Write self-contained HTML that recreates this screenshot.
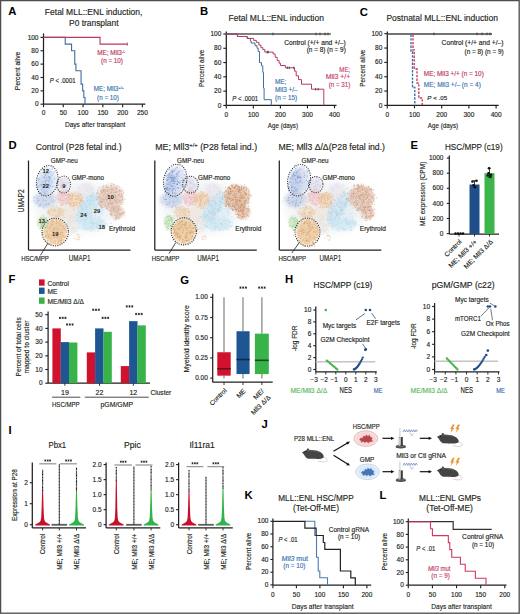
<!DOCTYPE html>
<html><head><meta charset="utf-8"><style>
html,body{margin:0;padding:0;background:#fff;}
svg{display:block;}
</style></head><body>
<svg width="520" height="614" viewBox="0 0 520 614" font-family='"Liberation Sans", sans-serif' fill="#231f20">
<defs>
<filter id="b1" x="-50%" y="-50%" width="200%" height="200%"><feGaussianBlur stdDeviation="1.6"/></filter>
<filter id="b3" x="-50%" y="-50%" width="200%" height="200%"><feGaussianBlur stdDeviation="4"/></filter>
</defs>
<rect x="0" y="0" width="520" height="614" fill="#fff"/>
<text x="8.27" y="15.45" font-size="11.3" fill="#000" font-weight="bold">A</text>
<text x="93.60" y="15.30" font-size="8.4" stroke="#231f20" stroke-width="0.15" text-anchor="middle" textLength="97.50" lengthAdjust="spacingAndGlyphs">Fetal MLL::ENL induction,</text>
<text x="93.80" y="25.60" font-size="8.4" stroke="#231f20" stroke-width="0.15" text-anchor="middle" textLength="49.50" lengthAdjust="spacingAndGlyphs">P0 transplant</text>
<line x1="43.50" y1="33.50" x2="43.50" y2="104.20" stroke="#231f20" stroke-width="1.25"/>
<line x1="40.50" y1="104.20" x2="43.50" y2="104.20" stroke="#231f20" stroke-width="1.125"/>
<text x="38.50" y="106.30" font-size="6.5" stroke="#231f20" stroke-width="0.15" text-anchor="end">0</text>
<line x1="40.50" y1="90.84" x2="43.50" y2="90.84" stroke="#231f20" stroke-width="1.125"/>
<text x="38.50" y="92.94" font-size="6.5" stroke="#231f20" stroke-width="0.15" text-anchor="end">20</text>
<line x1="40.50" y1="77.48" x2="43.50" y2="77.48" stroke="#231f20" stroke-width="1.125"/>
<text x="38.50" y="79.58" font-size="6.5" stroke="#231f20" stroke-width="0.15" text-anchor="end">40</text>
<line x1="40.50" y1="64.12" x2="43.50" y2="64.12" stroke="#231f20" stroke-width="1.125"/>
<text x="38.50" y="66.22" font-size="6.5" stroke="#231f20" stroke-width="0.15" text-anchor="end">60</text>
<line x1="40.50" y1="50.76" x2="43.50" y2="50.76" stroke="#231f20" stroke-width="1.125"/>
<text x="38.50" y="52.86" font-size="6.5" stroke="#231f20" stroke-width="0.15" text-anchor="end">80</text>
<line x1="40.50" y1="37.40" x2="43.50" y2="37.40" stroke="#231f20" stroke-width="1.125"/>
<text x="38.50" y="39.50" font-size="6.5" stroke="#231f20" stroke-width="0.15" text-anchor="end">100</text>
<line x1="43.50" y1="104.20" x2="145.40" y2="104.20" stroke="#231f20" stroke-width="1.25"/>
<line x1="43.50" y1="104.20" x2="43.50" y2="107.20" stroke="#231f20" stroke-width="1.125"/>
<text x="43.50" y="115.30" font-size="6.5" stroke="#231f20" stroke-width="0.15" text-anchor="middle">0</text>
<line x1="63.28" y1="104.20" x2="63.28" y2="107.20" stroke="#231f20" stroke-width="1.125"/>
<text x="63.28" y="115.30" font-size="6.5" stroke="#231f20" stroke-width="0.15" text-anchor="middle">50</text>
<line x1="83.05" y1="104.20" x2="83.05" y2="107.20" stroke="#231f20" stroke-width="1.125"/>
<text x="83.05" y="115.30" font-size="6.5" stroke="#231f20" stroke-width="0.15" text-anchor="middle">100</text>
<line x1="102.83" y1="104.20" x2="102.83" y2="107.20" stroke="#231f20" stroke-width="1.125"/>
<text x="102.83" y="115.30" font-size="6.5" stroke="#231f20" stroke-width="0.15" text-anchor="middle">150</text>
<line x1="122.60" y1="104.20" x2="122.60" y2="107.20" stroke="#231f20" stroke-width="1.125"/>
<text x="122.60" y="115.30" font-size="6.5" stroke="#231f20" stroke-width="0.15" text-anchor="middle">200</text>
<line x1="142.38" y1="104.20" x2="142.38" y2="107.20" stroke="#231f20" stroke-width="1.125"/>
<text x="142.38" y="115.30" font-size="6.5" stroke="#231f20" stroke-width="0.15" text-anchor="middle">250</text>
<text x="95.20" y="126.60" font-size="7.8" stroke="#231f20" stroke-width="0.15" text-anchor="middle" textLength="60.50" lengthAdjust="spacingAndGlyphs">Days after transplant</text>
<text x="20.20" y="71.00" font-size="6.8" stroke="#231f20" stroke-width="0.15" text-anchor="middle" textLength="38.50" lengthAdjust="spacingAndGlyphs" transform="rotate(-90 20.20 71.00)">Percent alive</text>
<path d="M43.50,37.40 L65.25,37.40 L65.25,37.40 L65.25,44.08 L71.58,44.08 L71.58,44.08 L71.58,50.76 L74.74,50.76 L74.74,50.76 L74.74,64.12 L75.93,64.12 L75.93,64.12 L75.93,70.80 L81.07,70.80 L81.07,70.80 L81.07,84.16 L82.65,84.16 L82.65,84.16 L82.65,90.84 L83.84,90.84 L83.84,90.84 L83.84,97.52 L85.03,97.52 L85.03,97.52 L85.03,104.20" stroke="#3f6f9c" stroke-width="1.1" fill="none"/>
<path d="M43.50,37.40 L100.06,37.40 L100.06,37.40 L100.06,44.08 L127.35,44.08" stroke="#b8385c" stroke-width="1.1" fill="none"/>
<line x1="127.35" y1="42.58" x2="127.35" y2="45.58" stroke="#b8385c" stroke-width="0.9"/>
<text x="97.30" y="54.90" font-size="6.3" stroke="#c0395e" stroke-width="0.15" fill="#c0395e">ME; Mll3<tspan font-size="3.6" dy="-2.4">-/-</tspan></text>
<text x="112.00" y="62.60" font-size="6.3" stroke="#c0395e" stroke-width="0.15" text-anchor="middle" fill="#c0395e">(n = 10)</text>
<text x="93.80" y="90.90" font-size="6.3" stroke="#3a75b0" stroke-width="0.15" fill="#3a75b0">ME; Mll3<tspan font-size="3.6" dy="-2.4">+/+</tspan></text>
<text x="108.00" y="99.50" font-size="6.3" stroke="#3a75b0" stroke-width="0.15" text-anchor="middle" fill="#3a75b0">(n = 10)</text>
<text x="49.80" y="83.40" font-size="6.9" stroke="#231f20" stroke-width="0.15" textLength="25.80" lengthAdjust="spacingAndGlyphs"><tspan font-style="italic">P</tspan> &lt; .0001</text>
<text x="199.90" y="15.45" font-size="11.3" fill="#000" font-weight="bold">B</text>
<text x="276.20" y="20.60" font-size="8.5" stroke="#231f20" stroke-width="0.15" text-anchor="middle" textLength="95.50" lengthAdjust="spacingAndGlyphs">Fetal MLL::ENL induction</text>
<line x1="226.30" y1="31.50" x2="226.30" y2="105.40" stroke="#231f20" stroke-width="1.25"/>
<line x1="223.30" y1="105.40" x2="226.30" y2="105.40" stroke="#231f20" stroke-width="1.125"/>
<text x="221.30" y="107.50" font-size="6.5" stroke="#231f20" stroke-width="0.15" text-anchor="end">0</text>
<line x1="223.30" y1="91.12" x2="226.30" y2="91.12" stroke="#231f20" stroke-width="1.125"/>
<text x="221.30" y="93.22" font-size="6.5" stroke="#231f20" stroke-width="0.15" text-anchor="end">20</text>
<line x1="223.30" y1="76.84" x2="226.30" y2="76.84" stroke="#231f20" stroke-width="1.125"/>
<text x="221.30" y="78.94" font-size="6.5" stroke="#231f20" stroke-width="0.15" text-anchor="end">40</text>
<line x1="223.30" y1="62.56" x2="226.30" y2="62.56" stroke="#231f20" stroke-width="1.125"/>
<text x="221.30" y="64.66" font-size="6.5" stroke="#231f20" stroke-width="0.15" text-anchor="end">60</text>
<line x1="223.30" y1="48.28" x2="226.30" y2="48.28" stroke="#231f20" stroke-width="1.125"/>
<text x="221.30" y="50.38" font-size="6.5" stroke="#231f20" stroke-width="0.15" text-anchor="end">80</text>
<line x1="223.30" y1="34.00" x2="226.30" y2="34.00" stroke="#231f20" stroke-width="1.125"/>
<text x="221.30" y="36.10" font-size="6.5" stroke="#231f20" stroke-width="0.15" text-anchor="end">100</text>
<line x1="226.30" y1="105.40" x2="336.50" y2="105.40" stroke="#231f20" stroke-width="1.25"/>
<line x1="226.30" y1="105.40" x2="226.30" y2="108.40" stroke="#231f20" stroke-width="1.125"/>
<text x="226.30" y="116.90" font-size="6.5" stroke="#231f20" stroke-width="0.15" text-anchor="middle">0</text>
<line x1="253.35" y1="105.40" x2="253.35" y2="108.40" stroke="#231f20" stroke-width="1.125"/>
<text x="253.35" y="116.90" font-size="6.5" stroke="#231f20" stroke-width="0.15" text-anchor="middle">100</text>
<line x1="280.40" y1="105.40" x2="280.40" y2="108.40" stroke="#231f20" stroke-width="1.125"/>
<text x="280.40" y="116.90" font-size="6.5" stroke="#231f20" stroke-width="0.15" text-anchor="middle">200</text>
<line x1="307.45" y1="105.40" x2="307.45" y2="108.40" stroke="#231f20" stroke-width="1.125"/>
<text x="307.45" y="116.90" font-size="6.5" stroke="#231f20" stroke-width="0.15" text-anchor="middle">300</text>
<line x1="334.50" y1="105.40" x2="334.50" y2="108.40" stroke="#231f20" stroke-width="1.125"/>
<text x="334.50" y="116.90" font-size="6.5" stroke="#231f20" stroke-width="0.15" text-anchor="middle">400</text>
<text x="282.90" y="127.80" font-size="7.6" stroke="#231f20" stroke-width="0.15" text-anchor="middle" textLength="30.30" lengthAdjust="spacingAndGlyphs">Age (days)</text>
<text x="203.90" y="68.40" font-size="7.8" stroke="#231f20" stroke-width="0.15" text-anchor="middle" textLength="37.30" lengthAdjust="spacingAndGlyphs" transform="rotate(-90 203.90 68.40)">Percent alive</text>
<line x1="226.30" y1="34.00" x2="330.80" y2="34.00" stroke="#555" stroke-width="1.5"/>
<line x1="273.00" y1="32.60" x2="273.00" y2="35.40" stroke="#333" stroke-width="0.8"/>
<line x1="316.00" y1="32.60" x2="316.00" y2="35.40" stroke="#333" stroke-width="0.8"/>
<line x1="320.00" y1="32.60" x2="320.00" y2="35.40" stroke="#333" stroke-width="0.8"/>
<line x1="325.00" y1="32.60" x2="325.00" y2="35.40" stroke="#333" stroke-width="0.8"/>
<line x1="328.00" y1="32.60" x2="328.00" y2="35.40" stroke="#333" stroke-width="0.8"/>
<path d="M226.30,34.00 L237.40,34.00 L237.40,36.50 L247.20,36.50 L247.20,38.40 L250.40,38.40 L250.40,41.00 L251.10,41.00 L251.10,43.00 L255.00,43.00 L255.00,45.60 L257.00,45.60 L257.00,48.20 L258.20,48.20 L258.20,51.50 L259.50,51.50 L259.50,62.60 L261.50,62.60 L261.50,65.80 L262.80,65.80 L262.80,72.30 L263.50,72.30 L263.50,88.00 L264.10,88.00 L264.10,99.70 L271.30,99.70 L271.30,105.40" stroke="#3f6f9c" stroke-width="1.0" fill="none"/>
<path d="M226.30,34.00 L237.40,34.00 L237.40,36.50 L247.20,36.50 L247.20,38.40 L253.70,38.40 L253.70,40.40 L256.30,40.40 L256.30,42.30 L258.90,42.30 L258.90,45.00 L260.90,45.00 L260.90,47.60 L262.80,47.60 L262.80,49.50 L264.80,49.50 L264.80,52.10 L273.20,52.10 L273.20,54.00 L275.20,54.00 L275.20,57.30 L277.20,57.30 L277.20,60.60 L279.10,60.60 L279.10,63.20 L280.40,63.20 L280.40,65.50 L285.40,65.50 L285.40,67.80 L294.60,67.80 L294.60,71.20 L296.20,71.20 L296.20,75.80 L298.50,75.80 L298.50,79.60 L301.50,79.60 L301.50,84.20 L311.50,84.20 L311.50,89.20 L323.80,89.20 L323.80,105.40" stroke="#b83a5e" stroke-width="1.0" fill="none"/>
<line x1="267.30" y1="50.80" x2="267.30" y2="53.40" stroke="#222" stroke-width="0.7"/>
<line x1="268.20" y1="50.80" x2="268.20" y2="53.40" stroke="#222" stroke-width="0.7"/>
<line x1="287.30" y1="66.50" x2="287.30" y2="69.10" stroke="#222" stroke-width="0.7"/>
<line x1="289.30" y1="66.50" x2="289.30" y2="69.10" stroke="#222" stroke-width="0.7"/>
<line x1="293.80" y1="66.50" x2="293.80" y2="69.10" stroke="#222" stroke-width="0.7"/>
<line x1="315.60" y1="87.90" x2="315.60" y2="90.50" stroke="#222" stroke-width="0.7"/>
<line x1="318.20" y1="87.90" x2="318.20" y2="90.50" stroke="#222" stroke-width="0.7"/>
<text x="345.80" y="45.00" font-size="6.4" stroke="#231f20" stroke-width="0.15" text-anchor="end" textLength="61.60" lengthAdjust="spacingAndGlyphs">Control (+/+ and +/–)</text>
<text x="345.80" y="52.30" font-size="6.4" stroke="#231f20" stroke-width="0.15" text-anchor="end" textLength="39.10" lengthAdjust="spacingAndGlyphs">(n = 8) (n = 9)</text>
<text x="350.30" y="71.60" font-size="6.5" stroke="#c8406a" stroke-width="0.15" text-anchor="end" fill="#c8406a" textLength="11.00" lengthAdjust="spacingAndGlyphs">ME;</text>
<text x="350.30" y="79.20" font-size="6.5" stroke="#c8406a" stroke-width="0.15" text-anchor="end" fill="#c8406a" textLength="24.50" lengthAdjust="spacingAndGlyphs">Mll3 +/+</text>
<text x="350.30" y="86.80" font-size="6.5" stroke="#c8406a" stroke-width="0.15" text-anchor="end" fill="#c8406a" textLength="21.60" lengthAdjust="spacingAndGlyphs">(n = 31)</text>
<text x="275.00" y="83.60" font-size="6.4" stroke="#3a75b0" stroke-width="0.15" fill="#3a75b0">ME;</text>
<text x="275.00" y="91.80" font-size="6.4" stroke="#3a75b0" stroke-width="0.15" fill="#3a75b0">Mll3 +/–</text>
<text x="275.00" y="100.00" font-size="6.4" stroke="#3a75b0" stroke-width="0.15" fill="#3a75b0">(n = 15)</text>
<text x="232.20" y="101.00" font-size="6.9" stroke="#231f20" stroke-width="0.15" textLength="26.00" lengthAdjust="spacingAndGlyphs"><tspan font-style="italic">P</tspan> &lt; .0001</text>
<text x="359.80" y="15.50" font-size="11.3" fill="#000" font-weight="bold">C</text>
<text x="442.20" y="20.80" font-size="8.5" stroke="#231f20" stroke-width="0.15" text-anchor="middle" textLength="111.50" lengthAdjust="spacingAndGlyphs">Postnatal MLL::ENL induction</text>
<line x1="387.30" y1="31.50" x2="387.30" y2="105.40" stroke="#231f20" stroke-width="1.25"/>
<line x1="384.30" y1="105.40" x2="387.30" y2="105.40" stroke="#231f20" stroke-width="1.125"/>
<text x="382.30" y="107.50" font-size="6.5" stroke="#231f20" stroke-width="0.15" text-anchor="end">0</text>
<line x1="384.30" y1="91.06" x2="387.30" y2="91.06" stroke="#231f20" stroke-width="1.125"/>
<text x="382.30" y="93.16" font-size="6.5" stroke="#231f20" stroke-width="0.15" text-anchor="end">20</text>
<line x1="384.30" y1="76.72" x2="387.30" y2="76.72" stroke="#231f20" stroke-width="1.125"/>
<text x="382.30" y="78.82" font-size="6.5" stroke="#231f20" stroke-width="0.15" text-anchor="end">40</text>
<line x1="384.30" y1="62.38" x2="387.30" y2="62.38" stroke="#231f20" stroke-width="1.125"/>
<text x="382.30" y="64.48" font-size="6.5" stroke="#231f20" stroke-width="0.15" text-anchor="end">60</text>
<line x1="384.30" y1="48.04" x2="387.30" y2="48.04" stroke="#231f20" stroke-width="1.125"/>
<text x="382.30" y="50.14" font-size="6.5" stroke="#231f20" stroke-width="0.15" text-anchor="end">80</text>
<line x1="384.30" y1="33.70" x2="387.30" y2="33.70" stroke="#231f20" stroke-width="1.125"/>
<text x="382.30" y="35.80" font-size="6.5" stroke="#231f20" stroke-width="0.15" text-anchor="end">100</text>
<line x1="387.30" y1="105.40" x2="498.70" y2="105.40" stroke="#231f20" stroke-width="1.25"/>
<line x1="387.30" y1="105.40" x2="387.30" y2="108.40" stroke="#231f20" stroke-width="1.125"/>
<text x="387.30" y="116.90" font-size="6.5" stroke="#231f20" stroke-width="0.15" text-anchor="middle">0</text>
<line x1="414.50" y1="105.40" x2="414.50" y2="108.40" stroke="#231f20" stroke-width="1.125"/>
<text x="414.50" y="116.90" font-size="6.5" stroke="#231f20" stroke-width="0.15" text-anchor="middle">100</text>
<line x1="441.70" y1="105.40" x2="441.70" y2="108.40" stroke="#231f20" stroke-width="1.125"/>
<text x="441.70" y="116.90" font-size="6.5" stroke="#231f20" stroke-width="0.15" text-anchor="middle">200</text>
<line x1="468.90" y1="105.40" x2="468.90" y2="108.40" stroke="#231f20" stroke-width="1.125"/>
<text x="468.90" y="116.90" font-size="6.5" stroke="#231f20" stroke-width="0.15" text-anchor="middle">300</text>
<line x1="496.10" y1="105.40" x2="496.10" y2="108.40" stroke="#231f20" stroke-width="1.125"/>
<text x="496.10" y="116.90" font-size="6.5" stroke="#231f20" stroke-width="0.15" text-anchor="middle">400</text>
<text x="443.00" y="128.20" font-size="7.6" stroke="#231f20" stroke-width="0.15" text-anchor="middle" textLength="30.30" lengthAdjust="spacingAndGlyphs">Age (days)</text>
<text x="365.50" y="68.20" font-size="7.8" stroke="#231f20" stroke-width="0.15" text-anchor="middle" textLength="37.30" lengthAdjust="spacingAndGlyphs" transform="rotate(-90 365.50 68.20)">Percent alive</text>
<line x1="387.30" y1="33.90" x2="492.00" y2="33.90" stroke="#444" stroke-width="1.5"/>
<line x1="434.00" y1="32.50" x2="434.00" y2="35.30" stroke="#333" stroke-width="0.8"/>
<line x1="477.00" y1="32.50" x2="477.00" y2="35.30" stroke="#333" stroke-width="0.8"/>
<line x1="482.00" y1="32.50" x2="482.00" y2="35.30" stroke="#333" stroke-width="0.8"/>
<line x1="487.00" y1="32.50" x2="487.00" y2="35.30" stroke="#333" stroke-width="0.8"/>
<line x1="490.00" y1="32.50" x2="490.00" y2="35.30" stroke="#333" stroke-width="0.8"/>
<path d="M411.00,34.50 L411.00,52.00 L412.50,52.00 L412.50,87.50 L414.80,87.50 L414.80,105.40" stroke="#3a6aa8" stroke-width="1.35" fill="none" stroke-dasharray="2.4 1.3"/>
<path d="M413.00,34.50 L413.00,50.00 L414.20,50.00 L414.20,69.00 L417.00,69.00 L417.00,83.00 L418.80,83.00 L418.80,98.00 L422.30,98.00 L422.30,105.40" stroke="#d0345a" stroke-width="1.35" fill="none" stroke-dasharray="2.4 1.3"/>
<text x="503.60" y="44.70" font-size="6.4" stroke="#231f20" stroke-width="0.15" text-anchor="end" textLength="62.00" lengthAdjust="spacingAndGlyphs">Control (+/+ and +/–)</text>
<text x="503.60" y="53.50" font-size="6.4" stroke="#231f20" stroke-width="0.15" text-anchor="end" textLength="39.10" lengthAdjust="spacingAndGlyphs">(n = 8) (n = 9)</text>
<text x="423.80" y="75.80" font-size="6.4" stroke="#c0395e" stroke-width="0.15" fill="#c0395e" textLength="60.00" lengthAdjust="spacingAndGlyphs">ME; Mll3 +/+ (n = 10)</text>
<text x="423.80" y="86.50" font-size="6.4" stroke="#3a75b0" stroke-width="0.15" fill="#3a75b0" textLength="57.00" lengthAdjust="spacingAndGlyphs">ME; Mll3 +/– (n = 4)</text>
<text x="427.30" y="100.30" font-size="6.2" stroke="#231f20" stroke-width="0.15"><tspan font-style="italic">P</tspan> &lt; .05</text>
<text x="8.50" y="148.55" font-size="11.3" fill="#000" font-weight="bold">D</text>
<text x="35.80" y="149.90" font-size="8.8" stroke="#231f20" stroke-width="0.15" textLength="85.80" lengthAdjust="spacingAndGlyphs">Control (P28 fetal ind.)</text>
<text x="155.30" y="149.90" font-size="8.8" stroke="#231f20" stroke-width="0.15" textLength="101.80" lengthAdjust="spacingAndGlyphs">ME; Mll3<tspan font-size="5.8" dy="-3.3">+/+</tspan><tspan dy="3.3"> (P28 fetal ind.)</tspan></text>
<text x="278.60" y="150.00" font-size="8.8" stroke="#231f20" stroke-width="0.15" textLength="106.40" lengthAdjust="spacingAndGlyphs">ME; Mll3 Δ/Δ(P28 fetal ind.)</text>
<ellipse cx="76.50" cy="207.00" rx="42" ry="27" fill="#eef1f4" fill-opacity="0.8" filter="url(#b3)"/>
<ellipse cx="45.00" cy="199.50" rx="12" ry="8" fill="#dde3ee" fill-opacity="0.8" filter="url(#b1)"/>
<ellipse cx="86.20" cy="191.70" rx="9" ry="9" fill="#eaeaef" fill-opacity="0.9" filter="url(#b1)"/>
<ellipse cx="68.50" cy="214.00" rx="9" ry="8" fill="#efe6dc" fill-opacity="0.8" filter="url(#b1)"/>
<ellipse cx="45.00" cy="199.50" rx="10.35" ry="6.75" fill="#d8dfec" fill-opacity="0.5" filter="url(#b1)"/>
<path d="M53.4 205.2h0M54.2 196.6h0M43.6 198.0h0M50.6 203.8h0M47.8 198.2h0M46.4 203.8h0M42.8 201.5h0M53.2 199.4h0M36.7 196.2h0M54.3 205.8h0M52.8 197.5h0M43.0 197.4h0M46.7 193.8h0M39.6 200.8h0M45.1 201.2h0M42.7 199.5h0M46.2 206.5h0M52.0 200.6h0M33.8 196.9h0" stroke="#c9d3e4" stroke-width="1.15" stroke-linecap="round" stroke-opacity="0.68" fill="none"/>
<path d="M55.1 197.3h0M47.7 192.2h0M40.0 193.6h0M39.8 199.2h0M48.4 199.2h0M51.9 204.2h0M38.8 200.4h0M43.2 206.5h0M50.1 204.0h0M50.9 193.9h0M42.1 204.4h0M54.9 200.5h0M36.2 195.4h0M54.5 203.6h0M43.5 192.7h0M41.1 199.6h0M41.0 205.5h0M52.3 200.7h0M43.0 200.4h0M44.8 197.1h0M38.3 198.2h0M48.8 202.9h0M52.0 202.0h0M50.9 203.6h0M43.5 201.7h0" stroke="#d6dce8" stroke-width="1.15" stroke-linecap="round" stroke-opacity="0.68" fill="none"/>
<path d="M55.2 200.7h0M38.2 199.2h0M39.8 198.4h0M46.9 203.7h0M50.7 201.7h0M52.8 200.6h0M45.6 200.7h0M33.6 201.0h0M53.0 196.0h0M39.3 205.4h0M48.4 203.0h0M50.9 200.9h0M48.6 203.9h0M48.1 205.3h0M48.3 197.9h0M53.7 200.1h0M50.8 194.5h0M46.5 204.1h0M39.3 205.3h0M44.5 200.3h0M50.4 197.8h0M45.8 190.9h0M48.2 202.9h0M51.5 201.2h0M51.9 194.7h0M40.0 195.7h0M40.0 195.7h0" stroke="#b9c6de" stroke-width="1.15" stroke-linecap="round" stroke-opacity="0.68" fill="none"/>
<path d="M41.2 199.5h0M38.5 195.4h0M41.6 201.9h0M43.4 206.1h0M37.1 197.7h0M38.5 199.9h0M39.5 204.2h0M50.2 195.8h0M35.2 202.5h0M42.4 196.2h0M38.2 200.6h0M40.1 191.3h0M49.5 200.1h0M44.4 193.7h0M55.7 200.7h0M47.2 195.5h0M46.3 201.6h0M40.5 200.8h0M51.5 204.8h0M46.6 195.0h0M48.7 200.1h0M41.7 202.1h0M47.0 201.2h0M41.3 202.5h0M46.1 200.6h0M36.4 194.8h0M53.1 204.2h0M40.7 205.0h0" stroke="#e4e8f0" stroke-width="1.15" stroke-linecap="round" stroke-opacity="0.68" fill="none"/>
<path d="M42.1 198.1h0M52.3 205.9h0M54.2 202.4h0M47.3 201.1h0M49.4 193.0h0M37.5 196.3h0M45.5 203.3h0M47.9 194.0h0M51.3 196.3h0M48.5 206.8h0M42.5 194.7h0M54.6 200.2h0M41.9 204.0h0M54.0 203.2h0M46.4 198.0h0M36.5 200.7h0M52.5 201.5h0M43.6 202.9h0M44.5 205.3h0M49.5 199.1h0M44.9 197.4h0M56.7 202.9h0M45.4 206.9h0M49.4 195.3h0M41.2 193.0h0M37.2 194.3h0M53.2 195.3h0M51.4 199.5h0M40.9 196.2h0M41.8 202.3h0M37.3 203.4h0" stroke="#e8e0e4" stroke-width="1.15" stroke-linecap="round" stroke-opacity="0.68" fill="none"/>
<ellipse cx="89.50" cy="212.00" rx="13.50" ry="14.40" fill="#d8edf5" fill-opacity="0.55" filter="url(#b1)"/>
<path d="M81.5 222.1h0M92.6 214.9h0M101.1 206.5h0M89.2 205.5h0M81.1 220.1h0M74.0 208.3h0M102.2 212.4h0M76.3 210.3h0M89.6 216.9h0M102.5 210.3h0M96.2 206.9h0M75.5 209.1h0M82.6 198.5h0M83.0 211.5h0M99.3 224.6h0M87.0 209.4h0M95.0 203.6h0M100.7 220.9h0M97.4 209.5h0M88.1 222.2h0M102.0 205.4h0M95.1 213.8h0M93.6 209.4h0M102.9 210.8h0M77.1 207.5h0M87.1 218.2h0M75.2 201.5h0M100.7 208.7h0M103.0 212.6h0M80.2 215.7h0M81.9 205.6h0M90.3 216.5h0M82.4 201.9h0M101.6 220.7h0" stroke="#c4e2f0" stroke-width="1.15" stroke-linecap="round" stroke-opacity="0.68" fill="none"/>
<path d="M91.5 215.3h0M95.2 222.3h0M93.2 217.5h0M102.1 213.6h0M83.2 220.0h0M78.1 199.7h0M87.2 222.7h0M87.3 216.6h0M80.6 207.2h0M85.3 219.9h0M85.6 219.9h0M91.8 207.6h0M99.2 200.3h0M83.5 204.9h0M93.6 213.3h0M93.8 211.4h0M100.4 205.8h0M94.0 199.9h0M102.2 209.5h0M86.7 211.0h0M87.1 205.8h0M85.6 222.5h0M76.1 214.9h0M80.8 224.9h0M88.0 221.0h0M96.3 205.9h0M88.8 196.0h0M77.9 221.5h0M102.5 215.1h0M89.0 217.4h0M93.2 203.4h0M83.1 204.1h0M89.9 205.1h0M79.3 214.5h0M96.3 218.4h0M96.0 223.4h0M92.8 225.4h0M100.3 199.9h0" stroke="#d4ecf6" stroke-width="1.15" stroke-linecap="round" stroke-opacity="0.68" fill="none"/>
<path d="M99.8 211.1h0M95.8 207.0h0M91.3 223.2h0M85.5 223.0h0M94.7 210.5h0M91.6 222.9h0M86.3 204.6h0M86.3 225.9h0M97.5 206.2h0M81.9 207.4h0M92.6 198.0h0M84.7 221.1h0M82.9 214.3h0M81.4 206.3h0M84.2 197.0h0M95.6 213.7h0M84.1 205.1h0M102.7 209.8h0M76.9 217.7h0M96.2 205.0h0M87.2 217.0h0M83.7 206.2h0M95.4 215.9h0M80.3 215.3h0M100.4 201.2h0M83.2 221.5h0M96.8 200.2h0M90.6 227.0h0M98.9 211.3h0M96.5 210.1h0M89.6 201.6h0M94.3 204.9h0M77.9 211.9h0M84.6 208.8h0M88.7 223.8h0M88.2 215.8h0M87.8 214.7h0M75.7 217.5h0M100.1 208.0h0M97.7 216.7h0M78.0 213.6h0M88.9 219.5h0M95.5 223.8h0M79.7 213.3h0" stroke="#b4dcec" stroke-width="1.15" stroke-linecap="round" stroke-opacity="0.68" fill="none"/>
<path d="M92.1 211.4h0M90.8 221.8h0M85.2 213.3h0M93.6 200.1h0M100.7 220.4h0M91.2 212.1h0M99.9 216.2h0M88.3 202.9h0M102.9 204.1h0M90.1 225.7h0M93.6 197.6h0M79.0 213.6h0M96.5 223.5h0M85.0 203.3h0M95.3 207.3h0M86.6 199.5h0M98.2 219.5h0M74.3 214.0h0M80.9 203.5h0M86.5 224.9h0M99.9 220.9h0M100.4 207.0h0M94.2 219.8h0M92.4 218.5h0M91.1 214.2h0M101.0 213.5h0M89.5 199.1h0M100.8 207.3h0M89.0 206.3h0M91.9 213.4h0M95.2 214.5h0M93.1 224.5h0M92.0 201.6h0M84.6 209.9h0M93.4 214.1h0M88.3 207.2h0M94.0 220.4h0M93.5 223.1h0M99.8 217.7h0M90.1 215.8h0M82.1 221.1h0M91.2 215.3h0" stroke="#e4d8dc" stroke-width="1.15" stroke-linecap="round" stroke-opacity="0.68" fill="none"/>
<ellipse cx="47.20" cy="180.70" rx="9.06" ry="13.17" fill="#c4d2ec" fill-opacity="0.45" filter="url(#b1)" transform="rotate(12 47.20 180.70)"/>
<path d="M51.5 175.4h0M41.6 185.6h0M48.9 193.0h0M53.9 185.4h0M41.7 188.1h0M50.4 171.4h0M44.6 190.0h0M43.4 192.1h0M47.6 176.5h0M48.3 170.3h0M55.9 185.5h0M43.0 169.9h0M53.8 186.4h0M52.1 179.0h0M52.0 181.7h0M42.8 192.1h0M41.5 169.1h0M46.7 188.3h0M44.4 180.7h0M42.2 173.1h0M51.4 166.4h0M51.0 182.1h0M46.3 176.8h0M58.3 180.8h0M48.1 183.6h0M44.1 173.4h0M51.4 169.4h0M47.9 166.4h0M41.1 193.2h0M56.7 185.6h0M46.8 172.6h0M36.4 185.7h0M53.1 182.4h0M40.7 175.6h0M44.2 176.5h0M45.2 192.5h0M48.0 183.2h0M56.3 173.0h0M49.8 185.1h0M43.9 187.0h0" stroke="#c8d4ec" stroke-width="1.15" stroke-linecap="round" stroke-opacity="0.68" fill="none"/>
<path d="M43.3 181.1h0M37.6 184.8h0M52.1 171.7h0M53.0 167.3h0M50.1 172.6h0M45.6 181.7h0M45.2 194.2h0M56.4 182.8h0M50.6 179.5h0M51.1 184.6h0M47.3 193.0h0M43.2 173.3h0M48.9 189.5h0M56.3 178.2h0M51.5 166.5h0M50.1 179.2h0M50.9 178.4h0M38.2 189.7h0M54.7 182.0h0M52.3 175.1h0M55.0 180.4h0M51.3 185.5h0M52.0 183.6h0M46.2 187.2h0M41.6 193.1h0M49.4 168.6h0M55.0 176.1h0M45.4 188.8h0M42.7 170.1h0M53.0 186.2h0M43.9 188.5h0M44.4 184.7h0M49.8 186.6h0M51.4 186.9h0M49.1 171.0h0" stroke="#dce4f2" stroke-width="1.15" stroke-linecap="round" stroke-opacity="0.68" fill="none"/>
<path d="M43.3 179.7h0M39.2 173.4h0M51.8 177.9h0M53.6 172.7h0M51.3 191.9h0M55.9 178.6h0M48.1 193.2h0M50.5 175.1h0M51.3 182.8h0M50.4 190.1h0M53.0 183.0h0M42.1 184.5h0M41.6 169.1h0M44.9 170.7h0M41.7 173.6h0M44.4 188.8h0M50.6 176.6h0M46.9 178.1h0M47.5 186.7h0M40.4 178.5h0M49.9 189.3h0M50.1 183.9h0M46.2 171.0h0M44.4 169.3h0M39.7 186.3h0M43.9 168.3h0M54.6 177.2h0M46.4 178.9h0M52.2 176.2h0M37.9 187.7h0M45.0 186.6h0M42.3 194.7h0" stroke="#e6dce6" stroke-width="1.15" stroke-linecap="round" stroke-opacity="0.68" fill="none"/>
<path d="M44.8 190.5h0M39.2 186.9h0M39.1 189.8h0M52.6 178.7h0M37.3 177.6h0M45.1 194.4h0M46.6 184.3h0M43.5 170.7h0M40.1 177.8h0M43.4 183.9h0M52.9 175.0h0M45.9 175.7h0M45.5 191.4h0M50.4 168.6h0M39.8 174.5h0M45.8 187.2h0M48.5 180.3h0M47.6 185.1h0M44.8 186.9h0M51.2 166.4h0M47.8 168.6h0M49.1 189.1h0M54.2 186.9h0M50.9 171.8h0M48.0 176.0h0M47.4 168.4h0M45.5 189.6h0M56.9 180.7h0" stroke="#d0dcf0" stroke-width="1.15" stroke-linecap="round" stroke-opacity="0.68" fill="none"/>
<path d="M40.5 173.1h0M54.4 179.7h0M48.8 187.1h0M42.2 186.6h0M44.2 188.0h0M40.6 188.9h0M51.8 190.0h0M53.5 173.6h0M44.1 192.9h0M46.0 178.6h0M41.0 183.8h0M52.3 175.4h0M51.1 171.7h0M55.9 176.0h0M51.8 173.8h0M41.6 190.1h0M46.3 167.5h0M40.2 181.7h0M45.2 174.5h0M49.4 185.4h0M39.5 184.7h0M45.5 180.7h0M44.2 168.6h0M50.3 190.8h0M50.3 176.7h0M49.4 176.6h0M50.7 190.7h0M44.3 172.6h0M55.0 171.4h0M43.6 187.8h0M44.3 167.7h0M52.1 174.9h0M39.2 179.0h0M42.3 177.4h0" stroke="#b4c6e8" stroke-width="1.15" stroke-linecap="round" stroke-opacity="0.68" fill="none"/>
<path d="M45.1 182.2h0M43.4 169.8h0M43.9 192.1h0M39.9 186.8h0M46.6 190.0h0M43.9 176.9h0M45.0 189.0h0M53.4 172.0h0M39.0 191.1h0M39.0 173.3h0M40.2 183.2h0M51.0 182.8h0M37.8 185.7h0M45.4 187.2h0M54.5 178.6h0M37.6 179.7h0M47.2 172.1h0M49.3 188.0h0M51.0 177.3h0M50.2 171.7h0M38.3 187.3h0M50.5 173.8h0M52.6 168.8h0M47.6 171.7h0M49.8 178.5h0" stroke="#9fb5e0" stroke-width="1.15" stroke-linecap="round" stroke-opacity="0.68" fill="none"/>
<ellipse cx="44.70" cy="183.70" rx="6.68" ry="10.40" fill="#c4d2ec" fill-opacity="0.45" filter="url(#b1)" transform="rotate(12 44.70 183.70)"/>
<path d="M51.4 186.2h0M43.5 173.8h0M40.0 190.3h0M48.1 175.9h0M48.3 186.0h0M41.7 182.6h0M45.8 195.3h0M46.5 170.4h0M37.8 185.3h0M48.1 178.2h0M42.5 182.4h0M44.9 179.4h0M47.4 189.9h0M50.6 176.6h0M46.1 175.1h0M41.8 190.4h0M39.7 179.5h0M42.8 188.7h0M46.3 189.8h0M49.0 188.4h0M42.0 177.8h0M49.0 184.4h0M48.4 174.1h0M44.2 178.6h0M52.4 182.6h0M45.0 192.8h0M38.1 182.5h0M49.7 187.5h0" stroke="#b4c6e8" stroke-width="1.15" stroke-linecap="round" stroke-opacity="0.68" fill="none"/>
<path d="M49.1 180.4h0M42.4 191.3h0M46.9 183.8h0M49.7 183.8h0M47.1 186.5h0M49.8 179.9h0M45.9 186.9h0M40.6 193.5h0M42.1 187.7h0M41.8 192.8h0M43.4 181.4h0M44.1 177.9h0M46.5 181.0h0M42.6 183.5h0M46.2 187.2h0M41.5 189.4h0M39.2 192.4h0M49.2 179.5h0M48.0 173.5h0M47.1 178.3h0M43.3 184.6h0M42.8 184.9h0M43.9 184.6h0M41.0 184.2h0M44.1 186.7h0" stroke="#9fb5e0" stroke-width="1.15" stroke-linecap="round" stroke-opacity="0.68" fill="none"/>
<path d="M47.6 177.3h0M45.5 177.7h0M48.3 189.6h0M50.5 185.9h0M45.9 191.5h0M51.7 177.6h0M47.0 175.2h0M49.7 187.5h0M44.6 187.4h0M50.9 180.2h0M36.8 184.6h0M35.1 186.0h0M41.6 191.5h0M51.7 177.5h0M50.1 185.6h0M40.6 181.5h0M45.7 193.1h0M39.5 185.1h0M43.5 180.7h0M41.2 180.1h0M41.9 194.0h0M44.9 191.0h0M41.4 179.9h0M41.4 176.0h0M51.5 183.7h0M45.9 181.2h0M42.1 187.3h0M47.2 187.5h0M45.0 185.9h0M41.1 179.5h0" stroke="#cad6ee" stroke-width="1.15" stroke-linecap="round" stroke-opacity="0.68" fill="none"/>
<path d="M38.1 180.5h0M47.1 184.0h0M41.8 184.6h0M47.1 173.5h0M42.3 181.0h0M48.8 177.6h0M44.8 194.2h0M50.7 186.1h0M45.7 173.7h0M44.5 186.5h0M44.3 176.9h0M38.9 187.2h0M45.7 182.8h0M49.6 177.4h0M38.2 189.7h0M47.0 191.3h0M46.3 177.2h0M51.7 181.4h0M49.5 172.2h0M38.7 180.5h0M39.8 179.2h0M44.1 177.9h0M49.9 185.9h0M44.2 193.9h0M43.6 182.5h0M46.7 180.4h0M46.3 185.5h0M47.4 193.8h0M39.8 177.8h0" stroke="#8ea8da" stroke-width="1.15" stroke-linecap="round" stroke-opacity="0.68" fill="none"/>
<path d="M49.2 175.2h0M42.5 175.1h0M44.2 190.9h0M41.0 185.2h0M46.3 183.8h0M42.2 177.3h0M40.3 186.0h0M43.5 192.6h0M46.6 193.3h0M42.7 179.6h0M49.8 185.7h0M47.6 181.8h0M40.8 183.9h0M37.5 186.6h0M50.0 189.5h0M42.8 182.9h0M42.4 185.1h0M48.3 176.1h0M40.2 185.9h0M45.3 193.1h0M47.3 182.7h0M44.6 185.5h0M43.5 178.9h0M41.8 191.4h0M40.5 179.0h0M45.7 179.7h0M41.8 179.8h0M47.6 176.0h0M44.1 185.9h0M47.5 190.0h0M43.9 183.8h0M39.8 178.9h0M42.0 182.6h0" stroke="#dce4f2" stroke-width="1.15" stroke-linecap="round" stroke-opacity="0.68" fill="none"/>
<path d="M38.6 182.0h0M49.5 184.7h0M45.6 180.9h0M50.1 179.3h0M48.7 181.3h0M43.6 186.6h0M45.5 174.8h0M50.0 178.7h0M47.9 180.2h0M44.6 191.7h0M45.5 182.3h0M48.6 182.1h0M45.6 183.5h0M38.6 178.9h0M46.4 180.6h0M38.3 185.5h0M40.8 192.9h0M48.5 176.7h0M43.8 184.9h0M37.8 186.8h0M37.3 187.9h0M52.5 186.7h0M37.4 183.6h0M45.1 187.1h0M41.0 184.5h0M46.8 187.4h0M49.6 176.8h0M45.1 175.6h0M40.6 185.7h0M43.4 190.0h0M44.7 193.4h0M41.9 185.8h0" stroke="#7f9cd4" stroke-width="1.15" stroke-linecap="round" stroke-opacity="0.68" fill="none"/>
<ellipse cx="72.50" cy="224.00" rx="6.30" ry="9.00" fill="#ece6e2" fill-opacity="0.5" filter="url(#b1)"/>
<path d="M78.4 224.1h0M78.1 228.9h0M73.7 232.5h0M79.8 221.0h0M67.8 223.5h0M72.6 227.4h0M71.6 228.1h0M78.8 221.9h0M68.8 226.4h0M67.5 225.4h0M75.0 216.4h0M69.5 216.0h0M72.7 229.1h0M69.8 221.8h0M73.2 231.5h0" stroke="#e6dcd4" stroke-width="1.15" stroke-linecap="round" stroke-opacity="0.68" fill="none"/>
<path d="M65.3 226.3h0M70.4 217.2h0M73.4 229.7h0M70.8 231.3h0M69.3 227.6h0M73.3 215.9h0M71.3 228.4h0M80.0 222.7h0M72.0 218.4h0M74.7 231.8h0M71.6 215.9h0M74.2 223.2h0M68.1 221.7h0M71.2 222.9h0M75.5 222.9h0M74.3 225.2h0M72.9 217.6h0M78.5 221.4h0M74.8 229.3h0M75.8 231.4h0" stroke="#dde4ec" stroke-width="1.15" stroke-linecap="round" stroke-opacity="0.68" fill="none"/>
<path d="M73.3 220.7h0M72.7 217.2h0M69.6 224.2h0M70.4 229.0h0M70.9 224.1h0M76.6 229.1h0M72.9 227.3h0M74.3 214.3h0M70.2 226.3h0M70.7 224.6h0M78.3 221.5h0M68.5 229.9h0M74.8 228.3h0M71.9 230.5h0M69.9 221.2h0" stroke="#ecd8c4" stroke-width="1.15" stroke-linecap="round" stroke-opacity="0.68" fill="none"/>
<path d="M76.9 217.7h0M67.0 222.0h0M65.9 219.3h0M77.4 227.6h0M71.4 217.8h0M69.5 217.2h0M75.8 228.6h0M75.6 230.9h0M74.4 226.6h0M75.0 225.9h0M71.7 234.6h0M78.1 218.3h0M67.9 220.6h0M70.3 219.7h0M70.6 215.1h0" stroke="#d8e6ee" stroke-width="1.15" stroke-linecap="round" stroke-opacity="0.68" fill="none"/>
<ellipse cx="43.70" cy="200.70" rx="8.10" ry="6.30" fill="#c4d2ec" fill-opacity="0.35" filter="url(#b1)"/>
<path d="M52.7 202.3h0M42.6 198.3h0M37.0 202.1h0M39.2 195.6h0M46.4 205.8h0M42.0 205.6h0M44.0 197.7h0M47.3 204.3h0M38.5 199.3h0M40.6 196.7h0M50.1 205.8h0M40.8 198.7h0M44.9 197.6h0M39.8 196.1h0M46.3 199.8h0M40.5 196.0h0M37.7 196.5h0M41.5 204.3h0M51.4 202.8h0" stroke="#cad6ee" stroke-width="1.15" stroke-linecap="round" stroke-opacity="0.68" fill="none"/>
<path d="M38.4 200.5h0M44.1 208.0h0M38.5 204.2h0M40.7 203.9h0M36.6 202.9h0M46.5 197.6h0M42.4 201.7h0M50.6 196.4h0M42.1 195.9h0M39.2 206.3h0M43.4 200.0h0M45.1 195.6h0M40.7 205.1h0M40.0 205.1h0" stroke="#8ea8da" stroke-width="1.15" stroke-linecap="round" stroke-opacity="0.68" fill="none"/>
<path d="M38.9 204.1h0M40.0 197.7h0M47.0 196.7h0M50.7 198.2h0M43.6 201.9h0M40.7 196.8h0M46.0 201.8h0M47.6 195.4h0M51.0 199.7h0" stroke="#dce4f2" stroke-width="1.15" stroke-linecap="round" stroke-opacity="0.68" fill="none"/>
<path d="M34.7 197.7h0M38.2 200.9h0M37.4 198.2h0M44.9 204.5h0M49.4 197.1h0M43.8 206.8h0M53.8 201.6h0M46.5 204.0h0M51.7 198.9h0M45.8 193.5h0M48.5 204.1h0M46.1 200.9h0" stroke="#7f9cd4" stroke-width="1.15" stroke-linecap="round" stroke-opacity="0.68" fill="none"/>
<path d="M46.4 204.9h0M47.5 206.8h0M38.3 196.7h0M40.1 195.7h0M37.1 203.3h0M34.6 200.5h0M45.5 198.5h0M45.6 196.2h0M49.2 204.2h0M49.3 196.8h0M39.9 198.4h0M38.0 202.0h0M48.8 202.2h0M41.6 200.4h0M44.2 204.9h0M46.6 195.6h0M41.5 197.2h0M49.0 198.9h0M42.4 196.8h0M46.4 196.7h0" stroke="#c8d4ec" stroke-width="1.15" stroke-linecap="round" stroke-opacity="0.68" fill="none"/>
<path d="M43.2 202.2h0M46.7 201.8h0M41.9 202.9h0M45.1 205.8h0M40.3 200.6h0M51.3 199.9h0M52.4 199.3h0M52.2 203.5h0M41.5 196.9h0M48.0 197.9h0M41.7 200.9h0M51.3 203.5h0M38.1 202.9h0M45.3 202.0h0M42.5 205.0h0M47.1 201.3h0M44.6 196.6h0M45.0 197.2h0M41.2 204.8h0M47.1 198.0h0M49.5 205.4h0" stroke="#d8e0f0" stroke-width="1.15" stroke-linecap="round" stroke-opacity="0.68" fill="none"/>
<ellipse cx="63.60" cy="184.50" rx="5.59" ry="6.89" fill="#dadcec" fill-opacity="0.6" filter="url(#b1)"/>
<path d="M60.0 180.1h0M63.8 182.3h0M65.5 191.4h0M60.9 184.0h0M59.6 190.7h0M58.9 187.0h0M66.3 183.8h0M57.7 183.4h0M66.2 189.5h0M61.2 181.5h0M64.0 181.5h0M66.2 189.9h0M58.6 180.6h0" stroke="#c8cce4" stroke-width="1.15" stroke-linecap="round" stroke-opacity="0.68" fill="none"/>
<path d="M58.1 184.8h0M63.7 185.8h0M63.4 190.9h0M62.6 183.5h0M61.0 180.2h0M68.9 182.8h0M64.7 187.3h0M60.9 179.1h0M68.1 187.0h0M65.9 185.6h0M62.4 178.7h0M61.9 186.1h0M57.9 180.7h0M61.1 186.9h0M64.2 185.2h0" stroke="#b8bedc" stroke-width="1.15" stroke-linecap="round" stroke-opacity="0.68" fill="none"/>
<path d="M60.7 178.8h0M65.3 179.5h0M64.1 185.7h0M62.4 188.4h0M67.8 183.5h0M58.0 182.2h0M66.7 180.5h0M65.8 178.6h0M67.6 189.4h0M58.2 184.6h0M69.5 183.0h0M67.1 182.5h0M64.1 178.8h0M59.7 181.5h0M65.8 186.0h0M67.3 184.2h0M64.2 178.7h0M61.4 188.2h0M62.5 186.9h0" stroke="#dcdcea" stroke-width="1.15" stroke-linecap="round" stroke-opacity="0.68" fill="none"/>
<path d="M60.3 183.4h0M57.6 182.2h0M60.9 185.7h0M67.3 179.3h0M61.2 184.5h0M68.4 183.1h0M61.3 180.3h0M61.8 182.4h0M59.9 185.1h0M64.1 190.6h0M63.7 183.5h0M61.6 190.8h0M63.9 185.3h0M62.9 187.0h0M62.1 188.3h0M67.2 189.7h0M59.0 184.9h0M64.9 177.6h0M62.5 186.3h0M68.8 183.8h0M63.0 181.3h0M58.6 181.6h0M68.8 182.8h0" stroke="#e6d0d8" stroke-width="1.15" stroke-linecap="round" stroke-opacity="0.68" fill="none"/>
<path d="M62.5 176.3h0M59.7 179.3h0M59.4 181.7h0M61.7 188.2h0M66.1 184.8h0M64.1 183.4h0M59.3 189.8h0M60.0 188.2h0M67.2 181.5h0M65.1 182.5h0" stroke="#d0d4e8" stroke-width="1.15" stroke-linecap="round" stroke-opacity="0.68" fill="none"/>
<path d="M92.6 189.4h0M92.1 192.2h0M85.8 189.0h0M90.3 195.2h0M86.4 195.1h0M81.7 199.8h0M87.3 196.1h0M87.0 190.0h0M87.1 187.1h0M89.7 186.6h0M88.8 197.1h0M82.7 194.9h0M81.0 190.1h0M81.5 194.5h0M87.6 189.0h0M85.4 189.1h0M88.1 191.5h0M81.2 196.2h0M80.6 193.2h0M89.5 197.4h0M84.1 194.3h0M87.3 200.1h0M91.5 192.2h0" stroke="#e0e0e8" stroke-width="1.15" stroke-linecap="round" stroke-opacity="0.68" fill="none"/>
<path d="M92.7 192.3h0M90.3 196.2h0M86.8 189.7h0M93.6 193.3h0M79.4 192.8h0M86.9 195.9h0M91.5 189.2h0M88.3 195.7h0M78.1 187.9h0M83.5 197.1h0M88.9 184.3h0M89.5 195.8h0M86.1 186.4h0M89.6 189.7h0M84.7 195.5h0M77.9 192.1h0" stroke="#d8dae6" stroke-width="1.15" stroke-linecap="round" stroke-opacity="0.68" fill="none"/>
<path d="M87.5 198.7h0M83.4 194.6h0M80.1 192.9h0M82.5 199.8h0M85.6 189.5h0M86.4 194.5h0M84.6 194.5h0M83.2 184.4h0M86.2 199.9h0M88.1 192.0h0M79.8 194.9h0M91.2 197.7h0M89.5 195.3h0M91.0 194.6h0M87.5 184.0h0M82.4 191.9h0M85.6 189.4h0M81.7 194.3h0M90.1 188.8h0M89.3 186.4h0M90.7 186.5h0" stroke="#ece2e4" stroke-width="1.15" stroke-linecap="round" stroke-opacity="0.68" fill="none"/>
<path d="M84.5 198.6h0M84.1 194.3h0M84.3 196.4h0M82.9 189.8h0M89.8 195.3h0M80.9 194.6h0M82.9 198.2h0M83.6 191.0h0M83.6 191.9h0M87.5 189.0h0M83.8 199.6h0M87.6 192.1h0M78.7 192.9h0M91.4 190.5h0M83.5 185.1h0M91.1 195.0h0M89.5 192.1h0" stroke="#e4eef4" stroke-width="1.15" stroke-linecap="round" stroke-opacity="0.68" fill="none"/>
<ellipse cx="64.10" cy="197.60" rx="7.02" ry="7.20" fill="#f0c4c6" fill-opacity="0.6" filter="url(#b1)"/>
<path d="M67.1 197.9h0M60.6 194.0h0M65.5 205.2h0M60.3 197.8h0M70.1 197.1h0M59.0 198.3h0M60.5 192.5h0M62.4 194.9h0M58.6 202.5h0M64.0 195.3h0M66.8 203.7h0M63.8 200.3h0M65.8 195.5h0M59.0 200.1h0M62.0 193.5h0M61.7 205.4h0M57.9 198.6h0M65.6 200.2h0M71.2 196.7h0M66.8 194.6h0M62.3 194.7h0M59.9 195.2h0M62.9 191.8h0M68.5 195.1h0M62.5 191.4h0M60.7 203.9h0M60.7 205.4h0M60.4 194.5h0" stroke="#eebcc0" stroke-width="1.15" stroke-linecap="round" stroke-opacity="0.68" fill="none"/>
<path d="M57.4 195.1h0M62.7 205.3h0M70.2 195.3h0M69.5 195.9h0M66.5 193.2h0M72.0 194.8h0M66.9 203.9h0M68.0 200.0h0M62.8 204.5h0M65.4 195.3h0M64.6 198.5h0M68.4 193.9h0M71.3 193.2h0M62.5 196.2h0M62.8 203.7h0M67.8 203.2h0M62.5 200.9h0M68.2 196.8h0M68.0 200.7h0M58.0 199.4h0M56.2 197.7h0M62.9 196.3h0M62.0 203.9h0M62.0 192.3h0M62.9 195.0h0M65.8 195.1h0M59.8 200.3h0M61.7 195.1h0M62.6 192.5h0" stroke="#e6a8b0" stroke-width="1.15" stroke-linecap="round" stroke-opacity="0.68" fill="none"/>
<path d="M58.4 192.5h0M57.8 193.3h0M69.4 193.3h0M67.4 201.7h0M62.8 194.8h0M66.8 199.3h0M61.3 190.6h0M61.7 192.9h0M66.0 203.6h0M60.1 195.1h0M66.7 193.1h0M62.6 198.3h0M71.4 197.0h0M59.5 195.3h0M70.4 195.1h0M59.7 195.2h0M57.6 198.8h0M71.6 192.5h0M62.7 204.3h0M61.6 196.8h0M60.9 197.3h0M69.0 193.7h0M68.8 200.7h0M63.5 199.6h0M63.6 197.0h0M62.6 203.0h0M64.0 195.1h0M58.7 194.1h0M59.9 201.0h0M63.1 191.8h0M58.7 202.6h0M57.4 197.0h0M58.0 193.6h0M62.9 192.5h0" stroke="#f4d2d2" stroke-width="1.15" stroke-linecap="round" stroke-opacity="0.68" fill="none"/>
<path d="M61.5 199.9h0M65.3 203.3h0M60.7 197.5h0M60.7 201.5h0M68.8 198.0h0M62.2 203.6h0M63.9 201.7h0M59.8 193.7h0M65.5 202.0h0M66.6 199.0h0M65.6 192.7h0M60.5 199.7h0M62.4 200.4h0M65.3 191.5h0M59.3 195.6h0M67.7 198.0h0M69.2 191.5h0M65.6 194.3h0M60.3 198.8h0M65.2 198.5h0M60.2 192.8h0M69.2 202.1h0M66.6 198.3h0M70.3 195.4h0M66.0 195.2h0M60.0 194.7h0" stroke="#ecb4ba" stroke-width="1.15" stroke-linecap="round" stroke-opacity="0.68" fill="none"/>
<ellipse cx="75.20" cy="200.20" rx="7.20" ry="7.65" fill="#eec8a0" fill-opacity="0.55" filter="url(#b1)"/>
<path d="M70.8 206.2h0M71.0 199.4h0M77.3 195.9h0M75.3 202.2h0M69.5 202.8h0M78.0 202.5h0M77.5 198.8h0M72.6 195.3h0M80.7 195.0h0M71.8 203.5h0M74.7 205.7h0M79.4 200.0h0M68.0 197.8h0M82.1 201.4h0M76.6 204.3h0M69.8 204.3h0M68.9 201.7h0M82.0 197.2h0M69.1 193.9h0M70.3 206.3h0M77.8 193.5h0M71.9 201.2h0M69.2 195.1h0M72.8 206.0h0M72.4 195.4h0M79.6 197.3h0M74.0 205.7h0M79.5 203.1h0M72.2 198.3h0M80.4 202.5h0M77.6 207.9h0M72.5 197.4h0M79.9 199.5h0M70.9 206.3h0M78.1 198.7h0" stroke="#e8b684" stroke-width="1.15" stroke-linecap="round" stroke-opacity="0.68" fill="none"/>
<path d="M83.0 201.1h0M73.5 205.4h0M71.4 198.8h0M71.2 203.2h0M70.0 204.1h0M73.9 205.8h0M81.2 200.6h0M75.8 196.0h0M78.4 198.3h0M75.5 199.5h0M74.1 210.0h0M80.0 194.8h0M80.9 205.1h0M74.2 203.1h0M76.4 199.1h0M74.4 203.1h0M72.2 195.2h0M67.7 195.0h0M80.4 200.9h0M81.9 200.3h0M77.5 196.1h0M78.6 208.1h0M69.4 202.4h0M78.7 196.5h0M80.9 200.1h0M81.3 198.7h0M79.1 203.5h0M70.9 198.6h0M72.5 194.3h0M70.4 204.7h0M73.3 203.4h0M69.6 203.5h0M69.4 195.5h0M81.5 199.1h0" stroke="#dea26e" stroke-width="1.15" stroke-linecap="round" stroke-opacity="0.68" fill="none"/>
<path d="M80.6 204.6h0M71.7 196.4h0M71.8 205.5h0M71.4 204.0h0M75.1 201.7h0M73.8 195.9h0M72.1 193.3h0M78.4 194.8h0M69.5 203.6h0M79.2 200.5h0M77.0 205.1h0M71.6 197.0h0M72.8 196.4h0M67.7 199.1h0M72.0 199.3h0M73.9 196.6h0M73.9 196.4h0M70.9 194.6h0M71.2 199.5h0M74.6 205.9h0M69.7 199.4h0M81.4 194.2h0M81.0 205.3h0M72.7 202.8h0M70.1 206.1h0M74.1 203.2h0M67.9 199.2h0M72.3 207.8h0M67.9 201.7h0M79.5 205.0h0M74.4 198.9h0M69.4 202.9h0M80.7 199.2h0M69.3 203.9h0" stroke="#f0ceaa" stroke-width="1.15" stroke-linecap="round" stroke-opacity="0.68" fill="none"/>
<path d="M77.0 198.2h0M76.8 202.5h0M70.4 203.7h0M73.4 209.2h0M74.9 192.9h0M83.0 202.4h0M73.9 195.5h0M82.1 200.0h0M75.4 198.8h0M75.1 195.6h0M67.9 200.0h0M69.2 198.9h0M72.1 199.7h0M79.7 202.4h0M82.1 201.3h0M74.8 191.6h0M74.0 193.1h0M77.2 205.0h0M81.7 196.7h0M70.5 205.9h0M77.3 205.4h0M76.3 204.2h0M81.3 197.3h0M74.8 195.6h0M72.5 200.2h0" stroke="#ecc298" stroke-width="1.15" stroke-linecap="round" stroke-opacity="0.68" fill="none"/>
<ellipse cx="87.70" cy="207.50" rx="6.48" ry="15.75" fill="#c4e2f0" fill-opacity="0.6" filter="url(#b1)" transform="rotate(34 87.70 207.50)"/>
<path d="M85.8 205.5h0M83.8 203.2h0M82.6 209.2h0M79.2 215.1h0M84.2 203.0h0M83.7 221.6h0M82.6 209.2h0M86.6 207.3h0M84.7 203.9h0M85.5 204.7h0M83.3 218.0h0M97.0 198.4h0M80.0 206.3h0M94.0 200.7h0M89.0 205.7h0M92.3 196.5h0M97.8 198.9h0M86.0 209.1h0M80.6 211.4h0M92.7 199.7h0M95.3 197.5h0M90.1 201.0h0M87.4 197.5h0M86.5 203.9h0M90.7 205.0h0M81.6 206.0h0M99.3 196.1h0M77.8 219.4h0M91.6 209.6h0M86.1 197.8h0M97.2 196.5h0M96.1 199.2h0M100.3 201.5h0M82.1 216.4h0M93.9 203.7h0M82.1 210.4h0M85.6 201.1h0M86.9 209.1h0M89.7 216.7h0M83.6 206.6h0M87.4 209.5h0M89.7 214.2h0M85.0 213.3h0M90.4 212.8h0M83.9 219.3h0M90.6 213.4h0M75.9 221.3h0M95.4 208.0h0M87.8 200.8h0M84.1 210.1h0M90.0 196.5h0" stroke="#b0d8ec" stroke-width="1.15" stroke-linecap="round" stroke-opacity="0.68" fill="none"/>
<path d="M86.6 214.9h0M77.0 214.6h0M87.9 214.5h0M94.7 196.3h0M91.7 212.0h0M82.0 207.8h0M81.9 212.4h0M80.8 209.1h0M98.8 199.9h0M89.4 196.4h0M86.5 206.6h0M96.0 208.1h0M84.1 202.0h0M90.5 195.2h0M86.8 198.1h0M76.1 220.0h0M82.9 208.1h0M89.6 204.0h0M91.2 197.0h0M80.1 212.5h0M91.8 195.6h0M83.7 200.8h0M90.6 207.8h0M78.9 217.3h0M82.9 213.7h0M83.6 203.8h0M82.6 215.9h0M90.2 200.0h0M82.2 216.1h0M92.3 194.6h0M92.4 200.7h0M92.3 212.1h0M82.1 216.8h0M79.0 210.6h0M87.6 200.5h0M81.6 205.1h0M92.1 197.3h0M76.9 215.5h0M96.8 196.9h0M90.6 204.1h0M85.1 219.8h0M82.2 208.2h0M80.0 205.7h0M87.3 211.8h0" stroke="#9ccce4" stroke-width="1.15" stroke-linecap="round" stroke-opacity="0.68" fill="none"/>
<path d="M79.7 220.2h0M86.4 208.2h0M99.0 196.4h0M80.1 212.1h0M97.0 205.4h0M96.8 198.7h0M87.1 213.1h0M85.8 208.1h0M88.2 213.5h0M90.4 213.0h0M80.7 220.0h0M91.2 207.7h0M91.2 201.4h0M94.8 196.9h0M81.3 218.8h0M90.9 204.9h0M86.4 217.3h0M83.5 200.5h0M90.7 195.2h0M84.4 211.6h0M82.2 208.3h0M79.5 207.5h0M88.3 206.3h0M81.7 206.6h0M84.9 210.3h0M94.3 194.2h0M83.7 209.2h0M97.8 197.1h0M92.4 201.8h0M80.7 218.2h0M87.8 207.3h0M93.8 195.8h0M80.8 209.6h0M84.5 209.8h0M83.7 215.1h0M94.2 211.8h0M83.0 203.1h0M90.8 198.4h0M80.7 207.1h0M86.4 215.1h0M86.1 221.7h0M79.7 216.0h0M83.2 213.5h0M80.4 218.1h0M93.2 193.3h0M92.1 199.0h0M78.6 217.6h0M79.9 218.6h0M85.6 210.1h0M88.8 203.6h0M84.2 216.9h0M90.3 196.8h0M94.6 205.7h0M92.8 203.0h0M84.1 205.3h0M77.0 214.7h0M92.9 200.7h0" stroke="#c8e4f2" stroke-width="1.15" stroke-linecap="round" stroke-opacity="0.68" fill="none"/>
<path d="M93.7 207.6h0M81.2 207.8h0M98.9 199.8h0M93.3 209.1h0M88.3 196.8h0M81.5 219.5h0M90.3 203.0h0M79.2 211.4h0M85.4 207.4h0M77.8 220.4h0M90.2 198.0h0M97.1 195.2h0M89.0 199.4h0M82.1 213.8h0M93.0 198.8h0M81.9 214.4h0M94.4 200.0h0M89.2 215.7h0M97.2 197.3h0M90.5 199.8h0M80.9 206.8h0M90.5 201.7h0M87.9 214.6h0M83.4 209.2h0M81.2 209.2h0M88.6 201.2h0M87.9 199.8h0M87.2 215.4h0M79.0 212.0h0M97.4 197.2h0M79.9 221.8h0M94.3 194.8h0M91.7 197.6h0M82.7 208.3h0" stroke="#b8dcee" stroke-width="1.15" stroke-linecap="round" stroke-opacity="0.68" fill="none"/>
<path d="M83.4 215.7h0M95.7 202.5h0M79.5 219.4h0M79.7 208.9h0M77.0 219.9h0M94.2 192.8h0M80.2 209.0h0M95.7 207.2h0M92.2 210.7h0M87.3 214.5h0M87.2 211.1h0M81.0 211.8h0M88.8 197.2h0M89.8 196.0h0M98.1 191.9h0M90.3 210.3h0M89.9 205.1h0M92.0 199.5h0M90.3 206.9h0M84.8 206.2h0M91.2 210.8h0M83.0 214.2h0M76.2 219.9h0M87.9 216.7h0M98.2 196.0h0M92.5 211.7h0M94.7 195.1h0M89.9 198.5h0M89.2 215.6h0M92.9 209.2h0M83.5 216.6h0M87.1 204.9h0M84.6 212.4h0M96.2 196.8h0M80.3 222.5h0M88.1 214.9h0M88.8 218.0h0M99.4 197.8h0M97.4 197.4h0M84.4 204.1h0M96.9 200.3h0M93.8 203.1h0M83.6 206.2h0M95.0 198.1h0M85.3 216.4h0M86.7 219.1h0M88.0 208.1h0M80.0 214.4h0M91.7 196.3h0M95.3 202.2h0M84.1 201.2h0" stroke="#e0eff7" stroke-width="1.15" stroke-linecap="round" stroke-opacity="0.68" fill="none"/>
<ellipse cx="92.00" cy="224.00" rx="13.50" ry="6.30" fill="#cce6f2" fill-opacity="0.6" filter="url(#b1)"/>
<path d="M93.2 228.0h0M101.9 221.2h0M87.0 220.9h0M101.9 225.6h0M90.0 227.1h0M93.6 229.9h0M101.4 222.1h0M103.9 228.5h0M88.4 227.0h0M77.3 221.4h0M96.3 223.4h0M84.4 224.3h0M96.3 225.3h0M99.4 220.5h0M91.4 231.1h0M100.8 224.9h0M101.6 221.8h0M92.2 221.6h0M89.5 221.4h0M97.7 225.7h0M92.5 226.8h0M91.1 223.3h0M99.8 221.2h0M91.1 217.5h0M92.7 223.9h0M100.7 225.2h0M100.2 224.6h0M81.7 221.1h0M97.7 225.6h0M87.1 226.9h0M98.1 218.1h0M83.1 219.5h0M87.6 229.2h0M86.6 228.7h0M87.0 218.8h0M104.5 226.3h0M99.4 218.4h0M98.1 231.4h0M84.1 225.2h0M78.6 223.3h0M104.1 220.3h0M84.8 222.9h0M97.6 218.7h0M94.3 222.6h0M83.9 227.0h0M85.3 227.8h0M104.9 223.5h0" stroke="#b8dcee" stroke-width="1.15" stroke-linecap="round" stroke-opacity="0.68" fill="none"/>
<path d="M81.7 228.3h0M90.3 227.9h0M88.7 222.8h0M100.4 218.3h0M104.1 225.2h0M83.7 222.6h0M77.8 224.4h0M104.9 228.2h0M86.2 226.2h0M90.1 219.7h0M91.9 221.3h0M102.4 220.3h0M80.9 229.0h0M102.3 224.2h0M105.7 224.8h0M96.8 224.5h0M79.3 226.9h0M96.6 222.3h0M82.9 227.5h0M96.3 225.7h0M78.1 219.9h0M78.8 226.9h0M83.7 221.4h0M85.3 227.5h0M98.2 220.5h0M90.3 230.4h0M94.8 222.6h0M94.1 223.0h0M91.5 219.8h0M106.0 223.5h0M91.0 228.1h0M83.8 224.3h0M97.7 225.5h0M98.7 222.4h0M92.4 216.5h0M82.4 223.7h0M97.7 228.5h0M99.3 218.1h0M99.2 223.4h0M87.3 222.7h0M91.3 218.1h0M91.6 216.1h0M92.4 228.2h0M83.0 223.6h0M94.1 228.3h0M92.7 225.1h0" stroke="#cce6f2" stroke-width="1.15" stroke-linecap="round" stroke-opacity="0.68" fill="none"/>
<path d="M95.0 218.3h0M90.5 222.3h0M90.4 226.4h0M107.2 225.3h0M84.8 229.0h0M90.3 227.0h0M86.4 221.4h0M103.1 222.1h0M94.0 224.1h0M93.0 224.4h0M91.7 228.7h0M97.9 228.8h0M98.7 223.7h0M100.5 224.0h0M86.3 218.7h0M84.2 228.9h0M103.6 224.7h0M91.9 219.8h0M87.2 219.3h0M96.2 222.3h0M86.9 229.7h0M79.2 227.7h0M96.0 225.8h0M88.9 229.1h0M111.2 223.3h0M96.6 227.3h0M91.0 228.2h0M86.9 216.9h0M97.6 224.6h0M97.5 226.7h0M91.6 222.0h0M85.9 219.8h0M97.8 227.9h0M85.3 219.8h0M91.1 218.0h0M98.6 228.4h0M91.2 223.5h0M93.8 222.1h0M89.8 218.8h0M93.4 223.9h0M99.6 228.8h0" stroke="#a8d4ea" stroke-width="1.15" stroke-linecap="round" stroke-opacity="0.68" fill="none"/>
<path d="M89.9 221.0h0M89.8 226.4h0M90.1 218.2h0M102.9 225.4h0M85.7 218.5h0M80.6 225.3h0M89.6 222.8h0M79.8 221.9h0M86.8 221.5h0M90.0 225.5h0M87.3 220.7h0M99.7 225.5h0M86.0 226.6h0M88.1 221.8h0M95.7 224.5h0M82.8 223.2h0M103.1 223.9h0M101.6 223.6h0M80.5 228.5h0M82.2 228.5h0M92.9 221.2h0M88.2 220.2h0M101.4 222.7h0M95.2 228.4h0M85.2 218.8h0M87.8 220.4h0M80.9 222.6h0M91.8 224.2h0M98.1 218.8h0M93.5 226.4h0M84.3 230.1h0M100.6 218.3h0M96.0 223.3h0M81.0 225.9h0" stroke="#e0eef4" stroke-width="1.15" stroke-linecap="round" stroke-opacity="0.68" fill="none"/>
<ellipse cx="110.70" cy="197.20" rx="12.33" ry="12.06" fill="#dcb6a2" fill-opacity="0.55" filter="url(#b1)"/>
<path d="M113.3 209.6h0M116.7 188.8h0M115.7 196.9h0M106.5 189.7h0M116.8 201.2h0M105.7 191.4h0M119.4 206.1h0M119.7 200.6h0M118.7 194.9h0M122.6 197.9h0M120.5 200.8h0M105.6 191.2h0M103.2 191.3h0M116.7 207.7h0M99.3 187.6h0M101.9 192.1h0M101.2 205.1h0M116.2 201.8h0M101.9 204.9h0M119.0 207.0h0M106.4 200.2h0M122.7 190.8h0M107.7 198.9h0M112.3 183.8h0M120.8 203.1h0M106.1 206.0h0M107.6 195.7h0M98.9 203.1h0M112.8 202.5h0M110.2 193.0h0M104.3 205.3h0M109.1 199.3h0M111.8 191.7h0M107.0 194.7h0M110.9 200.8h0M101.2 192.0h0M114.0 192.1h0M100.1 201.1h0M121.8 196.1h0M106.2 206.1h0M108.4 202.8h0M103.2 200.0h0M118.6 209.6h0M100.7 197.2h0M107.8 202.8h0M96.7 199.5h0M100.3 198.7h0M114.3 206.8h0M103.3 189.1h0M103.3 185.2h0M103.5 200.1h0M121.7 193.3h0M112.3 207.6h0M122.3 194.1h0M116.1 197.6h0M118.3 194.3h0M107.6 208.1h0M115.7 191.9h0M109.8 196.3h0M114.7 194.5h0M98.1 189.0h0M110.6 192.7h0M113.0 198.7h0M118.9 190.8h0M116.2 201.1h0M97.5 190.8h0M110.0 210.7h0M113.8 184.7h0M101.4 204.9h0M105.6 191.7h0M117.3 199.8h0M102.0 201.4h0M99.0 194.0h0M108.0 193.4h0M113.0 209.2h0M115.6 200.2h0M114.2 200.5h0M111.6 189.6h0M108.3 204.1h0M108.2 187.8h0M106.4 206.7h0M111.7 211.4h0M96.9 193.8h0M101.3 206.6h0M108.7 196.1h0M108.3 203.2h0M105.4 202.5h0M99.8 204.0h0" stroke="#cc9a80" stroke-width="1.15" stroke-linecap="round" stroke-opacity="0.68" fill="none"/>
<path d="M116.0 210.1h0M100.4 205.7h0M115.2 197.6h0M116.7 192.1h0M124.9 199.5h0M109.8 199.6h0M122.0 199.2h0M101.7 207.8h0M106.7 208.6h0M102.6 189.7h0M115.9 202.5h0M109.0 210.2h0M102.0 199.9h0M123.7 192.5h0M108.3 205.4h0M112.0 204.5h0M119.7 190.9h0M98.8 197.3h0M111.6 185.9h0M107.9 195.1h0M103.5 190.2h0M106.3 185.2h0M113.5 196.9h0M121.9 195.4h0M107.7 207.8h0M104.3 190.3h0M114.2 199.3h0M110.2 200.8h0M111.4 192.0h0M106.0 199.5h0M116.3 188.5h0M111.9 203.4h0M119.0 195.7h0M104.2 199.8h0M113.0 202.8h0M113.7 196.1h0M111.4 197.3h0M105.3 199.0h0M113.3 194.2h0M116.3 187.2h0M121.0 191.2h0M100.8 202.0h0M115.7 196.3h0M113.1 202.5h0M102.7 191.4h0M107.5 190.6h0M97.2 192.9h0M115.3 195.4h0M121.7 202.6h0M100.0 202.0h0M121.0 196.5h0M122.1 200.5h0M119.7 187.1h0M98.3 203.8h0M100.9 190.8h0M109.9 203.7h0M118.9 209.1h0M108.7 191.0h0M117.1 206.3h0M103.2 187.1h0M103.0 191.1h0M117.9 203.2h0M102.1 192.6h0M105.7 197.1h0M107.1 187.4h0M119.5 201.7h0M102.3 202.3h0M102.5 207.2h0" stroke="#be8a6e" stroke-width="1.15" stroke-linecap="round" stroke-opacity="0.68" fill="none"/>
<path d="M107.2 189.7h0M113.3 192.2h0M104.6 192.8h0M116.7 197.7h0M107.4 199.5h0M114.1 184.4h0M107.3 191.3h0M104.8 205.1h0M102.7 191.7h0M102.9 207.2h0M116.4 200.0h0M100.7 204.8h0M99.7 201.7h0M113.4 210.1h0M121.2 204.5h0M115.6 206.3h0M104.0 206.0h0M102.4 202.7h0M101.7 192.9h0M116.7 188.7h0M110.6 199.8h0M115.1 188.1h0M101.0 199.1h0M119.3 199.0h0M112.7 189.5h0M112.4 195.2h0M112.7 204.8h0M103.1 197.9h0M117.0 189.7h0M107.1 197.6h0M116.0 198.0h0M104.5 189.6h0M106.3 187.0h0M117.3 199.0h0M118.3 185.8h0M110.9 199.7h0M110.8 211.4h0M116.2 193.1h0M120.2 193.6h0M122.7 196.9h0M110.2 195.0h0M115.2 192.2h0M114.8 198.1h0M107.0 208.9h0M118.9 195.9h0M109.4 199.0h0M118.6 201.8h0M112.6 195.3h0M109.6 210.0h0M118.0 186.8h0M96.2 197.7h0M101.0 192.8h0M116.8 199.7h0M105.3 187.8h0M99.1 201.9h0M111.6 199.8h0M105.3 187.7h0M111.8 189.2h0M119.2 199.7h0M110.7 204.6h0M100.5 196.0h0M98.3 192.0h0M102.3 187.7h0M120.8 190.4h0M103.5 202.6h0M114.4 184.7h0M109.1 195.2h0M111.6 203.8h0M119.8 194.3h0M119.7 193.1h0M112.6 210.0h0M115.2 187.1h0M122.7 198.9h0M112.0 205.6h0M119.1 197.0h0M114.6 201.5h0M122.2 197.9h0M105.1 190.9h0M103.3 199.1h0M117.1 185.8h0" stroke="#dcb8a6" stroke-width="1.15" stroke-linecap="round" stroke-opacity="0.68" fill="none"/>
<path d="M123.3 190.0h0M101.4 186.2h0M103.8 186.6h0M113.0 209.8h0M115.9 185.9h0M107.5 187.5h0M111.1 185.6h0M117.7 191.2h0M110.3 189.4h0M101.4 189.9h0M111.9 207.4h0M110.9 203.2h0M114.5 206.6h0M97.2 192.9h0M100.7 191.0h0M111.8 207.4h0M107.0 200.1h0M118.8 195.0h0M120.3 196.6h0M122.8 204.2h0M117.0 203.1h0M113.8 187.6h0M115.2 192.6h0M110.1 202.3h0M109.5 190.1h0M102.6 200.9h0M112.7 189.4h0M121.7 195.9h0M116.0 192.4h0M114.4 197.9h0M112.5 201.8h0M111.8 187.7h0M115.1 189.9h0M116.9 199.5h0M101.9 202.6h0M120.1 189.3h0M112.8 190.4h0M97.4 197.2h0M123.2 202.2h0M111.0 203.7h0M103.6 194.0h0M114.0 192.4h0M110.6 203.6h0M109.5 207.4h0M113.3 188.3h0M116.8 208.1h0M102.2 200.1h0M112.9 207.3h0M106.1 196.2h0M105.4 193.3h0M108.9 197.0h0M122.3 199.7h0M113.4 190.7h0M104.3 194.3h0M110.6 188.7h0M110.6 183.9h0M99.7 198.6h0M106.7 185.4h0M103.4 195.9h0M108.1 194.5h0M119.7 190.1h0M110.6 202.3h0M99.5 204.9h0M105.8 204.0h0M104.6 206.7h0M110.8 192.2h0M98.4 197.4h0M111.4 193.0h0M115.0 207.9h0M99.8 195.0h0" stroke="#d4a890" stroke-width="1.15" stroke-linecap="round" stroke-opacity="0.68" fill="none"/>
<path d="M106.4 208.6h0M123.2 200.4h0M110.1 208.1h0M102.1 194.3h0M102.9 200.6h0M118.0 202.0h0M104.1 185.2h0M117.2 204.3h0M102.3 203.0h0M106.9 203.0h0M108.4 192.2h0M112.2 186.2h0M119.7 197.7h0M114.0 194.2h0M114.3 203.7h0M102.9 190.0h0M118.5 198.8h0M114.4 191.7h0M108.0 182.9h0M121.7 194.5h0M110.7 207.1h0M99.4 199.2h0M121.5 195.3h0M103.5 203.8h0M108.6 195.6h0M122.4 191.6h0M110.6 194.5h0M120.1 189.4h0M109.4 207.1h0M114.3 190.7h0M113.5 207.8h0M108.2 199.6h0M109.6 202.4h0M109.5 187.3h0M97.1 193.4h0M121.4 187.9h0M102.3 205.5h0M113.9 210.0h0M104.0 206.4h0M111.5 200.1h0M104.4 205.2h0M102.1 205.9h0M96.2 195.3h0M120.5 195.7h0M108.8 195.7h0M122.9 194.3h0M111.8 195.6h0M117.3 198.0h0M110.0 206.7h0M111.7 183.1h0M104.8 203.1h0M103.6 186.2h0M108.8 186.0h0M108.9 186.2h0M116.7 195.0h0M105.2 199.3h0M117.4 203.5h0M108.2 190.5h0M100.2 196.6h0M102.7 191.5h0M103.8 200.9h0M113.9 208.6h0M107.0 204.3h0M106.1 185.9h0M107.6 207.2h0M110.8 205.9h0M109.0 207.3h0M118.5 191.3h0M106.9 205.0h0M99.7 197.0h0M100.4 196.4h0M117.3 204.4h0M112.8 202.6h0M106.8 206.1h0" stroke="#ead4c8" stroke-width="1.15" stroke-linecap="round" stroke-opacity="0.68" fill="none"/>
<ellipse cx="117.00" cy="212.50" rx="6.75" ry="6.30" fill="#dcb6a2" fill-opacity="0.5" filter="url(#b1)"/>
<path d="M111.3 208.1h0M115.4 211.6h0M121.7 210.4h0M114.3 208.4h0M116.5 218.5h0M122.2 214.7h0M124.0 213.7h0M117.0 212.7h0M114.8 211.4h0M117.8 213.1h0M116.9 215.9h0M116.7 216.6h0M121.6 213.5h0M111.8 215.3h0M110.5 214.7h0M115.8 218.8h0M110.9 214.1h0M120.1 215.7h0M119.9 214.0h0" stroke="#cc9a80" stroke-width="1.15" stroke-linecap="round" stroke-opacity="0.68" fill="none"/>
<path d="M116.0 215.7h0M120.1 208.9h0M124.0 212.4h0M117.6 211.6h0M118.0 214.7h0M122.6 213.3h0M111.5 213.3h0M113.4 208.2h0M118.7 218.5h0M119.9 213.4h0M111.0 213.7h0M110.9 209.3h0M113.8 210.3h0M116.6 217.6h0M116.9 213.0h0M117.9 210.9h0M110.3 210.9h0M115.8 219.7h0" stroke="#be8a6e" stroke-width="1.15" stroke-linecap="round" stroke-opacity="0.68" fill="none"/>
<path d="M111.7 209.2h0M118.9 216.4h0M117.2 216.7h0M111.9 214.2h0M121.0 216.8h0M121.5 214.9h0M120.3 215.2h0M123.0 213.7h0M120.9 214.1h0M113.3 211.8h0M119.4 215.3h0M113.1 211.9h0M118.7 207.0h0M112.4 210.6h0M115.0 208.9h0M115.9 206.6h0" stroke="#dcb8a6" stroke-width="1.15" stroke-linecap="round" stroke-opacity="0.68" fill="none"/>
<path d="M117.7 216.0h0M118.3 205.7h0M113.8 212.5h0M115.2 215.2h0M118.7 209.0h0M122.8 208.2h0M122.9 212.6h0M122.6 213.2h0M119.5 218.1h0M116.8 209.9h0M118.7 217.6h0M118.8 214.3h0M110.8 213.8h0M116.3 217.2h0M117.0 218.3h0M119.9 213.1h0M124.6 212.1h0M118.6 210.4h0M118.5 208.6h0M115.5 214.5h0M120.3 207.0h0M118.1 208.1h0M114.0 218.7h0" stroke="#d4a890" stroke-width="1.15" stroke-linecap="round" stroke-opacity="0.68" fill="none"/>
<path d="M117.1 205.1h0M115.4 207.4h0M124.1 215.9h0M116.2 218.0h0M117.7 218.2h0M121.6 216.1h0M120.7 210.2h0M118.3 218.7h0M113.2 211.4h0M123.6 209.9h0M109.4 210.0h0M117.4 206.1h0M119.2 215.2h0M109.8 213.5h0M111.1 213.8h0M112.0 210.3h0M122.2 212.0h0M124.4 211.3h0M117.9 216.2h0M124.3 215.2h0M112.5 208.7h0M117.5 214.4h0" stroke="#ead4c8" stroke-width="1.15" stroke-linecap="round" stroke-opacity="0.68" fill="none"/>
<ellipse cx="55.50" cy="212.50" rx="7.65" ry="6.30" fill="#ecd0ae" fill-opacity="0.55" filter="url(#b1)"/>
<path d="M53.7 218.3h0M50.9 211.2h0M60.0 210.1h0M58.4 209.3h0M63.1 214.9h0M57.8 211.6h0M54.1 209.5h0M53.3 209.3h0M62.1 211.5h0M52.9 215.5h0M56.2 215.8h0M56.7 215.9h0M50.5 208.2h0M48.8 209.7h0M58.3 216.0h0M49.7 211.3h0M56.7 205.2h0M51.6 213.1h0M63.5 215.7h0M60.1 215.3h0M52.8 214.5h0M56.9 216.3h0M46.7 210.3h0M60.3 211.4h0M55.4 210.6h0M63.3 210.0h0M56.6 215.5h0M54.3 211.5h0M53.7 211.4h0M56.3 207.2h0M48.4 211.4h0M63.1 211.9h0" stroke="#e6c49c" stroke-width="1.15" stroke-linecap="round" stroke-opacity="0.68" fill="none"/>
<path d="M58.7 214.4h0M55.8 217.9h0M59.7 212.9h0M52.0 218.3h0M57.4 216.7h0M55.0 211.6h0M55.1 209.4h0M57.4 216.4h0M51.2 209.5h0M60.0 215.1h0M51.9 218.3h0M48.7 210.9h0M48.0 213.3h0M65.2 209.9h0M57.9 213.0h0M48.7 212.5h0M57.8 214.3h0M60.2 217.5h0" stroke="#dcb890" stroke-width="1.15" stroke-linecap="round" stroke-opacity="0.68" fill="none"/>
<path d="M55.8 215.4h0M54.3 219.1h0M62.2 208.0h0M58.9 208.8h0M49.2 217.3h0M52.2 215.3h0M58.5 207.2h0M52.3 205.8h0M55.8 216.2h0M55.1 220.0h0M58.8 213.2h0M48.1 210.1h0M61.0 211.8h0M58.9 217.0h0M49.6 214.2h0M51.1 218.2h0M58.5 208.2h0M60.0 211.7h0M55.2 215.4h0M51.0 208.7h0M55.4 211.1h0" stroke="#eed4b4" stroke-width="1.15" stroke-linecap="round" stroke-opacity="0.68" fill="none"/>
<path d="M53.6 217.5h0M62.1 208.7h0M60.1 210.1h0M49.5 213.1h0M62.4 210.0h0M58.9 211.2h0M58.8 216.4h0M56.3 218.5h0M47.4 212.3h0M49.3 213.6h0M60.3 213.9h0M51.3 207.8h0M51.2 218.3h0M51.6 210.1h0M51.3 211.0h0M55.0 216.7h0M61.8 209.6h0M49.2 214.9h0M60.7 214.0h0M60.4 208.1h0M47.6 212.9h0M55.7 214.7h0M60.7 212.9h0M53.5 206.3h0M62.5 213.1h0M61.9 211.8h0M49.8 214.3h0M59.5 208.9h0M53.3 210.1h0" stroke="#e4c4a4" stroke-width="1.15" stroke-linecap="round" stroke-opacity="0.68" fill="none"/>
<ellipse cx="55.20" cy="232.00" rx="11.52" ry="12.05" fill="#e6b880" fill-opacity="0.6" filter="url(#b1)"/>
<path d="M51.1 231.2h0M45.3 236.6h0M61.7 239.2h0M65.0 227.2h0M63.7 222.6h0M44.9 230.6h0M55.1 237.2h0M58.5 242.7h0M53.5 218.5h0M49.9 227.0h0M58.0 231.2h0M44.8 227.5h0M63.9 235.5h0M61.4 242.4h0M59.2 234.8h0M62.2 225.6h0M61.6 223.6h0M59.3 233.5h0M48.2 223.6h0M53.7 221.4h0M50.9 221.1h0M61.7 240.5h0M54.1 241.8h0M63.9 225.5h0M52.5 224.8h0M46.6 222.2h0M56.1 234.0h0M59.3 244.6h0M60.2 243.1h0M59.1 240.6h0M64.2 228.2h0M49.0 236.8h0M61.1 233.0h0M63.6 236.4h0M64.8 237.4h0M59.0 229.3h0M66.3 231.8h0M55.5 240.8h0M50.0 238.1h0M49.5 235.3h0M51.8 234.4h0M56.2 237.1h0M61.5 237.1h0M59.5 222.3h0M63.1 222.9h0M50.0 243.3h0M47.0 231.5h0M60.3 220.4h0M56.4 221.7h0M66.5 236.0h0M60.4 240.8h0M63.4 226.8h0M42.0 232.7h0M64.8 229.5h0M53.2 242.4h0M64.0 217.6h0M55.6 243.9h0M52.7 230.7h0M59.0 230.5h0M65.3 230.5h0M66.1 241.3h0M57.8 230.5h0M62.0 223.3h0M48.6 228.2h0M53.9 227.8h0M51.8 220.4h0M57.3 234.6h0M51.5 234.3h0M60.8 242.1h0M52.2 222.3h0M59.5 241.5h0M52.0 243.6h0M60.2 236.2h0M62.6 235.5h0M61.7 230.6h0M60.3 233.1h0M52.0 238.4h0M54.2 228.4h0" stroke="#e0aa6c" stroke-width="1.15" stroke-linecap="round" stroke-opacity="0.68" fill="none"/>
<path d="M45.2 227.2h0M48.3 221.2h0M53.6 229.4h0M48.3 235.3h0M61.3 243.7h0M60.7 234.5h0M55.1 243.1h0M45.3 228.4h0M52.9 230.1h0M48.1 238.1h0M53.9 237.1h0M43.5 225.4h0M54.3 229.1h0M59.5 227.6h0M63.8 241.5h0M46.9 226.7h0M60.2 232.5h0M56.2 231.7h0M43.2 233.0h0M60.1 234.6h0M56.7 223.7h0M63.4 228.0h0M47.4 232.1h0M47.6 240.6h0M45.4 236.4h0M59.3 221.0h0M54.3 229.2h0M57.9 238.0h0M57.7 245.4h0M58.0 233.4h0M59.0 225.7h0M54.9 228.5h0M49.3 227.1h0M47.9 226.0h0M56.9 227.9h0M51.1 226.7h0M51.2 238.1h0M46.0 235.4h0M41.8 225.7h0M61.3 221.6h0M62.8 226.2h0M48.3 236.2h0M61.8 242.5h0M44.2 232.3h0M56.6 222.2h0M46.2 236.9h0M61.4 243.0h0M56.5 219.2h0M60.4 233.1h0M45.8 227.1h0M64.0 239.9h0M58.7 236.7h0M61.0 240.4h0M43.5 224.8h0M56.3 222.6h0M53.9 231.5h0M57.7 243.4h0M51.6 224.4h0M57.7 233.1h0M64.7 236.8h0M62.5 232.5h0M50.9 241.3h0M58.5 243.2h0M43.2 226.7h0M49.1 243.6h0M41.2 226.4h0M52.3 221.8h0M50.7 236.0h0M61.8 239.7h0M61.8 234.0h0M56.6 220.3h0M53.2 237.0h0M58.4 232.2h0M56.7 229.0h0M51.3 231.3h0M57.4 237.1h0M59.2 221.6h0" stroke="#d49858" stroke-width="1.15" stroke-linecap="round" stroke-opacity="0.68" fill="none"/>
<path d="M56.4 223.1h0M57.0 226.4h0M53.7 241.5h0M50.2 229.4h0M61.7 231.4h0M49.9 244.6h0M60.2 241.4h0M53.1 219.7h0M60.5 238.4h0M60.7 230.2h0M41.6 234.7h0M46.2 235.0h0M61.9 230.8h0M62.8 230.3h0M59.7 224.6h0M44.0 238.5h0M59.5 227.1h0M65.4 226.6h0M59.8 238.5h0M52.9 236.0h0M55.4 242.9h0M51.8 234.6h0M55.6 234.4h0M54.4 235.8h0M43.1 228.1h0M59.1 234.4h0M60.5 233.5h0M62.0 230.3h0M60.3 223.7h0M52.3 238.6h0M62.8 228.6h0M50.0 222.9h0M61.8 239.9h0M55.5 227.9h0M47.4 234.9h0M54.3 242.8h0M61.6 224.7h0M50.7 223.5h0M46.6 241.9h0M54.7 243.1h0M45.1 241.8h0M53.7 243.3h0M46.1 232.0h0M56.9 228.8h0M57.7 228.9h0M57.3 243.8h0M51.3 229.4h0M50.9 242.3h0M58.6 244.1h0M51.2 244.1h0M44.6 232.0h0M47.1 241.3h0M53.2 220.5h0M66.8 237.4h0M59.3 236.3h0M45.0 240.5h0M63.0 233.3h0M52.4 234.7h0M45.8 226.7h0M54.8 218.1h0M54.4 231.7h0M43.5 233.8h0M55.8 229.4h0M56.2 227.5h0M58.9 223.8h0M59.9 227.4h0M59.1 239.8h0M58.7 243.8h0M63.5 236.6h0M59.5 222.8h0M56.5 219.8h0M60.9 243.0h0M47.9 220.8h0M50.2 229.6h0M60.2 223.5h0M57.5 238.4h0M62.1 236.9h0M54.8 242.4h0M54.4 235.8h0M54.0 232.6h0M52.6 221.7h0M55.2 232.4h0M63.8 226.4h0M52.1 222.9h0M55.9 244.5h0" stroke="#eac294" stroke-width="1.15" stroke-linecap="round" stroke-opacity="0.68" fill="none"/>
<path d="M50.2 240.0h0M61.7 237.0h0M58.1 219.5h0M58.2 240.8h0M56.8 232.1h0M49.1 237.8h0M53.2 223.5h0M49.7 229.9h0M45.0 236.9h0M57.5 228.8h0M58.5 236.0h0M49.1 236.9h0M53.1 220.2h0M43.1 233.7h0M60.2 237.7h0M50.6 244.2h0M49.8 222.3h0M62.7 229.0h0M54.1 231.2h0M66.5 232.1h0M62.8 236.6h0M47.8 237.4h0M61.6 223.0h0M68.8 235.9h0M65.9 235.9h0M57.3 236.7h0M45.0 235.5h0M51.1 225.5h0M65.8 228.8h0M47.0 231.5h0M57.0 221.6h0M49.0 236.6h0M44.9 237.0h0M54.9 226.2h0M58.6 224.0h0M65.0 228.4h0M49.8 231.0h0M53.2 245.2h0M51.1 221.4h0M64.6 229.1h0M56.6 224.1h0M53.8 223.8h0M54.3 228.2h0M52.3 234.8h0M54.4 222.8h0M54.4 228.0h0M62.7 237.2h0M45.7 234.0h0M58.2 229.0h0M49.9 241.5h0M61.0 224.5h0M49.8 227.7h0M54.8 229.6h0M52.7 230.4h0M54.1 237.7h0M60.8 241.7h0M49.5 234.5h0M52.1 238.8h0M62.4 228.6h0M58.4 222.8h0M47.7 234.4h0M53.0 221.1h0M60.8 225.3h0M44.3 231.3h0" stroke="#e6b880" stroke-width="1.15" stroke-linecap="round" stroke-opacity="0.68" fill="none"/>
<path d="M50.2 241.9h0M62.1 218.4h0M55.5 225.5h0M54.0 226.3h0M52.0 230.7h0M64.9 235.9h0M66.2 233.7h0M48.4 224.8h0M48.5 232.0h0M57.5 244.9h0M50.3 235.7h0M54.9 243.9h0M45.7 237.4h0M54.6 233.2h0M61.7 236.7h0M58.9 235.7h0M65.3 235.0h0M46.3 242.8h0M55.7 242.6h0M65.7 232.6h0M53.2 237.8h0M55.0 221.8h0M59.7 243.9h0M46.3 224.4h0M53.9 223.4h0M47.0 233.7h0M50.4 240.1h0M60.4 221.9h0M55.2 244.3h0M56.7 222.0h0M57.7 235.3h0M56.5 232.6h0M51.2 230.7h0M53.9 241.7h0M64.4 223.9h0M56.6 235.7h0M51.2 237.1h0M52.0 238.5h0M57.4 224.5h0M46.3 240.9h0M50.0 236.0h0M43.0 232.2h0M44.2 232.7h0M59.4 232.9h0M56.5 243.8h0M60.0 234.3h0M43.0 224.6h0M59.5 226.8h0M46.3 233.9h0M50.9 222.0h0M53.5 230.0h0M54.8 239.4h0M50.7 230.4h0M58.6 230.0h0M56.1 228.6h0M57.5 226.8h0M52.6 237.7h0M58.3 237.2h0M51.3 233.7h0M52.8 232.4h0M50.4 241.2h0M63.6 224.5h0M53.6 220.2h0M49.8 226.4h0M61.4 223.5h0M52.1 228.7h0M61.0 228.1h0" stroke="#f4dcc0" stroke-width="1.15" stroke-linecap="round" stroke-opacity="0.68" fill="none"/>
<ellipse cx="42.70" cy="222.60" rx="4.68" ry="6.48" fill="#b8dca8" fill-opacity="0.55" filter="url(#b1)"/>
<path d="M39.3 221.9h0M45.1 218.3h0M40.7 223.4h0M47.7 222.8h0M37.9 225.7h0M41.0 223.3h0M41.9 218.5h0M46.1 225.0h0M44.6 219.5h0M42.3 223.8h0M42.2 225.2h0M46.4 218.7h0M42.2 219.0h0M44.9 227.2h0M40.9 217.6h0M46.3 219.8h0M46.4 217.9h0M40.7 227.3h0" stroke="#9ccb8c" stroke-width="1.15" stroke-linecap="round" stroke-opacity="0.68" fill="none"/>
<path d="M41.1 220.5h0M43.2 215.3h0M43.1 219.2h0M46.2 220.1h0M45.0 223.2h0M44.8 227.8h0M42.7 226.1h0M40.9 230.2h0M43.9 225.6h0M43.1 220.8h0M38.9 224.0h0M47.3 225.3h0M41.3 226.0h0M37.5 221.3h0M42.4 225.3h0M37.4 223.8h0M46.3 222.3h0M40.3 218.2h0M43.0 226.2h0M40.4 228.5h0" stroke="#b4d8a4" stroke-width="1.15" stroke-linecap="round" stroke-opacity="0.68" fill="none"/>
<path d="M46.3 223.0h0M41.3 221.7h0M41.4 227.2h0M44.0 218.0h0M42.9 223.4h0M42.2 227.6h0M43.3 219.1h0M44.7 221.2h0M46.8 227.0h0M39.9 228.5h0M42.3 223.0h0M47.9 223.6h0M41.5 218.5h0M41.4 224.9h0" stroke="#88c078" stroke-width="1.15" stroke-linecap="round" stroke-opacity="0.68" fill="none"/>
<path d="M47.4 226.5h0M46.5 220.2h0M46.9 221.6h0M41.6 226.1h0M41.0 217.2h0M43.5 217.7h0M45.3 221.6h0M47.1 217.7h0M44.6 220.6h0M41.9 218.7h0M39.0 222.5h0M38.2 219.2h0M45.2 226.2h0M43.2 227.1h0M38.5 223.4h0M45.0 224.7h0M43.3 217.0h0M44.2 227.0h0" stroke="#c4e0b8" stroke-width="1.15" stroke-linecap="round" stroke-opacity="0.68" fill="none"/>
<path d="M79.9 236.4h0M77.6 237.8h0M78.9 239.1h0M78.8 236.9h0M78.1 234.9h0M79.3 239.3h0M76.8 239.7h0M78.6 234.4h0M74.0 238.6h0M79.1 239.4h0M77.0 234.4h0" stroke="#e0c0a0" stroke-width="1.15" stroke-linecap="round" stroke-opacity="0.68" fill="none"/>
<path d="M78.5 240.0h0M74.5 236.7h0M77.6 239.0h0M79.3 237.6h0M75.7 238.9h0" stroke="#e8ccb0" stroke-width="1.15" stroke-linecap="round" stroke-opacity="0.68" fill="none"/>
<ellipse cx="47.20" cy="180.7" rx="10.6" ry="15.4" transform="rotate(12 47.20 180.7)" fill="none" stroke="#262626" stroke-width="1.2" stroke-linecap="round" stroke-dasharray="0 2.3"/>
<ellipse cx="63.60" cy="184.5" rx="6.9" ry="8.5" fill="none" stroke="#262626" stroke-width="1.2" stroke-linecap="round" stroke-dasharray="0 2.3"/>
<ellipse cx="55.20" cy="232.0" rx="13.2" ry="13.8" fill="none" stroke="#262626" stroke-width="1.2" stroke-linecap="round" stroke-dasharray="0 2.3"/>
<line x1="28.50" y1="160.50" x2="28.50" y2="250.00" stroke="#231f20" stroke-width="1.25"/>
<line x1="28.50" y1="250.00" x2="130.50" y2="250.00" stroke="#231f20" stroke-width="1.25"/>
<text x="50.80" y="162.60" font-size="6.3" stroke="#231f20" stroke-width="0.15" textLength="27.00" lengthAdjust="spacingAndGlyphs">GMP-neu</text>
<text x="71.70" y="180.20" font-size="6.3" stroke="#231f20" stroke-width="0.15" textLength="32.30" lengthAdjust="spacingAndGlyphs">GMP-mono</text>
<text x="109.00" y="230.60" font-size="6.4" stroke="#231f20" stroke-width="0.15" textLength="26.00" lengthAdjust="spacingAndGlyphs">Erythroid</text>
<text x="21.20" y="261.40" font-size="6.6" stroke="#231f20" stroke-width="0.15" textLength="27.60" lengthAdjust="spacingAndGlyphs">HSC/MPP</text>
<line x1="40.40" y1="255.40" x2="48.10" y2="243.00" stroke="#231f20" stroke-width="0.8"/>
<text x="79.60" y="260.80" font-size="8.4" stroke="#231f20" stroke-width="0.15" text-anchor="middle" textLength="21.60" lengthAdjust="spacingAndGlyphs">UMAP1</text>
<ellipse cx="202.80" cy="207.00" rx="42" ry="27" fill="#eef1f4" fill-opacity="0.8" filter="url(#b3)"/>
<ellipse cx="171.30" cy="199.50" rx="12" ry="8" fill="#dde3ee" fill-opacity="0.8" filter="url(#b1)"/>
<ellipse cx="212.50" cy="191.70" rx="9" ry="9" fill="#eaeaef" fill-opacity="0.9" filter="url(#b1)"/>
<ellipse cx="194.80" cy="214.00" rx="9" ry="8" fill="#efe6dc" fill-opacity="0.8" filter="url(#b1)"/>
<ellipse cx="171.30" cy="199.50" rx="10.35" ry="6.75" fill="#d8dfec" fill-opacity="0.5" filter="url(#b1)"/>
<path d="M171.6 201.3h0M169.6 197.5h0M177.3 199.6h0M170.7 207.4h0M178.9 194.8h0M165.7 194.5h0M171.5 199.1h0M167.0 195.0h0M173.2 192.7h0M172.6 200.5h0M179.0 196.5h0M168.6 198.2h0M169.9 195.8h0M172.0 199.3h0M175.9 201.2h0M166.7 199.5h0M160.0 201.9h0M173.4 196.5h0M165.4 202.1h0M181.5 197.9h0M181.8 202.6h0M180.9 202.8h0M167.6 193.7h0M168.1 193.6h0M179.8 194.9h0M175.0 202.8h0M177.1 200.9h0M171.1 198.8h0M172.2 196.1h0M169.8 196.8h0M171.5 191.5h0M174.8 206.0h0M176.1 202.6h0" stroke="#c9d3e4" stroke-width="1.15" stroke-linecap="round" stroke-opacity="0.68" fill="none"/>
<path d="M182.7 196.9h0M175.5 205.2h0M177.3 201.2h0M173.1 198.3h0M168.2 200.8h0M163.8 195.9h0M170.4 194.9h0M160.4 196.8h0M181.3 197.2h0M182.4 196.8h0M171.1 196.3h0M161.7 202.1h0M171.6 197.0h0M171.8 205.2h0M167.9 193.4h0M171.9 200.5h0M178.4 194.6h0M162.7 195.1h0M161.0 198.6h0M168.3 200.0h0M173.4 194.8h0M162.9 198.3h0M172.6 194.3h0M174.1 204.1h0M182.8 199.8h0M174.2 200.4h0M180.4 199.9h0" stroke="#d6dce8" stroke-width="1.15" stroke-linecap="round" stroke-opacity="0.68" fill="none"/>
<path d="M171.3 200.2h0M174.2 197.1h0M176.4 197.9h0M165.1 192.1h0M177.2 197.5h0M173.3 203.5h0M176.8 203.5h0M181.2 197.2h0M162.6 202.7h0M174.5 203.3h0M169.7 204.5h0M172.2 197.7h0M166.6 192.2h0M181.8 195.7h0M168.7 194.7h0M168.9 199.9h0M178.6 204.0h0M168.5 206.2h0M171.3 195.5h0M167.7 194.4h0M171.6 206.8h0M172.8 202.2h0M180.3 200.8h0M180.7 196.8h0M180.5 201.7h0M166.1 201.8h0" stroke="#b9c6de" stroke-width="1.15" stroke-linecap="round" stroke-opacity="0.68" fill="none"/>
<path d="M166.4 203.9h0M179.1 204.0h0M176.3 197.0h0M165.2 198.4h0M165.0 201.9h0M180.2 197.1h0M172.4 203.2h0M171.5 198.0h0M168.7 202.9h0M164.9 198.5h0M179.4 196.0h0M172.6 204.4h0M168.1 197.6h0M179.5 203.5h0M168.2 204.7h0M167.8 193.5h0M172.1 197.0h0M173.7 203.6h0M175.1 202.7h0M179.5 203.8h0M177.9 194.3h0M173.5 200.4h0M179.8 196.5h0M167.7 192.9h0" stroke="#e4e8f0" stroke-width="1.15" stroke-linecap="round" stroke-opacity="0.68" fill="none"/>
<path d="M174.5 204.7h0M176.5 202.2h0M161.2 201.5h0M167.7 200.0h0M170.8 205.7h0M173.9 203.6h0M178.1 198.0h0M178.5 200.1h0M172.3 196.0h0M163.1 200.3h0M177.4 196.5h0M168.9 205.4h0M176.0 196.6h0M177.9 196.0h0M174.2 207.0h0M181.0 203.1h0M176.6 198.2h0M177.9 196.5h0M167.7 199.5h0M168.4 199.7h0" stroke="#e8e0e4" stroke-width="1.15" stroke-linecap="round" stroke-opacity="0.68" fill="none"/>
<ellipse cx="215.80" cy="212.00" rx="13.50" ry="14.40" fill="#d8edf5" fill-opacity="0.55" filter="url(#b1)"/>
<path d="M228.8 210.8h0M218.3 216.2h0M220.1 205.1h0M208.9 211.9h0M221.2 203.6h0M216.1 209.9h0M222.1 224.3h0M211.0 222.1h0M221.8 201.4h0M215.5 220.7h0M228.8 206.1h0M227.9 208.8h0M229.7 212.7h0M210.4 222.6h0M204.3 210.1h0M220.3 218.7h0M221.0 208.1h0M203.4 219.0h0M227.4 215.7h0M219.2 223.1h0M228.2 207.1h0M208.7 212.7h0M206.9 220.8h0M215.6 221.1h0M213.7 210.7h0M213.3 227.3h0M208.5 205.0h0M203.0 208.7h0M206.7 203.9h0M227.3 209.0h0M228.1 211.6h0M228.5 214.1h0M221.1 211.8h0M211.2 195.5h0M223.0 213.3h0M202.4 207.5h0" stroke="#c4e2f0" stroke-width="1.15" stroke-linecap="round" stroke-opacity="0.68" fill="none"/>
<path d="M220.0 227.3h0M222.6 209.0h0M207.6 198.3h0M224.1 213.8h0M211.5 208.9h0M221.9 223.1h0M224.7 201.1h0M220.9 200.3h0M217.1 203.0h0M218.9 217.3h0M206.0 219.4h0M218.3 216.1h0M209.8 202.3h0M213.1 213.6h0M222.0 221.1h0M211.2 218.6h0M227.9 220.0h0M213.7 226.2h0M213.9 203.0h0M223.5 214.0h0M211.6 221.8h0M224.6 209.1h0M200.7 209.2h0M216.6 202.4h0M215.6 202.7h0M226.9 200.6h0M212.3 204.0h0M215.0 207.2h0M228.9 213.2h0M215.8 207.3h0M212.0 225.7h0M218.0 212.7h0M229.2 203.9h0M222.5 214.2h0M210.3 217.1h0M223.3 219.7h0M222.1 210.6h0M224.5 225.5h0M226.4 211.5h0M223.6 223.1h0M214.7 211.4h0M209.6 219.3h0M200.9 212.7h0M223.9 213.4h0" stroke="#d4ecf6" stroke-width="1.15" stroke-linecap="round" stroke-opacity="0.68" fill="none"/>
<path d="M217.2 223.1h0M227.1 212.5h0M217.4 206.6h0M227.7 203.9h0M209.0 203.0h0M210.3 204.7h0M207.5 200.2h0M202.5 208.6h0M210.1 203.3h0M229.5 208.0h0M218.2 221.5h0M221.0 198.9h0M231.8 216.9h0M207.4 211.2h0M210.6 220.1h0M226.4 219.8h0M225.2 208.1h0M220.6 204.9h0M219.4 198.5h0M229.9 209.4h0M215.3 200.3h0M221.2 223.9h0M214.4 213.6h0M208.6 219.4h0M219.7 198.2h0M213.8 198.1h0M206.0 211.2h0M211.6 220.5h0M218.1 209.9h0M212.4 214.7h0M208.8 210.8h0M215.0 219.7h0M225.1 203.9h0M213.9 218.0h0M211.9 212.1h0M219.1 202.0h0" stroke="#b4dcec" stroke-width="1.15" stroke-linecap="round" stroke-opacity="0.68" fill="none"/>
<path d="M201.0 213.9h0M219.2 200.8h0M201.9 208.1h0M206.8 213.7h0M218.5 199.0h0M209.1 210.3h0M205.8 223.5h0M203.6 210.1h0M219.1 216.1h0M217.0 209.8h0M221.2 224.5h0M217.5 215.3h0M224.7 221.7h0M218.0 212.6h0M207.4 222.8h0M225.5 205.4h0M214.1 226.4h0M224.2 224.7h0M213.6 214.6h0M227.8 210.8h0M215.1 225.7h0M218.2 221.3h0M228.0 210.4h0M219.5 206.3h0M223.5 217.1h0M224.5 204.1h0M216.8 224.5h0M208.4 212.4h0M228.1 220.6h0M207.9 204.8h0M228.8 213.5h0M216.3 202.9h0M207.6 217.9h0M218.1 227.9h0M227.1 210.7h0M228.2 215.9h0M215.3 206.0h0M223.8 221.4h0M211.8 221.6h0M215.1 212.3h0M222.1 215.8h0M228.0 220.8h0" stroke="#e4d8dc" stroke-width="1.15" stroke-linecap="round" stroke-opacity="0.68" fill="none"/>
<ellipse cx="175.20" cy="180.20" rx="9.83" ry="13.77" fill="#b8c8ea" fill-opacity="0.45" filter="url(#b1)" transform="rotate(12 175.20 180.20)"/>
<path d="M183.5 184.8h0M186.2 182.6h0M180.0 168.0h0M181.9 177.3h0M183.9 178.0h0M177.4 180.3h0M181.7 172.8h0M179.8 182.6h0M167.7 179.5h0M176.6 167.5h0M179.1 184.9h0M181.1 181.0h0M179.9 183.7h0M171.8 167.9h0M174.5 175.4h0M169.9 188.5h0M178.6 177.4h0M177.3 191.8h0M168.6 175.0h0M179.7 171.0h0M177.3 182.7h0M168.8 189.1h0M176.5 189.4h0M169.5 176.3h0M172.1 189.7h0M182.5 165.8h0M172.4 168.3h0M168.6 174.5h0M176.3 181.0h0M175.6 174.6h0M183.3 167.3h0M168.4 174.1h0M173.2 185.5h0M174.8 169.3h0M176.2 182.1h0M175.4 170.3h0M170.2 176.0h0" stroke="#c8d4ec" stroke-width="1.15" stroke-linecap="round" stroke-opacity="0.68" fill="none"/>
<path d="M184.0 182.7h0M173.4 169.7h0M165.3 183.3h0M178.2 184.2h0M176.7 166.6h0M168.6 195.3h0M176.3 181.7h0M172.3 187.1h0M166.2 181.3h0M178.1 183.3h0M168.3 177.7h0M165.1 178.1h0M183.2 185.8h0M172.7 168.6h0M169.7 174.2h0M170.1 183.3h0M167.1 184.6h0M170.4 175.1h0M169.9 170.9h0M172.1 178.3h0M179.5 182.4h0M165.6 186.8h0M176.6 174.8h0M177.4 165.3h0M170.5 178.6h0M170.7 185.4h0M168.8 189.7h0M167.5 170.0h0M184.2 179.1h0M182.0 175.7h0M176.7 169.1h0M176.1 171.4h0M175.3 172.0h0M172.3 196.0h0M173.6 192.1h0" stroke="#dce4f2" stroke-width="1.15" stroke-linecap="round" stroke-opacity="0.68" fill="none"/>
<path d="M185.3 180.2h0M178.4 170.8h0M172.6 182.5h0M178.7 165.5h0M171.7 178.2h0M174.1 187.4h0M173.6 177.1h0M170.7 170.2h0M168.9 186.9h0M169.3 175.5h0M178.8 174.4h0M167.7 177.3h0M178.4 178.6h0M168.9 188.5h0M172.7 167.7h0M175.4 189.6h0M175.1 169.3h0M181.9 188.8h0M170.9 176.1h0M183.7 169.2h0M172.1 183.8h0M182.3 173.7h0M177.7 190.2h0M174.3 168.4h0M165.0 188.8h0M180.0 180.4h0M183.4 183.8h0M171.7 178.4h0M179.7 173.1h0M173.7 192.7h0M172.3 184.1h0M168.8 191.3h0M164.1 190.1h0M169.0 175.5h0M163.7 177.9h0M164.2 178.9h0M178.2 190.2h0M168.3 182.0h0M171.7 184.2h0M182.5 172.4h0M183.6 185.4h0M175.6 184.3h0" stroke="#e6dce6" stroke-width="1.15" stroke-linecap="round" stroke-opacity="0.68" fill="none"/>
<path d="M185.6 174.3h0M176.5 186.2h0M177.6 175.6h0M168.8 178.6h0M170.3 170.2h0M168.4 180.5h0M167.2 192.2h0M185.0 177.5h0M171.1 170.2h0M176.0 178.1h0M179.2 168.0h0M179.5 163.4h0M183.8 177.2h0M175.8 183.3h0M178.5 173.9h0M184.4 168.5h0M186.9 184.5h0M177.7 187.2h0M173.8 165.4h0M177.7 177.4h0M168.3 180.8h0M172.7 187.1h0M177.4 189.5h0M166.1 182.3h0M179.3 167.8h0M178.4 178.9h0M181.4 175.6h0M166.3 173.5h0M168.4 186.4h0M171.4 188.7h0" stroke="#d0dcf0" stroke-width="1.15" stroke-linecap="round" stroke-opacity="0.68" fill="none"/>
<path d="M165.9 185.6h0M179.9 181.7h0M167.4 180.5h0M170.2 191.6h0M179.6 190.8h0M168.7 176.6h0M180.2 188.1h0M173.7 170.9h0M170.3 188.6h0M178.1 179.0h0M170.1 194.2h0M178.0 173.2h0M179.3 183.5h0M176.3 173.7h0M172.2 185.6h0M171.5 171.2h0M179.5 176.1h0M182.6 170.5h0M166.3 178.8h0M182.7 178.7h0M177.0 193.2h0M179.8 182.9h0M168.7 174.9h0M171.5 172.4h0M169.5 184.0h0M175.4 190.1h0M167.0 175.7h0M166.3 176.4h0M178.7 171.9h0M184.1 180.6h0M175.9 168.9h0M178.0 172.4h0M176.5 173.2h0M167.0 183.1h0M179.4 171.2h0M167.2 186.1h0M170.1 176.7h0M172.5 180.8h0M181.1 185.1h0M177.9 187.8h0M170.9 176.2h0" stroke="#7d9bd6" stroke-width="1.15" stroke-linecap="round" stroke-opacity="0.68" fill="none"/>
<path d="M170.9 194.2h0M181.8 180.5h0M174.8 192.9h0M173.3 183.5h0M175.7 178.8h0M177.4 187.5h0M165.8 175.5h0M166.6 189.0h0M174.6 170.0h0M171.8 174.6h0M168.2 174.2h0M173.3 178.9h0M175.2 176.9h0M177.6 181.2h0M184.2 174.8h0M166.3 171.7h0M169.5 168.9h0M176.9 184.6h0M182.2 185.8h0M167.9 175.0h0M170.0 172.8h0M172.4 190.4h0M177.1 167.3h0M173.3 175.6h0M172.5 187.2h0M168.7 182.2h0M185.5 176.1h0M178.4 188.1h0M175.1 193.3h0M178.6 182.4h0M168.7 188.4h0M169.4 177.7h0M171.7 186.5h0M180.0 193.2h0M183.0 180.9h0" stroke="#5a7ec6" stroke-width="1.15" stroke-linecap="round" stroke-opacity="0.68" fill="none"/>
<ellipse cx="171.20" cy="183.20" rx="5.69" ry="11.59" fill="#b8c8ea" fill-opacity="0.45" filter="url(#b1)" transform="rotate(12 171.20 183.20)"/>
<path d="M170.8 186.7h0M173.3 176.1h0M173.9 182.1h0M171.4 181.0h0M165.3 188.1h0M165.5 191.2h0M177.1 175.8h0M172.8 171.4h0M172.2 190.4h0M177.1 174.2h0M166.7 184.4h0M169.9 184.0h0M167.3 178.1h0M166.6 184.6h0M167.0 183.8h0M171.8 180.5h0M167.6 180.0h0M172.5 172.8h0M167.3 180.5h0M172.8 172.3h0M171.6 175.3h0M168.1 177.7h0M172.8 192.5h0M170.6 184.7h0M167.8 177.6h0" stroke="#7d9bd6" stroke-width="1.15" stroke-linecap="round" stroke-opacity="0.68" fill="none"/>
<path d="M167.8 190.1h0M176.8 176.6h0M165.1 189.6h0M169.8 173.4h0M167.9 187.2h0M175.5 190.5h0M166.9 180.4h0M167.2 188.3h0M171.5 180.2h0M170.0 176.1h0M168.5 190.1h0M173.5 180.6h0M169.0 174.6h0M168.8 177.3h0M173.1 183.4h0M165.6 188.0h0M171.6 170.3h0M171.1 179.6h0M171.9 185.5h0M174.9 188.5h0M172.6 186.0h0M170.1 176.2h0M175.8 178.7h0M175.2 181.6h0M171.7 177.4h0M173.2 179.4h0M174.6 183.3h0M167.2 187.8h0M172.6 193.2h0M169.5 189.0h0M169.5 188.4h0M170.5 177.4h0M173.5 181.2h0M167.1 189.3h0M173.1 188.7h0M177.3 184.4h0" stroke="#5a7ec6" stroke-width="1.15" stroke-linecap="round" stroke-opacity="0.68" fill="none"/>
<path d="M167.1 187.9h0M172.1 178.3h0M172.1 190.4h0M177.1 179.8h0M169.9 175.1h0M174.2 171.5h0M173.8 182.3h0M170.2 176.9h0M173.1 188.4h0M168.6 184.2h0M172.3 175.7h0M171.9 177.4h0M170.2 183.8h0M172.2 170.0h0M164.9 183.4h0M171.8 180.6h0M170.2 177.8h0M176.8 183.3h0M167.4 194.1h0M171.8 174.1h0M172.3 175.6h0M170.9 189.4h0M167.3 189.1h0M169.4 185.6h0M170.1 184.6h0M172.3 191.3h0M170.0 176.4h0M176.7 174.7h0M171.5 181.2h0M168.3 196.2h0" stroke="#9cb4e0" stroke-width="1.15" stroke-linecap="round" stroke-opacity="0.68" fill="none"/>
<path d="M174.8 177.2h0M177.3 184.0h0M174.3 180.9h0M171.9 178.3h0M172.4 181.0h0M169.6 193.6h0M174.1 178.5h0M177.1 174.6h0M168.0 184.0h0M164.9 191.8h0M168.2 179.4h0M168.4 192.7h0M177.7 181.3h0M173.9 179.0h0M171.0 178.3h0M171.2 182.4h0M172.4 177.2h0M172.6 171.2h0M166.6 187.9h0M173.9 177.1h0M166.7 190.1h0M170.1 181.6h0M173.1 189.0h0M174.7 186.0h0M165.6 188.5h0" stroke="#4a6eb8" stroke-width="1.15" stroke-linecap="round" stroke-opacity="0.68" fill="none"/>
<path d="M172.3 187.7h0M173.5 184.3h0M171.9 174.8h0M174.3 185.9h0M168.0 189.0h0M169.3 190.9h0M170.9 185.5h0M175.5 177.8h0M173.6 182.1h0M174.3 178.7h0M170.2 176.3h0M170.4 180.1h0M169.1 182.2h0M176.0 184.0h0M169.9 173.4h0M174.2 181.6h0M169.6 191.2h0M170.3 175.5h0M173.0 181.5h0M169.3 184.7h0M169.9 179.1h0" stroke="#b4c6e8" stroke-width="1.15" stroke-linecap="round" stroke-opacity="0.68" fill="none"/>
<path d="M168.8 181.2h0M175.9 176.2h0M176.1 174.3h0M171.1 170.3h0M167.9 174.4h0M164.6 185.5h0M173.0 176.2h0M171.1 195.1h0M166.1 190.3h0M170.8 193.4h0M172.9 175.3h0M169.2 192.5h0M168.6 188.4h0M168.2 185.3h0M165.6 178.9h0M172.2 184.7h0M170.1 193.3h0M171.7 182.4h0M174.4 190.1h0M175.3 183.4h0M172.4 184.4h0M174.0 185.6h0M170.6 194.6h0M165.7 187.5h0M170.2 178.2h0M171.5 182.0h0M168.5 176.6h0M166.6 193.8h0M167.2 183.3h0M175.2 190.0h0M172.9 184.1h0" stroke="#d0dcf0" stroke-width="1.15" stroke-linecap="round" stroke-opacity="0.68" fill="none"/>
<ellipse cx="198.80" cy="224.00" rx="6.30" ry="9.00" fill="#ece6e2" fill-opacity="0.5" filter="url(#b1)"/>
<path d="M193.5 228.3h0M201.2 221.9h0M197.5 225.4h0M198.1 214.7h0M202.7 229.4h0M198.0 225.1h0M202.2 226.7h0M203.7 231.1h0M192.0 227.0h0M196.3 231.5h0M196.1 225.4h0M196.2 220.1h0M198.1 230.8h0M197.6 229.1h0M193.5 219.3h0M199.4 223.3h0M192.7 220.1h0" stroke="#e6dcd4" stroke-width="1.15" stroke-linecap="round" stroke-opacity="0.68" fill="none"/>
<path d="M199.5 218.9h0M196.1 225.5h0M197.4 221.4h0M192.0 225.2h0M196.1 231.0h0M194.6 223.9h0M196.9 221.3h0M201.6 223.3h0M196.6 222.9h0M202.0 223.2h0M204.1 223.6h0M196.6 230.8h0M195.3 221.0h0M193.7 224.3h0M201.6 224.1h0" stroke="#dde4ec" stroke-width="1.15" stroke-linecap="round" stroke-opacity="0.68" fill="none"/>
<path d="M195.4 222.7h0M197.1 223.6h0M200.5 228.6h0M195.2 229.2h0M197.5 221.3h0M203.9 229.8h0M192.5 223.2h0M199.6 228.1h0M198.9 218.5h0M195.1 226.1h0M193.3 222.0h0M204.7 225.2h0M200.2 216.5h0M194.2 225.3h0M198.3 233.8h0M193.5 231.5h0M191.3 226.6h0M205.3 225.7h0M198.7 221.0h0M196.4 231.1h0M192.6 221.7h0M198.7 220.9h0" stroke="#ecd8c4" stroke-width="1.15" stroke-linecap="round" stroke-opacity="0.68" fill="none"/>
<path d="M197.2 224.3h0M197.4 217.0h0M197.0 227.6h0M202.7 224.6h0M196.2 228.7h0M203.2 222.2h0M201.9 228.6h0M202.9 219.0h0M201.2 221.3h0M196.0 226.4h0M199.6 228.0h0" stroke="#d8e6ee" stroke-width="1.15" stroke-linecap="round" stroke-opacity="0.68" fill="none"/>
<ellipse cx="171.70" cy="200.20" rx="8.10" ry="6.30" fill="#b8c8ea" fill-opacity="0.35" filter="url(#b1)"/>
<path d="M168.9 203.9h0M163.6 197.4h0M175.7 206.7h0M166.7 201.7h0M176.9 195.6h0M169.6 196.5h0M169.9 197.4h0M177.1 198.6h0M164.8 199.5h0M169.5 198.6h0M173.9 203.9h0M165.9 196.8h0M179.0 199.2h0M170.6 195.3h0" stroke="#9cb4e0" stroke-width="1.15" stroke-linecap="round" stroke-opacity="0.68" fill="none"/>
<path d="M168.7 193.8h0M175.5 197.2h0M165.9 199.4h0M173.4 201.5h0M165.7 195.0h0M176.2 197.0h0M167.1 204.3h0M169.7 202.3h0M172.7 206.1h0" stroke="#4a6eb8" stroke-width="1.15" stroke-linecap="round" stroke-opacity="0.68" fill="none"/>
<path d="M176.1 194.6h0M176.1 200.6h0M175.4 194.4h0M171.9 207.3h0M166.4 201.5h0M174.7 199.7h0M174.8 197.5h0M177.4 198.2h0M167.5 196.9h0M164.6 199.0h0M178.4 202.6h0M175.9 205.4h0M174.8 201.2h0M169.9 199.9h0M172.8 198.9h0M178.1 201.0h0M173.3 192.3h0M170.2 200.2h0M174.2 202.0h0" stroke="#b4c6e8" stroke-width="1.15" stroke-linecap="round" stroke-opacity="0.68" fill="none"/>
<path d="M172.6 205.1h0M176.4 202.8h0M169.4 199.0h0M179.3 202.5h0M166.1 194.7h0M169.8 205.9h0M177.0 198.4h0M179.1 202.3h0M168.9 199.1h0M175.8 197.2h0M172.4 199.4h0M176.8 202.4h0M165.9 198.1h0" stroke="#d0dcf0" stroke-width="1.15" stroke-linecap="round" stroke-opacity="0.68" fill="none"/>
<path d="M169.2 195.0h0M176.8 196.0h0M177.0 197.0h0M168.3 199.5h0M171.7 196.4h0M180.8 198.5h0M164.3 198.0h0M176.5 205.0h0M178.0 200.8h0M163.2 198.6h0M169.9 194.8h0M174.9 196.6h0M162.5 204.0h0M175.4 206.2h0M173.6 199.4h0M171.9 202.9h0M175.0 198.2h0M178.4 197.3h0M178.1 201.4h0" stroke="#c8d4ec" stroke-width="1.15" stroke-linecap="round" stroke-opacity="0.68" fill="none"/>
<path d="M178.2 204.1h0M166.3 202.1h0M167.3 205.2h0M176.6 205.2h0M171.1 195.0h0M176.0 203.3h0M163.2 198.9h0M168.5 206.5h0M173.8 202.0h0M170.8 204.9h0M173.1 205.9h0M179.0 199.1h0M170.1 203.0h0M171.5 199.8h0M177.5 202.7h0M175.7 202.7h0M162.8 202.5h0M176.1 194.3h0M167.5 200.4h0M173.4 203.0h0M170.1 195.4h0" stroke="#d8e0f0" stroke-width="1.15" stroke-linecap="round" stroke-opacity="0.68" fill="none"/>
<ellipse cx="190.50" cy="184.60" rx="6.32" ry="6.80" fill="#dadcec" fill-opacity="0.6" filter="url(#b1)"/>
<path d="M189.9 182.8h0M192.3 187.5h0M190.1 177.3h0M190.4 191.1h0M188.3 180.6h0M190.5 182.2h0M184.4 184.3h0M184.8 185.1h0M194.4 185.7h0M191.9 191.4h0M187.0 184.2h0M193.0 187.3h0M186.2 180.4h0M192.3 183.0h0M189.4 190.0h0M185.4 183.8h0M190.6 183.0h0M190.0 181.1h0" stroke="#c8cce4" stroke-width="1.15" stroke-linecap="round" stroke-opacity="0.68" fill="none"/>
<path d="M189.4 191.9h0M194.1 184.8h0M188.0 191.2h0M195.1 188.6h0M190.1 182.8h0M191.7 191.7h0M192.0 180.2h0M189.3 187.7h0M194.7 178.7h0M190.7 188.6h0M187.5 180.2h0M189.5 190.6h0M193.5 190.8h0M191.8 187.7h0M185.4 181.9h0M186.0 178.9h0M187.4 185.8h0M184.0 186.1h0M192.0 189.8h0" stroke="#b8bedc" stroke-width="1.15" stroke-linecap="round" stroke-opacity="0.68" fill="none"/>
<path d="M196.5 183.9h0M190.9 185.6h0M194.7 183.1h0M193.8 180.7h0M191.7 189.7h0M195.8 191.0h0M193.0 181.8h0M191.8 179.3h0M188.6 178.3h0M189.4 187.1h0M186.5 183.6h0M191.7 178.1h0M186.0 187.2h0M192.3 187.1h0M190.6 178.1h0" stroke="#dcdcea" stroke-width="1.15" stroke-linecap="round" stroke-opacity="0.68" fill="none"/>
<path d="M189.7 178.4h0M188.9 180.4h0M193.1 188.4h0M192.2 187.1h0M190.4 183.8h0M187.2 182.3h0M191.3 191.4h0M186.4 180.8h0M189.6 189.5h0M194.8 185.2h0M187.7 184.7h0M189.9 191.6h0M186.5 182.0h0M189.7 176.4h0M195.7 187.1h0M185.5 185.8h0M193.4 184.4h0M188.4 178.0h0" stroke="#e6d0d8" stroke-width="1.15" stroke-linecap="round" stroke-opacity="0.68" fill="none"/>
<path d="M193.4 176.2h0M186.1 180.9h0M188.2 179.4h0M190.8 181.7h0M195.2 190.8h0M184.9 185.6h0M196.3 185.1h0M191.8 183.3h0M197.2 186.0h0M185.8 184.4h0M196.4 186.4h0M186.7 182.4h0M191.3 189.6h0M193.5 179.0h0M188.3 181.5h0M186.3 184.3h0M187.1 178.3h0M184.4 187.8h0M190.7 177.3h0M189.2 187.8h0" stroke="#d0d4e8" stroke-width="1.15" stroke-linecap="round" stroke-opacity="0.68" fill="none"/>
<path d="M209.2 190.1h0M214.5 185.4h0M214.3 195.8h0M214.4 191.4h0M216.8 191.9h0M210.1 187.2h0M214.6 198.5h0M208.0 191.6h0M220.9 190.1h0M207.4 189.5h0M218.1 193.7h0M218.7 188.0h0M213.6 184.6h0M217.1 195.9h0M213.0 198.7h0M217.8 198.0h0M209.1 190.1h0M214.9 194.8h0M216.4 190.2h0M210.5 186.3h0M213.8 197.1h0M213.5 186.8h0M210.2 193.4h0M213.7 194.5h0M208.9 197.7h0M208.2 187.2h0" stroke="#e0e0e8" stroke-width="1.15" stroke-linecap="round" stroke-opacity="0.68" fill="none"/>
<path d="M216.9 196.2h0M210.5 189.0h0M209.7 191.6h0M206.5 194.0h0M209.4 185.8h0M209.9 189.0h0M220.9 190.7h0M215.4 186.4h0M208.3 196.2h0M210.2 193.5h0M217.9 187.8h0M208.8 191.1h0M216.0 188.1h0M218.2 189.6h0M211.6 196.7h0M212.8 187.8h0M213.2 191.8h0M212.0 195.1h0" stroke="#d8dae6" stroke-width="1.15" stroke-linecap="round" stroke-opacity="0.68" fill="none"/>
<path d="M213.0 186.7h0M216.9 196.9h0M216.6 187.7h0M218.7 193.0h0M205.9 196.3h0M207.7 188.4h0M211.9 197.5h0M218.9 189.0h0M214.7 196.3h0M212.3 193.6h0M212.9 189.6h0M216.6 187.9h0M209.6 190.3h0M215.2 190.5h0M220.0 192.8h0M208.9 193.4h0M212.0 183.6h0M208.6 198.8h0" stroke="#ece2e4" stroke-width="1.15" stroke-linecap="round" stroke-opacity="0.68" fill="none"/>
<path d="M220.0 191.7h0M207.3 196.3h0M215.4 192.3h0M204.7 192.7h0M206.7 186.0h0M209.9 189.5h0M209.5 195.4h0M207.6 188.5h0M215.8 196.6h0M209.1 187.3h0M214.4 187.1h0M218.9 192.9h0M215.7 188.9h0M218.1 190.5h0M215.5 186.8h0" stroke="#e4eef4" stroke-width="1.15" stroke-linecap="round" stroke-opacity="0.68" fill="none"/>
<ellipse cx="190.40" cy="197.60" rx="7.02" ry="7.20" fill="#f0c4c6" fill-opacity="0.6" filter="url(#b1)"/>
<path d="M195.7 193.0h0M192.5 200.6h0M196.6 196.0h0M196.3 203.1h0M186.7 191.5h0M195.5 192.5h0M182.7 197.7h0M194.7 192.6h0M189.9 202.3h0M187.3 194.6h0M194.4 199.6h0M190.8 204.5h0M195.2 195.8h0M195.5 191.7h0M195.3 197.6h0M196.7 195.8h0M191.0 200.5h0M193.7 203.8h0M190.5 202.1h0M196.3 196.9h0M195.2 191.3h0M188.7 193.5h0M197.4 196.5h0M197.5 197.2h0M185.7 201.6h0M186.2 196.6h0" stroke="#eebcc0" stroke-width="1.15" stroke-linecap="round" stroke-opacity="0.68" fill="none"/>
<path d="M190.2 197.9h0M195.5 200.4h0M194.1 198.1h0M193.7 196.0h0M190.6 198.6h0M189.8 205.1h0M185.2 203.4h0M192.8 203.2h0M187.2 201.4h0M193.3 194.4h0M184.5 200.3h0M190.8 203.4h0M191.7 197.6h0M194.4 204.3h0M189.9 189.9h0M189.1 197.5h0M193.2 201.5h0M191.3 199.9h0M184.8 202.3h0M189.4 197.5h0M188.4 190.9h0M197.5 200.5h0M186.0 203.2h0M182.1 194.1h0M186.1 198.8h0M196.0 194.2h0M196.4 198.0h0M190.6 200.7h0M194.9 194.4h0M188.2 192.4h0M188.5 205.9h0M188.6 192.4h0M195.7 197.9h0" stroke="#e6a8b0" stroke-width="1.15" stroke-linecap="round" stroke-opacity="0.68" fill="none"/>
<path d="M195.1 192.2h0M191.0 204.4h0M196.2 196.7h0M187.5 201.4h0M188.3 194.8h0M196.7 198.8h0M186.2 195.0h0M189.7 198.8h0M192.4 200.4h0M190.5 200.2h0M190.8 195.8h0M192.5 201.5h0M188.4 190.6h0M191.7 200.4h0M192.5 196.4h0M190.7 201.2h0M194.0 199.1h0M198.1 198.6h0M188.8 200.9h0M189.5 196.8h0M184.4 197.9h0M197.1 198.0h0M191.6 200.0h0M195.0 200.9h0M188.2 194.2h0" stroke="#f4d2d2" stroke-width="1.15" stroke-linecap="round" stroke-opacity="0.68" fill="none"/>
<path d="M190.8 194.6h0M196.9 194.7h0M187.3 201.1h0M186.8 199.5h0M193.5 196.9h0M190.3 203.0h0M184.3 198.5h0M192.5 204.6h0M189.1 196.3h0M185.3 204.0h0M192.6 197.5h0M198.2 198.5h0M189.7 202.7h0M190.2 197.3h0M188.2 202.3h0M184.7 193.6h0M191.4 203.9h0M196.0 201.0h0M183.5 195.3h0M184.0 199.6h0M196.4 198.5h0M185.5 198.0h0M188.0 205.2h0M186.5 203.7h0M197.1 199.2h0M196.9 197.4h0M185.8 202.8h0M192.8 202.4h0M191.8 199.0h0M188.0 193.0h0M191.7 191.2h0M185.2 200.8h0M183.8 196.5h0" stroke="#ecb4ba" stroke-width="1.15" stroke-linecap="round" stroke-opacity="0.68" fill="none"/>
<ellipse cx="201.50" cy="200.20" rx="7.20" ry="7.65" fill="#eec8a0" fill-opacity="0.55" filter="url(#b1)"/>
<path d="M207.7 195.2h0M207.6 201.6h0M205.3 196.4h0M201.6 199.6h0M198.1 199.5h0M202.4 198.0h0M208.7 201.1h0M208.7 202.6h0M202.7 193.1h0M199.5 196.1h0M206.0 194.9h0M208.2 204.0h0M200.3 203.1h0M207.0 194.2h0M203.7 207.9h0M198.2 194.6h0M200.1 197.0h0M198.1 207.1h0M200.3 205.1h0M199.5 197.3h0M205.5 201.8h0M204.7 204.6h0M196.0 199.4h0M200.5 201.4h0M198.6 193.3h0" stroke="#e8b684" stroke-width="1.15" stroke-linecap="round" stroke-opacity="0.68" fill="none"/>
<path d="M206.2 200.1h0M203.5 196.6h0M204.8 195.9h0M197.0 200.5h0M200.4 204.1h0M200.1 206.5h0M203.3 194.0h0M200.2 195.2h0M194.5 198.0h0M200.3 199.6h0M202.0 205.1h0M200.3 197.7h0M200.6 199.9h0M209.8 198.1h0M201.6 197.5h0M207.5 198.9h0M204.6 203.3h0M199.5 204.9h0M205.3 201.9h0M195.8 201.7h0M201.1 200.5h0M194.5 201.2h0M194.4 197.8h0M201.2 201.7h0M201.5 195.4h0M202.4 194.1h0M208.8 200.5h0M200.7 191.6h0M207.1 195.9h0" stroke="#dea26e" stroke-width="1.15" stroke-linecap="round" stroke-opacity="0.68" fill="none"/>
<path d="M201.8 196.3h0M198.9 192.6h0M203.9 195.3h0M203.3 192.2h0M203.0 195.8h0M203.5 192.6h0M208.4 198.0h0M207.3 194.6h0M208.9 199.1h0M194.7 204.9h0M201.1 196.4h0M202.4 197.3h0M204.1 195.8h0M196.9 206.2h0M204.6 195.5h0M195.8 199.0h0M206.9 198.6h0M206.5 204.6h0M195.1 197.2h0M197.1 206.8h0M201.0 207.9h0M203.8 200.1h0M206.4 205.6h0M207.6 202.0h0M193.6 200.4h0M195.6 204.5h0M208.5 202.1h0M199.3 195.9h0M199.5 202.4h0M200.7 196.2h0M196.6 200.5h0M198.4 199.6h0M201.4 195.6h0M207.7 195.3h0M195.8 200.1h0M207.5 198.8h0M202.2 197.7h0M207.3 199.9h0M202.3 191.8h0M194.1 204.7h0M209.7 196.5h0M201.6 197.5h0M206.1 196.7h0" stroke="#f0ceaa" stroke-width="1.15" stroke-linecap="round" stroke-opacity="0.68" fill="none"/>
<path d="M200.8 196.2h0M200.5 208.7h0M200.6 196.2h0M200.9 194.0h0M195.1 201.4h0M207.5 195.0h0M199.0 201.2h0M199.5 197.9h0M197.3 201.0h0M201.2 192.2h0M196.8 201.1h0M205.9 202.9h0M200.1 205.8h0M202.4 198.6h0M201.9 196.8h0M194.5 199.9h0M202.8 203.7h0M194.7 204.8h0M208.8 199.2h0M199.0 200.4h0M203.8 206.9h0M201.9 198.2h0M206.4 195.2h0M194.8 201.4h0M200.6 201.2h0M198.9 196.1h0M202.7 208.2h0M202.3 203.1h0M208.4 200.5h0M207.5 195.0h0M202.1 202.7h0" stroke="#ecc298" stroke-width="1.15" stroke-linecap="round" stroke-opacity="0.68" fill="none"/>
<ellipse cx="214.00" cy="207.50" rx="6.48" ry="15.75" fill="#c4e2f0" fill-opacity="0.6" filter="url(#b1)" transform="rotate(34 214.00 207.50)"/>
<path d="M203.1 219.1h0M210.4 205.5h0M220.2 211.5h0M219.9 201.0h0M224.9 199.9h0M217.6 194.4h0M210.7 211.8h0M215.2 203.7h0M206.4 216.7h0M207.2 209.8h0M216.7 194.2h0M215.6 200.2h0M215.7 205.7h0M221.1 197.6h0M210.4 199.7h0M215.1 208.8h0M217.4 196.5h0M214.0 216.0h0M211.3 204.7h0M220.6 201.8h0M206.4 215.2h0M211.8 210.0h0M207.7 215.6h0M212.1 213.7h0M221.2 197.7h0M215.9 204.3h0M213.0 212.3h0M214.9 212.4h0M205.1 219.4h0M207.2 219.0h0M215.9 206.1h0M219.6 193.3h0M222.6 194.4h0M203.8 212.5h0M210.0 201.4h0M212.6 205.9h0M222.3 199.5h0M206.8 217.3h0M214.3 214.6h0M203.2 214.8h0M205.8 214.2h0M208.7 221.0h0" stroke="#a4d4e8" stroke-width="1.15" stroke-linecap="round" stroke-opacity="0.68" fill="none"/>
<path d="M207.9 202.6h0M210.3 221.0h0M215.3 214.8h0M220.6 201.2h0M211.9 217.8h0M210.6 221.9h0M213.8 201.8h0M211.4 200.6h0M211.2 204.1h0M221.6 203.3h0M220.0 209.6h0M201.5 216.8h0M205.4 208.2h0M220.0 191.6h0M210.1 216.7h0M222.7 192.4h0M207.8 215.4h0M212.8 208.1h0M218.2 209.9h0M220.4 207.7h0M218.7 209.5h0M203.9 221.4h0M204.7 217.4h0M211.8 219.5h0M220.8 202.3h0M223.6 196.5h0M201.5 217.5h0M217.8 212.2h0M204.3 216.0h0M222.7 199.3h0M213.6 212.6h0M204.1 211.2h0M215.6 202.6h0M217.7 210.9h0M213.4 210.5h0M219.5 207.9h0M222.5 196.5h0M222.2 199.7h0M204.9 216.8h0M208.6 212.4h0" stroke="#8cc8e0" stroke-width="1.15" stroke-linecap="round" stroke-opacity="0.68" fill="none"/>
<path d="M220.7 194.0h0M209.5 203.1h0M208.0 205.2h0M208.6 220.0h0M218.6 211.4h0M214.5 208.0h0M214.1 207.8h0M220.5 203.6h0M207.5 206.8h0M209.6 200.9h0M221.9 198.8h0M215.5 207.6h0M210.9 208.4h0M219.2 195.2h0M209.1 206.0h0M214.7 206.8h0M214.0 216.5h0M225.0 201.2h0M206.0 213.0h0M210.3 214.5h0M223.9 197.7h0M222.0 200.9h0M216.1 213.8h0M208.7 207.1h0M205.1 219.6h0M208.7 210.4h0M215.0 211.8h0M221.8 201.0h0M213.7 215.4h0M222.7 204.9h0M223.6 194.4h0M221.5 197.9h0" stroke="#bce0ee" stroke-width="1.15" stroke-linecap="round" stroke-opacity="0.68" fill="none"/>
<path d="M222.7 195.1h0M212.4 214.0h0M215.2 213.8h0M208.6 204.6h0M212.8 215.6h0M214.8 197.8h0M214.0 199.2h0M220.4 196.9h0M210.0 217.9h0M220.8 206.0h0M218.9 198.5h0M212.4 211.1h0M203.3 220.9h0M209.9 213.8h0M207.0 222.3h0M211.5 216.2h0M214.3 202.5h0M214.0 196.6h0M213.0 201.1h0M219.3 204.7h0M210.5 204.8h0M210.2 211.2h0M212.4 206.4h0M214.2 216.5h0M223.8 199.8h0M208.3 217.6h0M222.4 203.0h0M215.0 209.9h0M215.9 203.5h0M211.5 197.6h0M212.8 200.5h0M205.0 219.8h0M217.6 209.7h0M211.4 213.3h0M213.3 207.1h0M207.5 208.1h0M210.1 205.1h0M210.7 212.0h0M225.0 196.4h0M222.6 195.2h0M208.8 220.7h0M215.6 203.9h0M209.8 210.7h0" stroke="#e8bcc4" stroke-width="1.15" stroke-linecap="round" stroke-opacity="0.68" fill="none"/>
<path d="M203.2 218.1h0M204.6 224.5h0M212.5 215.3h0M214.4 208.1h0M207.4 217.7h0M204.0 214.9h0M213.0 198.2h0M211.4 206.7h0M221.7 207.9h0M218.4 205.8h0M207.7 222.0h0M214.3 200.7h0M216.3 208.2h0M221.1 197.9h0M208.4 219.3h0M220.7 191.9h0M208.7 211.5h0M219.3 210.0h0M214.6 218.2h0M219.3 193.2h0M211.7 204.1h0M213.0 210.2h0M217.6 203.5h0M208.3 220.3h0M206.2 216.7h0M206.0 217.7h0M217.7 203.4h0M204.9 214.7h0M220.0 207.8h0M219.7 201.2h0M208.3 216.8h0M210.8 219.6h0M204.5 213.8h0M211.4 213.6h0M218.3 209.3h0" stroke="#a8d6ea" stroke-width="1.15" stroke-linecap="round" stroke-opacity="0.68" fill="none"/>
<path d="M207.6 212.0h0M205.5 217.4h0M221.0 200.3h0M217.3 211.7h0M214.5 207.4h0M204.5 222.4h0M220.6 208.3h0M213.1 215.9h0M207.3 207.0h0M215.4 209.9h0M223.7 204.6h0M207.5 217.4h0M219.9 199.5h0M217.8 198.7h0M215.6 216.5h0M221.1 203.5h0M209.2 208.4h0M213.3 202.8h0M207.6 209.2h0M206.3 215.5h0M217.2 197.1h0M206.5 217.8h0M210.7 216.0h0M216.2 212.2h0M211.1 211.7h0M217.0 209.7h0M202.4 216.0h0M213.9 197.9h0M209.9 208.6h0M218.1 201.3h0M214.9 205.5h0M214.0 200.1h0M209.7 221.1h0M203.6 217.4h0M220.9 209.5h0M215.8 216.5h0M223.7 196.4h0M223.6 202.1h0M218.5 198.8h0M208.2 207.9h0M215.3 201.1h0M207.4 211.3h0M222.7 204.4h0M208.4 220.1h0M220.1 196.8h0" stroke="#d8eef6" stroke-width="1.15" stroke-linecap="round" stroke-opacity="0.68" fill="none"/>
<ellipse cx="218.30" cy="224.00" rx="13.50" ry="6.30" fill="#cce6f2" fill-opacity="0.6" filter="url(#b1)"/>
<path d="M222.0 227.5h0M229.2 226.7h0M215.4 229.0h0M206.1 223.0h0M220.5 229.9h0M209.5 227.1h0M204.3 226.9h0M205.6 221.7h0M223.8 227.7h0M205.2 225.4h0M221.7 225.7h0M232.0 226.2h0M212.4 228.0h0M217.5 223.2h0M227.2 225.1h0M230.4 226.8h0M212.6 220.0h0M216.1 227.5h0M223.8 221.0h0M229.8 221.3h0M206.6 225.6h0M216.3 227.4h0M218.3 229.9h0M216.7 223.9h0M223.8 226.7h0M206.9 227.5h0M217.9 226.1h0M221.9 225.5h0M213.3 218.4h0M224.2 227.2h0M211.9 230.6h0" stroke="#b8dcee" stroke-width="1.15" stroke-linecap="round" stroke-opacity="0.68" fill="none"/>
<path d="M210.3 223.1h0M229.9 221.7h0M215.2 229.9h0M224.2 224.9h0M211.4 228.2h0M220.5 222.5h0M232.0 225.7h0M224.5 220.5h0M218.8 230.4h0M225.0 220.9h0M218.9 230.5h0M207.9 220.7h0M219.0 226.8h0M209.0 229.0h0M218.5 226.5h0M214.8 229.3h0M219.6 218.9h0M229.2 230.0h0M228.8 218.3h0M223.1 226.7h0M212.1 223.5h0M205.0 223.0h0M209.9 226.5h0M216.7 217.4h0M228.8 226.4h0M226.6 223.9h0M214.5 224.0h0M233.3 222.6h0M219.6 223.2h0M219.5 229.5h0M206.0 222.2h0M214.1 218.9h0M207.9 228.1h0M224.4 227.2h0" stroke="#cce6f2" stroke-width="1.15" stroke-linecap="round" stroke-opacity="0.68" fill="none"/>
<path d="M211.0 228.7h0M211.4 218.5h0M217.5 219.3h0M206.5 227.1h0M212.6 219.2h0M207.3 226.4h0M219.8 229.8h0M223.3 230.2h0M219.9 219.6h0M215.7 226.1h0M220.5 223.4h0M214.9 227.1h0M214.8 222.8h0M222.0 224.1h0M224.0 219.0h0M215.2 218.6h0M213.1 229.1h0M219.3 227.7h0M212.3 223.5h0M210.8 220.7h0M212.5 225.3h0M226.4 228.9h0M214.3 230.2h0M227.0 227.4h0M228.6 219.8h0M212.8 219.7h0M228.0 229.0h0M222.1 229.3h0M225.9 225.4h0M213.8 221.0h0M224.4 217.6h0M205.9 225.8h0M221.2 224.7h0M230.1 222.4h0M231.7 226.0h0M215.6 223.8h0M211.3 219.4h0M226.8 220.7h0M216.0 228.0h0M210.9 220.5h0M213.7 222.0h0M224.9 223.3h0M228.3 223.8h0M216.0 227.4h0M225.9 228.9h0M225.1 228.0h0M217.9 226.5h0M221.7 223.6h0M210.3 223.8h0M221.1 228.4h0M224.9 220.1h0M222.8 224.6h0M218.2 225.3h0M229.2 225.6h0" stroke="#a8d4ea" stroke-width="1.15" stroke-linecap="round" stroke-opacity="0.68" fill="none"/>
<path d="M222.5 225.8h0M217.6 220.1h0M217.7 223.2h0M212.9 218.7h0M212.3 230.1h0M226.1 220.0h0M222.1 218.2h0M216.5 229.7h0M218.9 226.3h0M218.9 226.1h0M216.7 227.9h0M206.5 222.5h0M229.1 225.9h0M206.9 222.2h0M219.7 221.5h0M224.7 218.4h0M205.8 227.7h0M208.8 223.6h0M227.2 228.6h0M228.6 226.8h0M220.7 228.0h0M200.7 224.7h0M223.4 219.5h0M218.0 222.2h0M232.6 223.2h0M232.9 220.4h0M226.8 227.1h0M227.5 220.2h0M216.7 224.1h0M227.5 228.2h0M225.1 226.2h0M212.9 226.2h0M206.4 225.7h0M203.6 220.3h0M215.9 225.2h0M231.7 225.4h0M224.0 225.0h0M208.3 223.7h0M227.3 224.5h0M211.1 222.4h0M213.3 224.6h0M204.7 221.5h0M211.4 220.3h0M218.6 220.0h0M217.4 222.9h0M219.9 223.8h0M211.9 229.0h0M217.0 222.2h0M217.6 229.8h0" stroke="#e0eef4" stroke-width="1.15" stroke-linecap="round" stroke-opacity="0.68" fill="none"/>
<ellipse cx="237.00" cy="197.20" rx="12.33" ry="12.06" fill="#d6a07c" fill-opacity="0.55" filter="url(#b1)"/>
<path d="M234.1 205.9h0M242.4 195.7h0M245.8 200.7h0M237.9 208.1h0M236.8 189.5h0M235.2 186.1h0M234.7 187.4h0M226.2 199.1h0M241.9 197.4h0M238.2 207.5h0M241.3 189.1h0M242.1 197.6h0M239.9 195.8h0M231.6 193.0h0M228.3 187.7h0M232.5 190.6h0M244.8 193.2h0M229.1 197.3h0M237.5 200.2h0M248.7 194.6h0M235.5 209.7h0M237.1 200.9h0M235.6 206.8h0M235.5 194.2h0M232.1 203.7h0M230.5 188.7h0M245.6 201.5h0M235.8 204.0h0M232.6 205.9h0M237.2 198.5h0M246.7 188.2h0M224.6 195.9h0M243.3 197.6h0M241.0 201.3h0M234.1 209.8h0M245.3 192.2h0M244.2 203.7h0M242.3 194.7h0M226.2 206.4h0M235.8 200.6h0M237.9 186.5h0M231.9 206.6h0M236.2 200.8h0M224.9 191.9h0M232.5 185.3h0M243.6 186.8h0M235.7 189.1h0M235.7 209.3h0M237.7 187.8h0M226.2 201.3h0M239.1 187.0h0M232.1 191.0h0M242.8 197.2h0M236.2 206.7h0M226.1 202.7h0M230.1 198.3h0M230.0 188.1h0M226.1 200.9h0M248.3 200.8h0M239.5 201.9h0M246.0 194.2h0M224.0 203.4h0M244.5 204.4h0M246.8 198.8h0M247.9 188.4h0M225.5 205.6h0M238.6 207.3h0M230.6 193.3h0" stroke="#c88a60" stroke-width="1.15" stroke-linecap="round" stroke-opacity="0.68" fill="none"/>
<path d="M238.5 191.4h0M226.4 206.1h0M241.4 197.8h0M228.0 197.9h0M237.1 204.9h0M228.8 191.6h0M242.1 205.0h0M228.2 187.4h0M229.7 188.2h0M244.1 187.9h0M225.8 190.6h0M235.9 184.6h0M235.7 191.7h0M228.4 189.7h0M237.9 203.9h0M229.0 198.2h0M228.8 193.4h0M239.4 190.2h0M242.0 187.3h0M248.6 198.8h0M235.5 208.6h0M244.7 192.1h0M243.0 195.8h0M244.2 207.7h0M241.5 188.1h0M239.1 187.0h0M240.3 190.3h0M230.0 188.4h0M243.1 191.0h0M228.7 204.4h0M246.6 194.0h0M248.8 202.8h0M235.7 209.3h0M239.7 187.1h0M236.4 193.9h0M233.7 187.3h0M245.5 205.7h0M241.7 205.5h0M239.7 200.6h0M245.7 193.7h0M232.3 185.8h0M240.7 200.9h0M239.3 191.2h0M230.6 191.4h0M227.4 201.0h0M230.5 189.2h0M236.7 209.4h0M239.6 206.7h0M235.8 196.8h0M228.5 205.0h0M234.7 193.9h0M233.2 199.8h0M244.6 184.7h0M228.9 194.0h0M229.0 206.4h0M238.1 189.2h0M234.6 197.2h0M233.1 200.0h0M229.6 204.0h0M244.0 188.8h0M228.2 199.0h0M239.1 200.4h0M233.7 184.1h0M236.8 185.7h0M238.9 190.3h0M244.2 203.5h0M241.0 209.2h0M231.2 185.1h0M233.7 197.4h0M242.9 205.2h0M243.9 198.2h0M247.5 202.8h0M245.4 201.6h0M232.3 199.1h0M237.7 202.1h0M229.7 198.9h0M238.6 208.0h0M244.1 200.7h0M234.5 186.2h0M232.4 209.5h0M228.6 194.4h0M235.1 202.5h0M231.8 185.4h0M224.1 193.1h0" stroke="#b8784e" stroke-width="1.15" stroke-linecap="round" stroke-opacity="0.68" fill="none"/>
<path d="M240.2 193.8h0M240.1 188.1h0M237.8 191.3h0M249.0 190.8h0M240.0 199.1h0M226.8 203.6h0M245.7 203.6h0M235.3 199.5h0M239.6 206.4h0M240.7 190.7h0M229.3 186.5h0M230.2 207.3h0M239.9 205.6h0M235.2 205.2h0M226.8 190.8h0M234.2 188.1h0M233.5 188.0h0M230.9 208.2h0M229.2 198.6h0M228.4 193.4h0M242.2 199.2h0M238.4 210.3h0M228.1 193.2h0M244.7 198.2h0M222.8 197.7h0M246.6 189.3h0M227.8 204.0h0M237.2 185.7h0M239.7 199.3h0M235.3 197.8h0M238.7 192.5h0M239.2 199.7h0M250.4 196.8h0M239.3 187.7h0M236.0 200.6h0M236.2 195.5h0M248.6 199.1h0M240.4 201.2h0M244.9 202.1h0M233.8 209.0h0M234.2 203.5h0M234.6 207.9h0M232.8 194.5h0M233.6 202.4h0M244.5 204.0h0M234.3 198.9h0M234.5 206.9h0M245.2 187.0h0M249.0 189.6h0M244.7 204.0h0M232.3 194.9h0M243.6 187.8h0M237.3 200.1h0M241.1 203.5h0M236.5 203.1h0M227.5 192.0h0M234.7 205.4h0M226.3 194.4h0M233.4 203.8h0M242.3 203.5h0M229.2 202.7h0M228.5 204.5h0M231.3 198.1h0M243.1 208.7h0M236.7 202.1h0M243.8 194.9h0M230.6 199.0h0M248.0 195.9h0M237.9 199.3h0M225.5 187.0h0" stroke="#d8a27e" stroke-width="1.15" stroke-linecap="round" stroke-opacity="0.68" fill="none"/>
<path d="M232.1 191.5h0M236.5 204.1h0M241.4 196.3h0M228.9 192.7h0M251.6 195.2h0M237.9 186.5h0M238.7 190.8h0M233.7 191.7h0M249.2 196.0h0M228.3 202.2h0M241.0 192.4h0M236.4 197.1h0M241.0 193.1h0M248.8 192.6h0M229.2 204.7h0M226.4 201.9h0M227.3 188.8h0M246.5 186.8h0M234.3 196.7h0M239.9 200.7h0M236.3 201.6h0M233.9 205.9h0M229.3 195.5h0M233.7 195.6h0M226.9 196.6h0M225.2 205.0h0M244.9 187.3h0M235.2 187.3h0M241.2 204.4h0M229.1 187.4h0M240.7 194.9h0M244.2 209.6h0M231.8 208.5h0M236.0 199.4h0M235.1 195.8h0M248.2 197.9h0M232.4 210.5h0M245.7 194.6h0M231.8 186.5h0M241.7 185.8h0M233.2 210.2h0M244.4 202.5h0M239.3 189.4h0M238.2 189.7h0M240.4 198.3h0M233.3 195.0h0M226.3 191.6h0M231.0 200.6h0M231.0 191.7h0M242.2 203.1h0M226.8 203.9h0M230.3 193.3h0M240.4 207.1h0M240.8 207.5h0M245.1 203.1h0M244.3 196.9h0M239.5 197.6h0M232.9 187.4h0M235.4 186.6h0M230.2 206.1h0M230.4 199.3h0M246.9 190.2h0M241.0 197.9h0M237.0 185.1h0M232.8 199.9h0M225.5 195.7h0M240.4 204.6h0M246.5 194.0h0M232.8 205.8h0M234.9 207.3h0M231.5 200.4h0M232.1 208.2h0M239.0 192.4h0M237.5 197.6h0M236.6 185.2h0M241.5 189.4h0M225.0 197.5h0M227.3 197.9h0M234.8 188.1h0M249.6 194.4h0M228.8 193.5h0M245.9 189.9h0M243.8 206.4h0M230.0 189.2h0M238.6 205.8h0M239.5 188.6h0M246.2 200.5h0M230.8 189.4h0M248.9 191.3h0M238.9 192.1h0M227.8 204.3h0" stroke="#c2825a" stroke-width="1.15" stroke-linecap="round" stroke-opacity="0.68" fill="none"/>
<path d="M228.6 201.4h0M229.7 200.0h0M241.8 185.7h0M244.9 208.2h0M231.3 196.7h0M244.5 203.2h0M236.0 206.3h0M247.2 203.1h0M231.3 187.6h0M239.4 193.2h0M237.2 206.8h0M236.0 194.3h0M227.3 203.3h0M232.7 198.0h0M240.1 205.5h0M244.1 191.7h0M245.5 203.0h0M229.5 205.4h0M231.1 207.9h0M229.5 197.4h0M241.2 192.5h0M224.9 194.7h0M243.8 200.9h0M228.7 198.9h0M233.7 197.4h0M244.7 188.5h0M230.3 201.3h0M241.9 207.3h0M237.7 197.9h0M232.9 192.2h0M242.2 200.6h0M234.5 186.4h0M233.3 202.5h0M231.8 190.3h0M228.7 198.6h0M234.7 196.6h0M240.9 195.0h0M239.8 204.1h0M240.3 208.0h0M233.1 196.0h0M244.2 198.1h0M232.6 194.2h0M231.2 198.9h0M250.2 194.7h0M233.3 207.2h0M232.2 192.4h0M236.2 196.1h0M231.9 186.5h0M233.0 194.5h0M235.6 194.4h0M230.0 199.9h0M237.7 193.2h0M231.7 200.0h0M237.9 194.7h0M242.0 195.0h0M238.0 190.6h0M235.5 207.8h0M231.6 198.9h0M236.3 186.7h0M245.4 196.4h0M229.2 202.9h0M244.6 206.2h0M236.0 188.2h0M230.0 206.8h0M239.9 193.1h0M241.0 201.9h0M237.8 194.9h0" stroke="#e6c2a8" stroke-width="1.15" stroke-linecap="round" stroke-opacity="0.68" fill="none"/>
<ellipse cx="243.30" cy="212.50" rx="6.75" ry="6.30" fill="#d6a07c" fill-opacity="0.5" filter="url(#b1)"/>
<path d="M249.6 210.0h0M242.8 209.0h0M237.3 213.2h0M241.6 210.8h0M247.7 211.6h0M241.8 216.8h0M240.8 210.5h0M238.8 210.9h0M242.8 210.9h0M249.2 209.7h0" stroke="#c88a60" stroke-width="1.15" stroke-linecap="round" stroke-opacity="0.68" fill="none"/>
<path d="M238.7 214.8h0M243.4 214.8h0M238.7 211.4h0M242.7 210.7h0M240.6 210.0h0M237.6 214.2h0M235.9 211.8h0M249.0 211.3h0M245.9 213.3h0M243.0 217.9h0M242.4 212.8h0M243.9 206.7h0M243.8 213.9h0M248.8 208.2h0M236.7 209.5h0M243.3 209.6h0M247.0 208.4h0M240.8 207.0h0M244.0 210.7h0M236.3 210.5h0M241.8 211.3h0M243.6 207.9h0" stroke="#b8784e" stroke-width="1.15" stroke-linecap="round" stroke-opacity="0.68" fill="none"/>
<path d="M239.7 214.9h0M248.3 209.7h0M244.8 210.7h0M241.7 209.8h0M239.1 210.4h0M235.9 210.1h0M243.2 216.6h0M248.6 208.2h0M243.7 205.7h0M239.3 209.3h0M239.5 214.3h0M243.3 206.0h0M239.9 212.7h0M240.6 215.0h0M242.9 209.2h0M241.8 216.3h0M244.4 207.3h0M240.5 216.0h0" stroke="#d8a27e" stroke-width="1.15" stroke-linecap="round" stroke-opacity="0.68" fill="none"/>
<path d="M237.5 209.0h0M241.1 218.9h0M248.6 216.0h0M237.8 217.3h0M242.2 216.9h0M242.8 205.1h0M240.6 208.9h0M238.3 216.2h0M246.3 214.5h0M238.6 215.0h0M248.7 206.0h0M235.9 214.5h0M239.3 217.9h0M247.1 209.2h0M243.0 212.1h0M240.0 211.3h0M247.4 215.6h0M242.5 213.9h0M241.2 206.2h0M244.6 216.4h0M245.2 207.8h0M238.0 208.7h0" stroke="#c2825a" stroke-width="1.15" stroke-linecap="round" stroke-opacity="0.68" fill="none"/>
<path d="M240.1 214.3h0M238.4 207.2h0M246.6 209.3h0M246.6 216.3h0M240.3 212.3h0M240.4 209.1h0M244.4 212.2h0M247.8 209.2h0M238.6 217.1h0M238.7 216.4h0M237.1 209.6h0M246.7 214.8h0M248.2 209.7h0M240.7 218.1h0M244.3 210.4h0M249.5 210.8h0M246.0 212.7h0M237.1 210.8h0M239.4 212.8h0M246.0 212.4h0M245.6 219.5h0M237.7 213.6h0M241.2 212.5h0M238.9 216.0h0M245.7 211.1h0M243.1 208.5h0" stroke="#e6c2a8" stroke-width="1.15" stroke-linecap="round" stroke-opacity="0.68" fill="none"/>
<ellipse cx="181.80" cy="212.50" rx="7.65" ry="6.30" fill="#ecd0ae" fill-opacity="0.55" filter="url(#b1)"/>
<path d="M184.7 208.1h0M182.9 213.4h0M180.0 216.5h0M181.6 215.2h0M183.9 215.6h0M176.1 209.0h0M188.4 212.6h0M180.9 217.5h0M183.2 215.5h0M187.2 217.6h0M176.5 208.0h0M185.1 211.0h0M188.3 211.4h0M179.4 213.8h0M182.4 212.1h0M174.2 211.8h0M180.2 207.9h0M182.2 218.4h0" stroke="#e6c49c" stroke-width="1.15" stroke-linecap="round" stroke-opacity="0.68" fill="none"/>
<path d="M180.9 209.2h0M182.3 206.8h0M182.2 210.9h0M188.0 208.8h0M181.8 211.2h0M189.6 215.3h0M179.8 209.5h0M180.2 209.0h0M186.3 208.5h0M176.6 213.2h0M175.1 211.6h0M185.4 210.4h0M178.6 208.1h0M184.4 209.4h0M189.0 212.3h0M185.4 217.9h0M181.7 210.7h0M189.3 211.5h0M184.5 209.8h0M178.0 208.0h0M177.0 216.6h0M176.9 210.4h0M185.2 215.1h0M181.3 206.2h0M185.1 214.2h0M177.6 215.6h0M183.9 213.4h0M179.8 207.5h0" stroke="#dcb890" stroke-width="1.15" stroke-linecap="round" stroke-opacity="0.68" fill="none"/>
<path d="M175.4 212.8h0M178.7 207.3h0M187.9 210.9h0M175.1 209.2h0M183.0 216.2h0M182.7 213.2h0M185.6 208.6h0M184.5 211.8h0M187.1 214.4h0M180.8 209.3h0M184.5 209.7h0M180.6 209.5h0M183.1 209.3h0M180.2 209.9h0M184.7 210.6h0M179.5 210.6h0M186.2 211.8h0M188.0 216.4h0M173.0 209.9h0M185.8 216.2h0M180.2 214.1h0M178.4 212.5h0M182.4 206.5h0M186.6 209.4h0M183.1 219.0h0M189.3 215.3h0M178.5 208.2h0M184.0 210.2h0M189.5 213.1h0" stroke="#eed4b4" stroke-width="1.15" stroke-linecap="round" stroke-opacity="0.68" fill="none"/>
<path d="M185.7 215.8h0M179.2 219.4h0M177.6 206.1h0M186.3 211.1h0M181.5 210.1h0M188.9 216.0h0M183.3 208.6h0M176.6 207.6h0M178.4 211.1h0M180.0 212.6h0M189.6 212.0h0M186.0 214.7h0M181.8 214.9h0M185.1 213.1h0M177.0 209.0h0M174.2 215.8h0M183.1 209.6h0M183.4 212.1h0M185.5 218.9h0M189.5 212.2h0M180.0 210.7h0M179.4 214.9h0M180.5 213.8h0M176.4 215.1h0M178.4 211.0h0" stroke="#e4c4a4" stroke-width="1.15" stroke-linecap="round" stroke-opacity="0.68" fill="none"/>
<ellipse cx="183.80" cy="231.30" rx="11.00" ry="11.87" fill="#e6b880" fill-opacity="0.6" filter="url(#b1)"/>
<path d="M186.9 236.8h0M182.8 228.1h0M189.9 233.3h0M182.6 220.6h0M194.4 237.5h0M178.2 237.4h0M182.7 232.3h0M192.3 221.9h0M184.9 240.5h0M172.9 228.8h0M189.6 239.6h0M187.5 232.8h0M192.8 228.4h0M179.3 221.3h0M189.1 239.0h0M193.0 231.7h0M177.4 235.9h0M179.1 236.3h0M193.5 233.3h0M189.2 232.4h0M185.1 222.8h0M191.3 228.2h0M193.6 228.4h0M182.2 232.2h0M186.2 232.8h0M192.7 235.8h0M191.3 230.3h0M185.2 223.0h0M195.1 226.5h0M175.4 233.7h0M178.5 224.0h0M178.0 227.9h0M184.9 228.0h0M182.2 220.6h0M177.3 221.5h0M179.2 229.5h0M181.8 226.6h0M184.7 227.0h0M186.4 227.9h0M186.4 223.0h0M192.9 235.6h0M185.0 227.6h0M182.7 224.4h0M190.5 227.9h0M180.5 230.8h0M186.8 234.6h0M182.4 242.1h0M175.3 224.3h0M179.8 220.0h0M179.4 236.9h0M173.0 227.7h0M180.7 228.1h0M180.8 226.2h0M189.9 232.0h0M171.6 232.3h0M185.2 225.7h0M189.7 234.5h0M188.3 244.8h0M182.6 222.6h0M185.3 221.7h0M182.9 232.3h0M180.5 237.5h0M174.6 230.1h0M188.8 222.0h0M189.1 232.4h0M180.0 217.7h0M195.4 231.4h0M186.4 236.5h0M189.6 234.2h0M187.9 243.7h0M184.5 225.2h0M183.5 217.5h0M182.7 230.1h0M187.2 229.2h0M184.2 241.7h0M174.9 229.7h0M190.8 233.3h0M179.4 224.0h0" stroke="#dca262" stroke-width="1.15" stroke-linecap="round" stroke-opacity="0.68" fill="none"/>
<path d="M175.6 241.4h0M188.4 227.9h0M181.6 220.8h0M175.3 232.9h0M181.6 244.2h0M185.6 224.2h0M183.8 239.0h0M192.8 232.5h0M183.1 232.7h0M195.5 229.5h0M174.8 238.0h0M173.7 226.7h0M186.7 238.5h0M183.2 243.2h0M173.8 227.9h0M182.6 221.3h0M174.3 231.9h0M187.6 234.6h0M195.4 229.9h0M184.4 219.7h0M184.4 224.7h0M175.6 224.2h0M185.9 237.5h0M192.6 223.3h0M177.0 237.1h0M186.9 241.5h0M192.5 236.6h0M177.0 237.3h0M176.9 232.0h0M180.2 228.2h0M189.0 240.3h0M193.6 227.2h0M177.6 235.6h0M180.0 237.7h0M187.8 219.6h0M181.2 226.2h0M175.3 235.7h0M177.8 235.9h0M177.0 220.6h0M176.7 228.9h0M186.5 225.7h0M180.8 224.7h0M191.9 238.0h0M178.6 223.0h0M179.2 240.2h0M180.4 238.1h0M191.3 236.5h0M190.4 225.1h0M180.1 236.3h0M186.1 243.2h0M174.6 235.4h0M191.4 238.8h0M175.2 226.6h0M197.8 229.4h0M176.7 234.5h0M186.5 233.3h0M185.4 244.5h0M175.3 230.5h0M176.8 232.7h0M189.5 232.5h0M196.3 233.5h0M174.1 239.0h0M172.9 240.0h0M178.8 229.4h0M185.9 243.8h0M186.4 222.1h0M182.5 239.7h0M189.0 241.9h0M175.5 233.8h0M193.6 223.6h0M185.3 236.8h0M193.7 238.2h0M174.4 231.5h0M180.7 222.6h0M186.5 240.4h0M181.2 221.6h0M190.9 222.1h0M173.3 229.4h0M178.6 233.2h0" stroke="#cc8e4a" stroke-width="1.15" stroke-linecap="round" stroke-opacity="0.68" fill="none"/>
<path d="M185.7 224.0h0M186.2 225.2h0M179.9 235.0h0M196.2 232.8h0M183.5 227.7h0M186.8 230.8h0M175.1 234.4h0M173.4 236.5h0M189.8 226.0h0M178.1 239.0h0M183.6 232.4h0M180.5 218.7h0M187.5 230.5h0M186.1 235.5h0M178.1 223.1h0M181.3 222.0h0M185.4 233.4h0M178.9 226.1h0M186.0 230.3h0M177.8 233.2h0M193.7 234.0h0M189.5 220.1h0M193.7 233.0h0M184.0 230.0h0M190.2 224.0h0M182.9 238.7h0M190.7 221.7h0M191.1 239.6h0M177.2 236.9h0M189.8 236.8h0M174.9 225.9h0M194.2 231.3h0M194.6 231.2h0M179.4 230.4h0M182.3 236.9h0M193.6 231.2h0M186.5 230.1h0M191.2 231.9h0M192.7 240.0h0M190.0 240.1h0M185.3 238.0h0M176.6 222.9h0M182.6 231.4h0M183.3 244.2h0M181.6 226.1h0M186.0 230.2h0M195.1 225.3h0M186.0 222.5h0M179.8 229.8h0M176.3 225.6h0M179.8 238.4h0M194.1 233.1h0M186.8 237.5h0M183.4 240.0h0M176.7 231.6h0M174.3 222.0h0M171.6 227.7h0M190.9 232.2h0M193.6 234.3h0M182.5 222.3h0M178.7 237.3h0M190.3 222.4h0M189.8 225.7h0M184.9 224.3h0M176.5 238.0h0M179.0 234.5h0M183.4 229.0h0M179.4 239.2h0M177.5 224.8h0M187.4 227.0h0M180.5 239.5h0M184.5 235.1h0" stroke="#e8ba84" stroke-width="1.15" stroke-linecap="round" stroke-opacity="0.68" fill="none"/>
<path d="M181.4 235.4h0M190.8 224.0h0M185.5 224.0h0M187.1 234.9h0M185.7 236.8h0M191.4 232.7h0M186.0 235.9h0M177.0 233.9h0M176.9 225.5h0M189.5 218.1h0M184.6 243.0h0M192.1 231.1h0M186.6 223.4h0M186.5 236.0h0M173.5 239.0h0M190.8 231.8h0M189.5 225.2h0M187.0 235.3h0M188.8 231.6h0M181.7 242.5h0M176.2 231.7h0M185.1 223.8h0M173.9 232.2h0M179.9 236.4h0M177.7 232.8h0M185.3 237.0h0M187.6 240.3h0M173.8 226.5h0M180.3 222.6h0M185.6 235.4h0M192.6 236.3h0M177.6 225.3h0M194.9 236.3h0M186.1 223.7h0M187.9 237.7h0M180.0 228.0h0M193.7 224.7h0M183.1 241.9h0M177.8 227.4h0M183.3 230.1h0M186.6 229.0h0M190.4 232.6h0M186.2 240.8h0M174.4 230.4h0M177.5 234.3h0M183.7 224.4h0M175.0 228.2h0M188.6 242.6h0M185.1 240.8h0M179.9 233.3h0M192.4 228.1h0M173.5 233.3h0M185.6 222.7h0M180.5 228.0h0M178.0 229.0h0M195.1 228.5h0M179.3 221.8h0M194.2 227.2h0" stroke="#d89a5a" stroke-width="1.15" stroke-linecap="round" stroke-opacity="0.68" fill="none"/>
<path d="M190.7 228.4h0M187.3 234.7h0M176.8 237.1h0M184.8 217.8h0M184.7 231.9h0M185.3 229.7h0M184.1 235.1h0M175.2 239.8h0M189.0 238.7h0M173.7 236.3h0M190.0 224.7h0M180.3 228.8h0M188.9 242.6h0M176.6 228.1h0M182.7 238.0h0M174.6 234.6h0M172.1 232.5h0M177.8 232.8h0M186.2 242.3h0M181.4 237.3h0M194.1 229.1h0M180.4 241.9h0M183.9 236.3h0M177.4 240.6h0M184.2 219.9h0M172.9 232.4h0M183.4 232.2h0M181.0 217.9h0M179.2 226.8h0M186.1 234.1h0M189.0 235.8h0M181.3 233.9h0M181.3 236.7h0M184.8 226.9h0M186.0 223.6h0M182.1 230.1h0M184.3 244.1h0M181.8 222.1h0M177.2 224.9h0M175.8 231.6h0M188.6 230.5h0M183.1 218.7h0M189.4 232.7h0M191.0 223.2h0M181.0 233.3h0M189.6 242.0h0M189.0 230.7h0M192.1 229.6h0M187.6 234.9h0M185.2 240.9h0M175.0 234.0h0M177.0 226.8h0M190.4 229.5h0M191.6 222.9h0M183.2 235.7h0M192.6 224.8h0M186.9 235.4h0M195.5 226.6h0M186.3 225.2h0M187.5 236.3h0M196.7 230.4h0M185.9 216.6h0" stroke="#f2d4ae" stroke-width="1.15" stroke-linecap="round" stroke-opacity="0.68" fill="none"/>
<ellipse cx="169.00" cy="222.60" rx="4.68" ry="6.48" fill="#b8dca8" fill-opacity="0.55" filter="url(#b1)"/>
<path d="M168.7 219.4h0M168.1 223.1h0M171.6 219.9h0M171.4 219.2h0M171.9 220.4h0M168.2 216.4h0M174.0 218.4h0M171.4 219.6h0M171.9 218.9h0M171.2 228.6h0M167.8 227.1h0M170.9 218.9h0M171.0 217.1h0M170.0 229.4h0" stroke="#9ccb8c" stroke-width="1.15" stroke-linecap="round" stroke-opacity="0.68" fill="none"/>
<path d="M164.8 219.8h0M166.7 226.1h0M166.3 228.9h0M168.3 220.6h0M170.9 226.8h0M166.7 226.2h0M168.9 223.3h0M166.6 217.4h0M168.5 228.4h0M167.8 220.9h0M169.0 216.8h0M171.3 225.6h0M169.9 217.8h0M165.4 222.9h0M168.5 228.8h0M166.4 216.9h0M170.9 229.0h0M168.4 225.2h0M172.8 218.5h0M165.1 222.0h0M174.1 224.7h0" stroke="#b4d8a4" stroke-width="1.15" stroke-linecap="round" stroke-opacity="0.68" fill="none"/>
<path d="M172.3 220.7h0M167.0 227.5h0M169.7 220.4h0M171.0 225.6h0M166.3 217.3h0M166.3 223.9h0M171.2 217.8h0M170.1 215.8h0M171.8 221.2h0M167.5 216.1h0M164.8 223.7h0M170.4 225.4h0M167.2 221.4h0M165.2 222.5h0M169.2 215.9h0M168.5 225.2h0M170.9 218.9h0" stroke="#88c078" stroke-width="1.15" stroke-linecap="round" stroke-opacity="0.68" fill="none"/>
<path d="M169.0 219.8h0M171.3 217.9h0M167.0 228.8h0M167.1 225.1h0M171.0 228.9h0M164.9 219.9h0M165.4 220.6h0M172.7 217.7h0M166.6 229.7h0M165.1 222.7h0M167.6 220.8h0M169.9 216.3h0M164.9 217.9h0M167.9 218.5h0M167.8 219.7h0M167.3 230.5h0M166.2 223.3h0M168.5 219.0h0" stroke="#c4e0b8" stroke-width="1.15" stroke-linecap="round" stroke-opacity="0.68" fill="none"/>
<path d="M204.1 236.6h0M205.5 236.5h0M205.6 238.7h0M201.9 238.0h0M202.7 239.3h0M205.6 236.4h0M205.8 238.8h0M205.9 238.4h0M201.7 237.5h0M202.4 239.7h0" stroke="#e0c0a0" stroke-width="1.15" stroke-linecap="round" stroke-opacity="0.68" fill="none"/>
<path d="M204.2 236.5h0M204.1 236.8h0M202.3 236.2h0M204.5 236.7h0M203.8 239.1h0M204.8 235.2h0" stroke="#e8ccb0" stroke-width="1.15" stroke-linecap="round" stroke-opacity="0.68" fill="none"/>
<ellipse cx="175.20" cy="180.2" rx="11.5" ry="16.1" transform="rotate(12 175.20 180.2)" fill="none" stroke="#262626" stroke-width="1.2" stroke-linecap="round" stroke-dasharray="0 2.3"/>
<ellipse cx="190.50" cy="184.6" rx="7.8" ry="8.4" fill="none" stroke="#262626" stroke-width="1.2" stroke-linecap="round" stroke-dasharray="0 2.3"/>
<ellipse cx="183.80" cy="231.3" rx="12.6" ry="13.6" fill="none" stroke="#262626" stroke-width="1.2" stroke-linecap="round" stroke-dasharray="0 2.3"/>
<line x1="154.80" y1="160.50" x2="154.80" y2="250.00" stroke="#231f20" stroke-width="1.25"/>
<line x1="154.80" y1="250.00" x2="256.80" y2="250.00" stroke="#231f20" stroke-width="1.25"/>
<text x="177.10" y="162.60" font-size="6.3" stroke="#231f20" stroke-width="0.15" textLength="27.00" lengthAdjust="spacingAndGlyphs">GMP-neu</text>
<text x="198.00" y="180.20" font-size="6.3" stroke="#231f20" stroke-width="0.15" textLength="32.30" lengthAdjust="spacingAndGlyphs">GMP-mono</text>
<text x="235.30" y="230.60" font-size="6.4" stroke="#231f20" stroke-width="0.15" textLength="26.00" lengthAdjust="spacingAndGlyphs">Erythroid</text>
<text x="151.70" y="261.40" font-size="6.6" stroke="#231f20" stroke-width="0.15" textLength="27.60" lengthAdjust="spacingAndGlyphs">HSC/MPP</text>
<line x1="169.00" y1="253.60" x2="175.80" y2="242.50" stroke="#231f20" stroke-width="0.8"/>
<text x="208.10" y="260.80" font-size="8.4" stroke="#231f20" stroke-width="0.15" text-anchor="middle" textLength="21.60" lengthAdjust="spacingAndGlyphs">UMAP1</text>
<ellipse cx="327.30" cy="207.00" rx="42" ry="27" fill="#eef1f4" fill-opacity="0.8" filter="url(#b3)"/>
<ellipse cx="295.80" cy="199.50" rx="12" ry="8" fill="#dde3ee" fill-opacity="0.8" filter="url(#b1)"/>
<ellipse cx="337.00" cy="191.70" rx="9" ry="9" fill="#eaeaef" fill-opacity="0.9" filter="url(#b1)"/>
<ellipse cx="319.30" cy="214.00" rx="9" ry="8" fill="#efe6dc" fill-opacity="0.8" filter="url(#b1)"/>
<ellipse cx="295.80" cy="199.50" rx="10.35" ry="6.75" fill="#d8dfec" fill-opacity="0.5" filter="url(#b1)"/>
<path d="M295.1 206.0h0M301.0 201.3h0M305.5 199.6h0M288.7 201.4h0M299.3 199.2h0M295.5 197.0h0M301.7 203.0h0M284.7 197.3h0M306.5 201.8h0M291.1 194.7h0M286.2 200.4h0M295.6 193.3h0M289.6 197.9h0M305.3 196.5h0M304.3 195.9h0M293.0 203.4h0M306.5 201.2h0M290.5 199.3h0M299.7 198.0h0M296.2 196.3h0M290.3 198.7h0M282.8 201.4h0M296.0 192.5h0M291.0 197.8h0M285.0 198.4h0M288.3 200.6h0M298.8 203.5h0M287.4 198.3h0M302.1 198.2h0M289.4 197.1h0" stroke="#c9d3e4" stroke-width="1.15" stroke-linecap="round" stroke-opacity="0.68" fill="none"/>
<path d="M301.0 195.6h0M302.6 193.8h0M296.7 198.1h0M298.8 198.8h0M305.3 198.9h0M299.1 194.4h0M295.9 202.6h0M297.2 194.0h0M304.3 198.3h0M289.3 198.0h0M301.5 201.4h0M295.0 194.9h0M293.3 201.2h0M302.4 198.5h0M298.2 193.5h0M290.6 201.2h0M286.7 201.0h0M305.7 203.1h0M289.5 204.9h0M290.6 202.0h0M289.5 200.0h0M291.2 201.7h0M289.7 194.2h0M293.5 206.5h0M294.2 195.5h0M291.4 205.7h0M290.0 204.2h0M294.0 198.2h0M292.6 198.3h0" stroke="#d6dce8" stroke-width="1.15" stroke-linecap="round" stroke-opacity="0.68" fill="none"/>
<path d="M298.9 194.6h0M297.5 197.0h0M305.3 205.1h0M290.7 199.5h0M292.6 198.0h0M297.2 204.8h0M294.1 201.8h0M295.4 193.1h0M303.5 194.5h0M302.9 201.2h0M290.5 203.7h0M297.2 197.8h0M293.4 204.8h0M289.8 203.4h0M304.2 198.1h0M293.2 193.3h0M289.0 206.6h0M289.1 201.3h0" stroke="#b9c6de" stroke-width="1.15" stroke-linecap="round" stroke-opacity="0.68" fill="none"/>
<path d="M293.0 197.9h0M299.6 200.9h0M306.2 200.8h0M295.1 199.4h0M294.2 193.5h0M304.7 198.0h0M289.2 200.7h0M287.0 197.6h0M305.7 197.2h0M290.3 198.8h0M298.4 202.2h0M288.3 201.5h0M287.4 203.5h0M288.9 196.2h0M300.1 206.2h0M301.2 205.2h0M301.2 192.8h0M293.4 199.0h0M301.7 199.2h0M288.4 199.3h0M294.8 194.5h0M289.0 200.8h0M299.0 204.0h0M297.5 194.8h0M301.8 199.1h0M297.1 193.0h0M291.2 199.9h0M302.8 195.9h0M295.6 201.8h0" stroke="#e4e8f0" stroke-width="1.15" stroke-linecap="round" stroke-opacity="0.68" fill="none"/>
<path d="M303.2 196.5h0M294.4 203.5h0M294.3 200.1h0M288.7 199.0h0M293.6 199.2h0M304.5 199.2h0M295.3 194.3h0M303.5 204.5h0M291.7 197.5h0M302.3 197.5h0M295.8 199.7h0M291.6 195.5h0M305.3 199.6h0M287.5 202.5h0M294.2 197.7h0M293.4 203.9h0M297.9 196.0h0M290.0 203.3h0M296.5 197.3h0M295.1 193.8h0M292.8 195.0h0M299.9 195.2h0M292.1 201.4h0M295.1 200.5h0" stroke="#e8e0e4" stroke-width="1.15" stroke-linecap="round" stroke-opacity="0.68" fill="none"/>
<ellipse cx="340.30" cy="212.00" rx="13.50" ry="14.40" fill="#d8edf5" fill-opacity="0.55" filter="url(#b1)"/>
<path d="M337.3 196.2h0M351.4 222.1h0M347.8 223.8h0M338.4 223.1h0M341.5 219.0h0M340.8 195.7h0M329.2 207.6h0M348.9 211.9h0M327.7 215.3h0M346.0 218.4h0M352.7 220.4h0M350.4 205.0h0M337.2 216.3h0M343.5 227.7h0M339.6 221.7h0M335.8 204.2h0M344.2 206.6h0M348.6 222.7h0M345.1 199.6h0M338.2 210.8h0M344.6 208.2h0M339.7 211.3h0M345.0 202.0h0M334.0 224.1h0M343.5 216.9h0M330.3 201.8h0M342.6 220.7h0M342.3 226.7h0M330.8 220.2h0M341.4 214.2h0M333.0 200.8h0M333.1 223.9h0M351.5 202.4h0M336.1 211.1h0M339.3 207.3h0M347.6 202.3h0M328.6 212.1h0" stroke="#c4e2f0" stroke-width="1.15" stroke-linecap="round" stroke-opacity="0.68" fill="none"/>
<path d="M333.0 215.4h0M331.6 207.1h0M332.4 225.0h0M334.0 205.2h0M349.6 199.4h0M336.3 221.2h0M332.1 210.2h0M336.9 202.6h0M341.6 199.0h0M345.3 205.7h0M350.7 213.3h0M333.0 222.0h0M340.6 203.3h0M329.8 208.8h0M335.1 205.4h0M335.4 206.9h0M348.3 220.0h0M335.4 212.2h0M347.6 215.7h0M346.3 214.4h0M344.7 206.0h0M347.6 222.2h0M346.8 216.4h0M343.2 196.5h0M341.9 221.0h0M335.7 218.4h0M346.9 220.6h0M336.4 204.2h0M334.6 207.1h0M328.4 215.9h0M338.1 198.5h0M338.7 222.2h0M347.5 221.7h0M356.7 217.0h0M349.2 218.9h0M353.7 213.8h0M329.9 200.0h0M327.8 208.0h0M336.1 212.3h0" stroke="#d4ecf6" stroke-width="1.15" stroke-linecap="round" stroke-opacity="0.68" fill="none"/>
<path d="M339.5 211.5h0M334.4 210.2h0M337.6 224.5h0M345.6 203.9h0M343.5 214.5h0M340.1 213.5h0M332.9 218.1h0M332.0 203.6h0M347.1 199.2h0M329.9 207.7h0M333.3 205.2h0M340.3 213.0h0M336.8 220.6h0M355.5 214.9h0M333.3 215.9h0M346.9 221.8h0M334.6 222.6h0M346.6 205.4h0M333.9 223.6h0M340.1 213.1h0M337.4 204.1h0M342.2 208.6h0M338.3 219.4h0M352.9 216.7h0M343.5 200.8h0M340.9 210.8h0M334.3 203.5h0M341.4 210.4h0M345.4 206.0h0M340.5 202.3h0M342.1 203.0h0M331.5 217.3h0M326.9 214.1h0M331.4 206.5h0M333.6 197.1h0" stroke="#b4dcec" stroke-width="1.15" stroke-linecap="round" stroke-opacity="0.68" fill="none"/>
<path d="M332.5 200.6h0M331.9 208.0h0M327.5 210.6h0M351.7 214.2h0M327.0 219.3h0M329.4 219.5h0M347.7 218.6h0M335.5 224.6h0M338.9 198.8h0M339.5 216.4h0M331.1 207.9h0M348.5 205.8h0M344.9 223.2h0M336.5 210.0h0M338.5 198.7h0M354.4 206.5h0M341.9 201.0h0M334.5 205.8h0M339.4 201.5h0M334.3 210.6h0M348.3 199.0h0M344.1 224.5h0M333.4 227.3h0M350.3 216.6h0M333.3 204.1h0M349.8 213.9h0M352.6 218.6h0M345.5 223.0h0M335.1 206.9h0M328.9 214.0h0M344.5 198.8h0M333.8 222.2h0M335.2 219.3h0M337.2 201.5h0M342.8 212.6h0M343.8 198.9h0M343.2 213.3h0M341.1 199.7h0M331.1 201.0h0M340.3 214.9h0M340.2 208.2h0M342.3 201.6h0M345.5 207.3h0M340.2 219.9h0M333.2 217.1h0M345.5 206.3h0M329.3 208.2h0" stroke="#e4d8dc" stroke-width="1.15" stroke-linecap="round" stroke-opacity="0.68" fill="none"/>
<ellipse cx="299.05" cy="180.20" rx="9.62" ry="13.59" fill="#b0c2e6" fill-opacity="0.45" filter="url(#b1)" transform="rotate(12 299.05 180.20)"/>
<path d="M297.4 167.9h0M298.0 181.5h0M300.5 182.3h0M301.1 182.5h0M296.5 178.6h0M301.7 188.8h0M296.9 179.5h0M303.1 166.4h0M301.2 169.9h0M308.0 181.5h0M306.5 184.8h0M299.7 174.4h0M295.3 169.2h0M307.3 176.4h0M311.6 180.6h0M300.0 182.3h0M310.5 175.2h0M302.5 177.8h0M295.4 166.2h0M305.7 186.9h0M303.6 171.0h0M300.1 167.5h0M296.5 179.4h0M297.2 174.4h0M299.5 168.5h0M306.8 186.7h0M304.4 173.2h0M292.1 191.7h0M304.0 181.0h0M292.6 173.5h0M297.7 190.0h0M301.5 168.2h0M304.5 171.0h0M311.5 173.6h0M308.9 169.9h0M294.8 193.7h0M291.4 182.4h0M298.8 179.8h0M297.0 184.6h0M300.0 191.3h0M301.1 185.0h0M299.0 195.2h0M291.9 190.8h0" stroke="#c8d4ec" stroke-width="1.15" stroke-linecap="round" stroke-opacity="0.68" fill="none"/>
<path d="M300.2 182.2h0M306.0 182.8h0M296.5 167.1h0M291.3 189.2h0M297.2 175.0h0M301.1 175.9h0M304.7 172.5h0M292.4 186.1h0M298.0 176.4h0M306.5 183.3h0M297.0 180.2h0M302.4 184.0h0M302.8 187.2h0M309.7 172.1h0M292.0 188.1h0M291.9 182.6h0M296.0 179.8h0M298.5 178.0h0M291.8 173.6h0M302.2 180.1h0M299.7 177.6h0M303.8 170.7h0M303.7 173.3h0M291.6 172.7h0M298.2 181.5h0M301.5 172.8h0M304.8 171.7h0M294.8 175.9h0M300.0 174.6h0M303.2 189.4h0M309.0 175.7h0M301.0 177.3h0M291.7 189.6h0M303.2 169.8h0" stroke="#dce4f2" stroke-width="1.15" stroke-linecap="round" stroke-opacity="0.68" fill="none"/>
<path d="M307.5 180.5h0M300.1 176.7h0M297.8 192.0h0M303.4 190.4h0M294.1 189.4h0M295.5 183.5h0M295.0 185.4h0M302.4 171.3h0M291.0 175.2h0M307.8 174.7h0M298.8 193.2h0M299.8 166.9h0M295.9 186.1h0M304.9 181.1h0M291.5 180.9h0M295.1 180.1h0M290.6 177.3h0M302.5 166.8h0M302.3 171.7h0M297.8 192.2h0M299.2 170.2h0M290.1 181.8h0M293.3 169.7h0M307.3 178.2h0M295.5 192.6h0M298.6 187.7h0M291.9 176.8h0M303.3 168.1h0M296.4 191.3h0M299.1 186.3h0M295.8 175.5h0M302.6 169.9h0M307.7 177.9h0M298.3 170.4h0M309.8 175.8h0M299.5 174.8h0M307.1 170.6h0M301.4 166.3h0M289.7 176.3h0M297.8 169.2h0M292.3 173.4h0M291.2 190.9h0M291.9 173.5h0M291.0 183.0h0M292.7 169.6h0M305.8 174.9h0" stroke="#e6dce6" stroke-width="1.15" stroke-linecap="round" stroke-opacity="0.68" fill="none"/>
<path d="M306.9 177.2h0M297.4 172.2h0M294.0 181.6h0M300.9 179.4h0M301.9 173.6h0M304.2 182.9h0M306.1 186.5h0M291.9 178.2h0M302.1 166.3h0M299.7 182.7h0M304.5 173.3h0M301.6 186.0h0M302.4 188.8h0M305.7 180.6h0M305.4 167.9h0M293.9 193.0h0M307.4 181.4h0M297.0 167.1h0M293.2 174.9h0M298.4 176.8h0M296.9 184.3h0M295.4 182.4h0M299.9 172.2h0M297.5 166.8h0M305.4 183.9h0M308.4 185.8h0M295.1 176.8h0M292.5 179.3h0M303.7 189.4h0M292.2 187.6h0M299.0 176.1h0" stroke="#d0dcf0" stroke-width="1.15" stroke-linecap="round" stroke-opacity="0.68" fill="none"/>
<path d="M296.7 190.3h0M300.1 169.1h0M293.6 182.2h0M305.6 190.6h0M300.5 181.9h0M304.1 182.1h0M298.4 188.0h0M297.4 179.0h0M300.0 176.4h0M307.2 175.9h0M303.9 173.0h0M297.8 172.4h0M291.1 187.0h0M298.7 170.5h0M293.8 182.4h0M296.5 173.4h0M291.7 171.0h0M288.8 182.6h0M300.9 187.1h0M299.5 182.2h0M289.5 181.4h0M294.3 176.5h0M297.6 184.8h0" stroke="#90aadc" stroke-width="1.15" stroke-linecap="round" stroke-opacity="0.68" fill="none"/>
<path d="M292.5 190.1h0M302.2 182.9h0M289.3 188.0h0M304.3 177.3h0M308.0 170.6h0M297.7 189.6h0M293.9 187.2h0M296.5 175.6h0M291.9 185.0h0M305.6 188.7h0M307.2 171.9h0M300.4 177.2h0M308.1 181.9h0M300.0 178.0h0M299.0 170.3h0M297.9 174.8h0M294.0 186.3h0M306.4 180.3h0M295.7 168.5h0M304.0 177.1h0M289.9 177.6h0M295.2 183.6h0M300.7 174.5h0M298.1 183.8h0M297.1 193.5h0M289.1 174.3h0M289.5 172.3h0M291.3 188.9h0M288.3 184.1h0M295.1 180.2h0M304.6 175.1h0M300.2 193.4h0M295.9 182.6h0M292.6 187.2h0M294.8 165.4h0M292.1 175.9h0" stroke="#6e8ecc" stroke-width="1.15" stroke-linecap="round" stroke-opacity="0.68" fill="none"/>
<ellipse cx="295.05" cy="183.20" rx="5.57" ry="11.45" fill="#b0c2e6" fill-opacity="0.45" filter="url(#b1)" transform="rotate(12 295.05 183.20)"/>
<path d="M301.5 180.4h0M300.5 179.8h0M292.1 178.9h0M299.1 172.7h0M297.0 177.9h0M297.9 188.6h0M292.9 173.8h0M296.8 191.3h0M290.6 178.4h0M298.6 176.9h0M293.7 192.2h0M290.1 183.0h0M294.1 175.7h0M290.3 179.0h0M292.1 185.9h0M293.8 176.2h0M291.3 178.9h0M295.5 192.2h0M297.8 182.0h0M293.7 183.2h0M295.0 177.0h0M291.3 184.8h0M298.7 178.0h0M296.7 180.9h0M295.9 180.7h0M292.8 178.0h0M294.6 188.5h0M294.0 173.6h0" stroke="#90aadc" stroke-width="1.15" stroke-linecap="round" stroke-opacity="0.68" fill="none"/>
<path d="M292.3 174.8h0M290.8 182.5h0M295.6 175.2h0M291.8 187.3h0M294.3 191.2h0M288.6 190.9h0M299.9 180.0h0M301.1 177.6h0M298.5 175.7h0M297.6 178.3h0M290.6 181.9h0M295.4 191.1h0M299.1 177.6h0M293.6 173.1h0M290.3 195.3h0M295.5 189.2h0M296.3 172.8h0M300.4 181.8h0M297.3 171.3h0M288.7 184.4h0M293.1 193.5h0M300.3 176.8h0M296.7 172.6h0M294.5 193.1h0M293.2 194.4h0M288.6 186.7h0" stroke="#6e8ecc" stroke-width="1.15" stroke-linecap="round" stroke-opacity="0.68" fill="none"/>
<path d="M293.5 175.8h0M295.8 178.8h0M296.5 183.3h0M300.3 175.0h0M300.4 185.1h0M295.8 182.4h0M289.3 188.1h0M297.9 185.4h0M293.1 191.1h0M296.8 183.0h0M292.9 188.8h0M295.4 172.8h0M297.7 184.9h0M293.2 181.4h0M297.3 192.3h0M291.0 182.4h0M289.1 184.2h0M301.5 182.6h0M300.9 174.9h0M294.7 171.2h0M295.6 172.8h0M295.6 194.0h0M298.7 189.5h0M294.0 179.0h0M293.0 184.2h0" stroke="#b0c2e6" stroke-width="1.15" stroke-linecap="round" stroke-opacity="0.68" fill="none"/>
<path d="M296.1 172.0h0M291.1 184.5h0M293.1 174.1h0M297.8 184.7h0M295.4 188.0h0M291.3 180.7h0M293.6 190.0h0M294.8 180.1h0M295.7 192.0h0M297.6 170.2h0M300.5 184.5h0M300.9 175.6h0M298.3 188.3h0M288.2 188.1h0M294.7 193.0h0M300.7 173.5h0M293.7 177.3h0M291.6 187.1h0M292.5 177.7h0M291.5 190.9h0M295.2 183.5h0M300.5 180.1h0M295.2 191.7h0M291.4 185.6h0M295.8 188.4h0M300.7 182.8h0M295.5 188.3h0M300.1 174.2h0M296.1 184.6h0M295.0 174.1h0M295.5 195.4h0M293.3 188.6h0M300.4 179.7h0" stroke="#cdd8ee" stroke-width="1.15" stroke-linecap="round" stroke-opacity="0.68" fill="none"/>
<path d="M300.0 177.5h0M294.2 172.1h0M291.6 186.9h0M297.9 182.7h0M296.5 189.3h0M294.5 175.2h0M292.2 177.1h0M293.8 174.9h0M296.0 170.5h0M293.2 190.8h0M295.5 179.3h0M293.1 195.0h0M291.5 190.2h0M289.0 189.8h0M288.8 187.4h0M297.5 176.8h0M290.6 195.7h0M297.7 176.4h0M295.0 187.5h0" stroke="#5f80c6" stroke-width="1.15" stroke-linecap="round" stroke-opacity="0.68" fill="none"/>
<path d="M296.7 187.4h0M290.9 190.8h0M294.2 183.7h0M290.6 190.2h0M294.5 185.9h0M300.0 175.0h0M295.5 177.2h0M293.6 182.7h0M298.0 174.9h0M292.2 194.6h0M298.2 180.1h0M292.1 184.7h0M298.6 179.7h0M289.6 190.5h0M298.6 189.2h0M288.5 191.4h0M295.6 172.5h0M294.4 180.9h0M294.7 192.5h0M296.6 179.6h0M297.5 185.1h0M298.6 184.6h0M298.6 190.9h0M289.9 183.8h0M289.6 182.9h0M301.3 174.3h0M299.9 179.4h0M296.7 174.9h0M296.6 190.1h0M290.3 183.4h0M298.1 183.2h0M293.4 186.7h0" stroke="#ead8e0" stroke-width="1.15" stroke-linecap="round" stroke-opacity="0.68" fill="none"/>
<ellipse cx="323.30" cy="224.00" rx="6.30" ry="9.00" fill="#ece6e2" fill-opacity="0.5" filter="url(#b1)"/>
<path d="M319.9 219.0h0M326.2 224.1h0M320.9 230.7h0M322.6 223.4h0M317.8 229.2h0M321.6 220.3h0M320.2 218.6h0M319.9 230.3h0M316.4 219.6h0M328.4 225.0h0M318.8 224.2h0M321.0 220.0h0M319.0 216.8h0" stroke="#e6dcd4" stroke-width="1.15" stroke-linecap="round" stroke-opacity="0.68" fill="none"/>
<path d="M326.8 226.9h0M320.8 215.2h0M319.0 221.4h0M323.0 218.8h0M329.2 220.3h0M318.2 231.2h0M323.1 223.4h0M320.1 225.4h0M327.7 229.2h0M322.9 229.9h0M327.3 222.3h0M319.6 226.2h0M315.9 221.1h0M327.9 225.0h0M325.3 231.9h0M323.0 216.9h0M321.0 231.9h0M320.5 223.6h0M322.2 234.0h0M323.3 218.2h0" stroke="#dde4ec" stroke-width="1.15" stroke-linecap="round" stroke-opacity="0.68" fill="none"/>
<path d="M318.4 225.4h0M320.8 229.0h0M323.9 225.7h0M323.0 233.3h0M323.2 230.4h0M330.1 225.6h0M324.5 231.3h0M325.8 230.3h0M327.5 218.2h0M326.0 224.9h0M324.6 230.5h0M322.9 231.4h0M322.0 227.7h0M324.2 227.6h0M321.4 215.6h0M317.2 227.9h0M323.6 224.2h0M319.8 226.6h0M318.5 228.6h0M315.4 223.0h0M322.7 216.2h0" stroke="#ecd8c4" stroke-width="1.15" stroke-linecap="round" stroke-opacity="0.68" fill="none"/>
<path d="M330.1 219.9h0M319.8 223.4h0M321.4 222.9h0M328.5 230.3h0M320.8 217.6h0M325.1 224.8h0M326.1 230.3h0M327.0 232.5h0M322.5 225.5h0M323.2 219.2h0M326.3 220.2h0" stroke="#d8e6ee" stroke-width="1.15" stroke-linecap="round" stroke-opacity="0.68" fill="none"/>
<ellipse cx="295.55" cy="200.20" rx="8.10" ry="6.30" fill="#b0c2e6" fill-opacity="0.35" filter="url(#b1)"/>
<path d="M300.1 196.7h0M297.0 205.1h0M296.3 200.9h0M298.5 199.5h0M301.4 198.5h0M288.6 200.6h0M302.6 196.6h0M302.9 195.6h0M301.1 201.2h0M286.9 200.7h0M298.3 197.8h0M295.8 208.3h0M297.2 206.2h0M294.9 201.0h0" stroke="#b0c2e6" stroke-width="1.15" stroke-linecap="round" stroke-opacity="0.68" fill="none"/>
<path d="M290.7 198.2h0M294.1 202.9h0M296.0 193.8h0M287.0 200.9h0M304.1 200.8h0M299.9 203.5h0M292.2 204.8h0M298.8 195.3h0M299.0 199.8h0M293.9 202.2h0M295.5 201.3h0M298.4 206.2h0M301.4 202.3h0M299.4 201.7h0M302.9 201.9h0M290.3 197.7h0" stroke="#cdd8ee" stroke-width="1.15" stroke-linecap="round" stroke-opacity="0.68" fill="none"/>
<path d="M300.2 202.4h0M298.4 205.3h0M296.1 200.1h0M296.2 202.9h0M295.3 204.1h0M292.4 201.8h0M288.6 197.8h0M295.6 205.9h0M299.9 196.0h0M289.4 203.2h0M292.9 201.9h0M295.3 204.0h0M292.9 197.3h0M293.0 194.6h0M288.2 200.0h0M301.5 197.8h0" stroke="#5f80c6" stroke-width="1.15" stroke-linecap="round" stroke-opacity="0.68" fill="none"/>
<path d="M294.4 194.6h0M297.5 204.6h0M288.3 201.8h0M300.4 197.4h0M294.2 194.9h0M291.4 196.8h0M294.5 204.8h0M294.7 198.4h0M294.5 196.8h0" stroke="#ead8e0" stroke-width="1.15" stroke-linecap="round" stroke-opacity="0.68" fill="none"/>
<path d="M301.7 201.0h0M292.6 202.2h0M303.3 197.8h0M298.9 203.3h0M299.9 194.6h0M287.6 198.6h0M288.6 202.4h0M297.0 204.5h0M289.5 195.0h0M289.6 201.2h0M299.9 199.4h0M292.8 203.8h0M298.3 204.8h0M296.7 198.5h0M295.6 207.1h0M288.1 198.8h0M297.5 199.9h0M301.9 196.4h0M291.1 197.6h0" stroke="#c8d4ec" stroke-width="1.15" stroke-linecap="round" stroke-opacity="0.68" fill="none"/>
<path d="M299.3 199.4h0M300.3 204.4h0M291.1 198.8h0M301.3 203.7h0M290.4 196.4h0M293.6 196.4h0M302.0 202.6h0M290.2 198.7h0M300.1 206.6h0M296.2 194.3h0M291.2 199.5h0M289.9 198.4h0M288.3 195.4h0M293.0 195.8h0M302.6 203.9h0M298.9 196.2h0M295.5 198.0h0M287.2 201.9h0M297.9 201.0h0M295.4 207.3h0M299.5 197.2h0" stroke="#d8e0f0" stroke-width="1.15" stroke-linecap="round" stroke-opacity="0.68" fill="none"/>
<ellipse cx="315.80" cy="184.60" rx="5.83" ry="6.48" fill="#dadcec" fill-opacity="0.6" filter="url(#b1)"/>
<path d="M320.4 185.3h0M319.0 187.2h0M316.0 185.4h0M314.2 187.6h0M313.5 183.4h0M317.2 177.8h0M315.5 183.7h0M316.7 180.8h0M313.9 189.9h0M316.2 180.7h0M310.4 182.2h0M319.0 179.7h0M316.3 181.8h0M315.8 188.5h0M318.0 184.4h0M318.6 179.9h0M311.1 186.7h0M313.3 190.1h0M318.8 184.5h0" stroke="#c8cce4" stroke-width="1.15" stroke-linecap="round" stroke-opacity="0.68" fill="none"/>
<path d="M311.8 180.6h0M311.1 188.4h0M312.7 180.5h0M313.6 186.5h0M320.7 186.2h0M316.9 176.9h0M314.2 189.0h0M310.7 185.8h0M318.4 181.2h0M316.9 181.8h0M317.1 189.2h0M307.8 184.8h0M311.7 183.7h0M315.1 186.3h0" stroke="#b8bedc" stroke-width="1.15" stroke-linecap="round" stroke-opacity="0.68" fill="none"/>
<path d="M316.5 179.0h0M316.5 178.2h0M312.2 183.0h0M313.1 180.6h0M319.8 190.6h0M321.5 183.1h0M318.7 179.3h0M319.2 188.5h0M311.9 178.3h0M317.2 186.0h0M317.7 186.2h0M314.6 189.2h0" stroke="#dcdcea" stroke-width="1.15" stroke-linecap="round" stroke-opacity="0.68" fill="none"/>
<path d="M319.2 190.3h0M318.8 189.2h0M318.0 182.6h0M319.7 185.8h0M315.5 181.7h0M317.9 187.1h0M320.1 184.7h0M313.1 190.4h0M319.0 180.3h0M316.6 184.9h0M316.5 190.9h0M316.2 187.2h0M315.8 187.9h0M319.5 180.0h0M322.2 187.8h0M312.9 189.5h0M313.1 191.3h0M309.4 185.0h0M314.2 178.4h0M312.2 189.1h0M317.6 189.1h0M312.8 180.1h0" stroke="#e6d0d8" stroke-width="1.15" stroke-linecap="round" stroke-opacity="0.68" fill="none"/>
<path d="M311.8 181.9h0M311.8 187.2h0M314.4 183.0h0M320.2 187.6h0M320.0 185.6h0M310.0 184.5h0M315.9 179.1h0M317.1 189.5h0M311.8 184.7h0M310.9 187.9h0M309.2 182.2h0M313.9 191.0h0" stroke="#d0d4e8" stroke-width="1.15" stroke-linecap="round" stroke-opacity="0.68" fill="none"/>
<path d="M332.0 188.7h0M340.8 198.0h0M332.9 197.0h0M334.6 189.5h0M336.3 195.7h0M342.7 192.0h0M342.7 191.3h0M344.0 193.0h0M342.6 191.8h0M335.9 185.1h0M336.7 193.1h0M332.4 188.1h0M341.5 194.3h0M334.0 188.3h0M344.8 191.5h0M337.0 197.5h0" stroke="#e0e0e8" stroke-width="1.15" stroke-linecap="round" stroke-opacity="0.68" fill="none"/>
<path d="M330.0 195.9h0M341.8 196.7h0M341.2 194.6h0M334.0 190.8h0M338.1 186.3h0M340.0 188.4h0M329.6 192.7h0M334.2 195.0h0M344.3 189.2h0M335.6 184.9h0M333.8 187.7h0M329.7 192.5h0M337.2 185.4h0M330.1 192.9h0M334.8 200.2h0M336.7 194.0h0M345.1 191.2h0M331.7 190.1h0M336.6 189.1h0M343.4 184.7h0M333.4 191.6h0M338.1 186.8h0" stroke="#d8dae6" stroke-width="1.15" stroke-linecap="round" stroke-opacity="0.68" fill="none"/>
<path d="M329.7 190.0h0M331.3 187.4h0M333.1 187.0h0M333.4 190.2h0M339.2 190.5h0M340.8 197.5h0M341.6 193.8h0M333.8 198.9h0M342.2 186.8h0M342.8 197.6h0M339.8 185.9h0M335.2 196.2h0M342.5 186.1h0M329.1 188.1h0M342.1 191.0h0M330.1 188.6h0" stroke="#ece2e4" stroke-width="1.15" stroke-linecap="round" stroke-opacity="0.68" fill="none"/>
<path d="M339.1 196.5h0M329.2 192.3h0M334.4 198.9h0M330.2 193.1h0M331.9 190.2h0M336.8 183.5h0M330.6 194.3h0M339.2 183.5h0M336.2 193.4h0M336.9 191.6h0M335.5 197.8h0M330.5 190.7h0M339.1 185.7h0M329.9 189.7h0M345.2 192.4h0M341.8 186.2h0M341.2 190.9h0M332.6 198.5h0M337.9 184.7h0M336.4 184.7h0M337.7 199.4h0M342.2 187.4h0M338.2 199.7h0" stroke="#e4eef4" stroke-width="1.15" stroke-linecap="round" stroke-opacity="0.68" fill="none"/>
<ellipse cx="314.90" cy="197.60" rx="7.02" ry="7.20" fill="#f0c4c6" fill-opacity="0.6" filter="url(#b1)"/>
<path d="M312.7 191.2h0M315.9 195.0h0M315.2 204.9h0M315.1 196.2h0M309.2 193.1h0M321.6 194.7h0M312.4 198.4h0M317.4 201.0h0M315.8 192.0h0M315.6 193.5h0M318.4 194.7h0M317.0 206.1h0M321.6 197.2h0M319.4 193.7h0M310.9 199.6h0M312.6 194.9h0M314.3 197.4h0M314.7 205.0h0M313.6 196.8h0M314.0 193.5h0M312.6 193.1h0M308.8 196.9h0M316.3 197.2h0" stroke="#eebcc0" stroke-width="1.15" stroke-linecap="round" stroke-opacity="0.68" fill="none"/>
<path d="M316.3 203.2h0M311.5 193.8h0M317.8 194.3h0M316.3 203.1h0M309.6 199.5h0M310.6 200.2h0M321.4 201.1h0M309.1 200.3h0M310.1 193.7h0M315.4 204.9h0M314.8 194.6h0M312.6 200.5h0M312.7 203.9h0M319.0 194.8h0M311.1 192.9h0M314.9 189.8h0M308.5 194.4h0M315.1 199.0h0M319.0 193.2h0M312.3 200.3h0M314.9 189.0h0M306.4 198.0h0M310.6 198.1h0M313.7 202.2h0M312.4 191.5h0M316.4 204.7h0M311.7 203.6h0M320.0 199.2h0M318.1 204.0h0M312.2 201.1h0M319.8 202.6h0" stroke="#e6a8b0" stroke-width="1.15" stroke-linecap="round" stroke-opacity="0.68" fill="none"/>
<path d="M320.9 196.2h0M322.1 200.1h0M314.1 190.1h0M316.1 200.7h0M320.4 195.2h0M315.4 193.7h0M314.6 195.8h0M315.9 202.8h0M310.7 196.7h0M319.6 193.0h0M313.5 193.6h0M317.9 191.3h0M314.5 198.8h0M323.5 196.2h0M315.8 191.0h0M318.8 190.8h0M317.8 199.3h0M317.2 190.8h0M315.3 202.6h0M319.4 194.1h0M309.1 198.5h0M318.5 190.9h0M318.2 205.1h0M316.8 197.3h0M316.6 206.6h0M316.4 199.6h0M321.1 197.2h0M309.9 202.0h0M317.6 192.0h0M319.0 199.7h0M318.9 201.7h0M312.2 204.6h0M320.1 192.9h0M317.0 192.7h0M310.2 195.8h0M315.6 199.8h0M321.9 201.6h0M316.8 196.7h0" stroke="#f4d2d2" stroke-width="1.15" stroke-linecap="round" stroke-opacity="0.68" fill="none"/>
<path d="M309.7 196.1h0M309.4 195.4h0M322.6 197.2h0M307.4 193.8h0M308.3 201.8h0M310.5 196.0h0M316.4 192.0h0M314.8 204.4h0M312.7 194.2h0M314.1 197.5h0M308.4 196.6h0M314.0 196.4h0M319.5 198.2h0M313.6 203.5h0M317.3 200.6h0M312.6 197.7h0M321.4 199.4h0M309.3 194.0h0M317.5 196.1h0M319.3 197.7h0M315.3 192.7h0M306.9 198.0h0M314.3 191.1h0M318.5 200.6h0M316.2 190.7h0" stroke="#ecb4ba" stroke-width="1.15" stroke-linecap="round" stroke-opacity="0.68" fill="none"/>
<ellipse cx="326.00" cy="200.20" rx="7.20" ry="7.65" fill="#eec8a0" fill-opacity="0.55" filter="url(#b1)"/>
<path d="M330.2 196.4h0M324.4 198.3h0M324.1 196.6h0M327.5 198.9h0M327.8 203.1h0M327.1 203.2h0M319.5 197.7h0M324.3 205.7h0M329.1 206.3h0M330.4 198.1h0M324.9 200.5h0M331.1 203.1h0M328.5 207.8h0M321.4 196.6h0M323.1 194.3h0M318.8 198.3h0M330.5 193.9h0M327.5 203.6h0M323.5 196.6h0M323.2 195.9h0M327.5 200.3h0M327.9 206.5h0M321.2 195.0h0M319.3 202.5h0M325.5 194.3h0M327.6 197.9h0M329.9 204.8h0M325.2 203.3h0M330.0 201.9h0M330.2 206.0h0M326.0 200.2h0M328.3 196.7h0M326.2 195.9h0M321.0 205.5h0M324.9 207.4h0M326.5 196.2h0M320.6 201.7h0M325.7 203.0h0M325.0 202.9h0M318.2 198.4h0M319.1 198.6h0M326.2 194.4h0M330.1 202.3h0" stroke="#e8b684" stroke-width="1.15" stroke-linecap="round" stroke-opacity="0.68" fill="none"/>
<path d="M328.1 198.3h0M325.1 192.8h0M326.8 206.1h0M323.1 194.6h0M322.7 196.6h0M324.8 194.1h0M326.3 203.2h0M325.0 198.2h0M331.9 202.5h0M318.5 197.3h0M327.2 196.1h0M324.3 195.8h0M322.5 193.7h0M324.3 199.3h0M320.7 197.2h0M323.6 203.2h0M328.1 194.8h0M321.9 202.8h0M331.8 196.7h0M320.0 207.5h0M322.4 207.2h0M326.9 192.6h0M322.8 207.8h0M330.7 203.4h0M322.5 198.2h0M321.5 200.1h0M328.2 199.5h0M324.2 201.9h0M326.8 192.5h0M328.6 204.7h0" stroke="#dea26e" stroke-width="1.15" stroke-linecap="round" stroke-opacity="0.68" fill="none"/>
<path d="M323.6 204.7h0M329.3 199.0h0M325.6 203.3h0M332.6 195.1h0M323.9 197.4h0M333.8 199.1h0M325.6 203.2h0M326.8 196.7h0M331.1 200.5h0M328.1 195.6h0M319.2 199.9h0M327.4 195.9h0M327.9 193.4h0M321.8 204.9h0M326.1 202.6h0M325.1 196.7h0M320.2 194.6h0M325.9 196.1h0M320.5 200.5h0M332.5 195.7h0M324.1 201.5h0M322.8 197.0h0M320.4 203.3h0" stroke="#f0ceaa" stroke-width="1.15" stroke-linecap="round" stroke-opacity="0.68" fill="none"/>
<path d="M325.5 201.1h0M332.8 194.2h0M325.5 198.3h0M321.7 201.6h0M330.2 201.6h0M329.2 197.9h0M326.0 205.4h0M321.0 196.8h0M326.1 207.0h0M333.1 199.6h0M318.8 203.9h0M322.9 196.5h0M322.0 204.5h0M326.3 204.1h0M331.0 207.9h0M320.6 202.8h0M330.6 202.3h0M327.2 197.3h0M324.8 202.4h0M328.8 194.0h0M329.1 196.3h0M320.7 206.4h0M321.7 197.4h0M331.4 203.9h0M319.3 199.9h0M327.2 207.4h0M329.6 193.6h0M320.9 193.8h0M332.1 202.7h0M320.8 196.3h0M330.7 196.6h0M330.5 201.3h0" stroke="#ecc298" stroke-width="1.15" stroke-linecap="round" stroke-opacity="0.68" fill="none"/>
<ellipse cx="338.50" cy="207.50" rx="6.48" ry="15.75" fill="#c4e2f0" fill-opacity="0.6" filter="url(#b1)" transform="rotate(34 338.50 207.50)"/>
<path d="M334.9 217.8h0M333.3 215.8h0M337.7 217.7h0M333.8 209.9h0M343.8 206.0h0M335.1 200.5h0M348.2 195.4h0M348.0 197.9h0M332.2 210.0h0M331.6 214.2h0M347.3 199.1h0M330.9 217.0h0M343.5 203.2h0M335.6 200.0h0M331.8 221.7h0M348.8 198.7h0M330.3 213.5h0M330.4 218.4h0M345.2 204.4h0M341.5 212.0h0M336.7 204.9h0M330.8 223.3h0M342.3 208.8h0M341.5 214.1h0M349.2 200.7h0M338.7 206.8h0M340.4 203.8h0M337.5 205.1h0M331.5 221.0h0M338.1 213.0h0M346.5 200.7h0M344.9 193.4h0M336.9 215.0h0M336.7 213.2h0M331.1 216.5h0M338.5 207.4h0M332.1 208.1h0M338.5 202.3h0M345.9 201.7h0M331.7 209.3h0M333.1 210.8h0M341.2 215.5h0M333.1 205.6h0M339.5 206.7h0M332.3 213.5h0M339.0 200.3h0M329.5 216.7h0" stroke="#aad4e8" stroke-width="1.15" stroke-linecap="round" stroke-opacity="0.68" fill="none"/>
<path d="M340.7 210.5h0M345.1 204.3h0M344.8 206.7h0M348.7 198.2h0M328.6 223.1h0M332.5 212.4h0M340.7 209.6h0M329.8 212.1h0M336.3 211.0h0M331.0 222.0h0M345.9 193.9h0M335.4 212.0h0M339.0 214.5h0M337.0 216.1h0M328.6 220.1h0M331.6 204.6h0M335.6 217.1h0M344.7 213.8h0M351.2 195.0h0M338.3 217.0h0M342.6 214.0h0M341.3 209.2h0M337.1 215.2h0M327.7 220.2h0M327.9 219.0h0M327.7 217.0h0M340.6 211.0h0M338.4 198.2h0M333.8 221.6h0M345.8 206.3h0M337.1 212.8h0M330.3 212.9h0M331.8 219.1h0M336.6 215.3h0M346.6 203.8h0M330.1 218.9h0M344.5 204.2h0M338.6 213.6h0M350.8 197.9h0M329.3 214.3h0M332.8 219.5h0M337.1 215.5h0M339.2 202.0h0M342.7 206.7h0M343.6 192.4h0M342.9 210.0h0M343.1 196.4h0M335.9 214.6h0M340.2 211.1h0M336.1 211.2h0M333.1 220.4h0M346.0 206.3h0M342.1 209.4h0M340.6 207.4h0M344.8 195.6h0M347.1 201.2h0M332.8 220.5h0" stroke="#92c8e0" stroke-width="1.15" stroke-linecap="round" stroke-opacity="0.68" fill="none"/>
<path d="M328.0 211.1h0M335.6 204.5h0M347.6 200.1h0M340.1 213.4h0M342.1 193.5h0M346.5 202.1h0M340.6 203.1h0M330.8 210.1h0M338.7 216.2h0M341.8 212.9h0M343.6 209.7h0M332.3 211.6h0M338.3 214.4h0M341.9 194.2h0M335.8 218.9h0M333.2 220.1h0M339.6 206.3h0M342.6 203.5h0M333.8 210.8h0M334.2 205.3h0M340.2 196.9h0M341.7 195.8h0M330.3 215.2h0M335.9 214.5h0M344.0 191.7h0M331.1 225.8h0M328.4 213.9h0M335.5 217.7h0M341.1 216.1h0M344.6 206.1h0M336.4 203.5h0M344.1 194.5h0M329.3 218.0h0M338.5 215.7h0M328.2 211.6h0M344.7 210.1h0M331.5 219.8h0M340.7 200.8h0M342.4 203.5h0M332.4 211.2h0M342.5 201.6h0M329.0 212.7h0" stroke="#c2e0ee" stroke-width="1.15" stroke-linecap="round" stroke-opacity="0.68" fill="none"/>
<path d="M336.9 204.5h0M341.0 196.4h0M343.0 211.5h0M329.0 211.0h0M342.6 204.0h0M344.4 194.8h0M336.9 203.0h0M331.2 207.7h0M331.3 221.3h0M341.0 198.8h0M335.3 208.4h0M343.8 212.2h0M339.0 194.9h0M332.1 211.6h0M348.7 193.6h0M335.2 208.3h0M336.6 212.0h0M341.8 202.3h0M344.7 203.3h0M330.5 208.3h0M331.4 215.8h0M345.0 196.3h0M341.6 203.8h0M334.6 202.9h0M328.5 212.0h0M347.7 201.2h0M345.5 203.6h0M348.8 194.2h0M330.5 219.1h0M333.4 206.5h0M336.3 211.8h0M328.5 210.9h0M335.3 212.9h0M334.7 205.7h0M336.3 214.1h0M332.2 218.0h0M339.1 202.9h0M343.8 201.0h0M342.0 213.3h0M330.2 222.5h0M331.7 215.4h0M347.1 195.4h0M339.1 218.9h0M340.4 205.9h0M334.6 200.0h0M331.3 211.0h0M338.2 198.7h0" stroke="#eac4cc" stroke-width="1.15" stroke-linecap="round" stroke-opacity="0.68" fill="none"/>
<path d="M348.3 196.3h0M341.4 195.3h0M333.0 217.7h0M332.6 203.7h0M335.2 214.2h0M337.7 208.0h0M340.8 198.0h0M329.2 210.8h0M343.2 199.9h0M343.6 213.0h0M343.3 197.6h0M338.3 208.8h0M345.3 197.7h0M345.6 191.0h0M335.3 209.6h0M347.5 195.8h0M335.6 205.3h0M339.0 210.0h0M335.3 204.2h0M334.7 202.9h0M333.1 222.0h0M347.2 200.7h0M347.1 203.1h0M335.9 202.0h0M346.6 197.3h0M344.6 206.7h0M336.0 206.7h0M341.4 212.0h0M344.0 199.1h0M344.9 195.7h0M347.6 197.0h0M332.3 225.5h0M337.9 201.4h0M333.5 213.1h0M337.2 217.7h0M332.2 218.3h0M331.8 210.6h0M334.1 215.1h0M350.2 194.2h0M332.6 204.6h0M334.6 214.2h0M333.2 215.9h0M333.4 204.6h0M341.4 205.3h0" stroke="#dcf0f6" stroke-width="1.15" stroke-linecap="round" stroke-opacity="0.68" fill="none"/>
<ellipse cx="342.80" cy="224.00" rx="13.50" ry="6.30" fill="#cce6f2" fill-opacity="0.6" filter="url(#b1)"/>
<path d="M347.9 223.1h0M336.0 220.3h0M338.4 221.6h0M335.9 218.8h0M336.0 218.9h0M351.0 230.6h0M338.6 220.2h0M346.7 220.5h0M339.4 228.5h0M337.8 221.9h0M342.2 222.5h0M347.4 219.7h0M350.0 225.4h0M347.5 224.2h0M338.5 220.5h0M355.4 225.0h0M350.7 227.5h0M333.3 220.0h0M346.3 223.3h0M349.3 224.1h0M344.0 228.6h0M356.2 222.8h0M335.0 225.2h0M344.9 229.4h0M337.8 223.2h0M329.6 224.6h0M350.0 221.0h0M345.7 225.6h0M345.2 229.8h0M341.2 222.6h0M347.0 218.4h0M338.8 230.3h0M331.0 222.8h0M333.6 223.4h0M354.0 223.6h0M341.3 227.6h0M337.4 223.1h0M338.8 230.3h0M350.4 222.0h0" stroke="#b8dcee" stroke-width="1.15" stroke-linecap="round" stroke-opacity="0.68" fill="none"/>
<path d="M346.8 223.1h0M351.9 228.7h0M341.8 226.3h0M329.2 220.7h0M340.7 229.8h0M334.0 225.2h0M338.6 221.4h0M338.5 225.9h0M353.8 222.7h0M336.4 222.7h0M348.0 224.0h0M355.1 223.7h0M342.6 220.0h0M338.7 219.5h0M331.4 224.0h0M337.3 218.4h0M341.3 226.2h0M352.1 224.3h0M331.6 223.1h0M351.8 220.3h0M350.1 227.2h0M341.4 220.9h0M349.7 226.9h0M355.6 224.9h0M349.0 222.9h0M344.4 230.0h0M351.9 220.2h0M345.3 220.0h0M335.0 227.7h0M331.4 222.3h0M353.2 229.8h0M338.7 222.5h0M355.7 224.3h0M328.2 225.3h0M331.7 225.8h0M349.5 226.0h0M351.4 228.2h0M338.6 223.9h0M339.3 228.4h0M335.5 220.8h0M335.1 223.5h0M331.0 221.2h0" stroke="#cce6f2" stroke-width="1.15" stroke-linecap="round" stroke-opacity="0.68" fill="none"/>
<path d="M339.1 217.6h0M335.4 225.4h0M345.1 220.9h0M343.8 220.2h0M344.2 229.6h0M337.1 229.6h0M336.7 224.7h0M339.8 222.8h0M349.1 230.0h0M352.8 221.6h0M354.5 224.8h0M350.9 226.3h0M351.9 220.9h0M355.1 222.9h0M351.3 230.0h0M352.4 220.8h0M351.1 223.1h0M332.7 225.2h0M350.7 230.0h0M352.7 223.2h0M332.8 228.8h0M335.4 220.8h0M346.3 223.1h0M347.3 228.0h0M355.3 221.4h0M349.7 221.5h0M358.5 224.3h0M336.7 225.1h0M349.0 223.0h0M330.2 223.0h0M339.7 218.3h0M332.7 226.4h0M348.5 224.5h0M334.9 219.3h0M349.2 222.7h0M345.0 219.1h0M347.2 221.5h0M337.9 218.8h0M341.7 222.9h0M354.6 222.4h0M342.2 228.7h0M347.0 229.5h0M343.4 228.9h0M337.6 226.7h0M335.4 218.4h0" stroke="#a8d4ea" stroke-width="1.15" stroke-linecap="round" stroke-opacity="0.68" fill="none"/>
<path d="M342.9 219.3h0M347.8 216.8h0M343.9 217.6h0M352.1 221.9h0M337.1 220.1h0M350.8 221.0h0M347.7 229.3h0M338.0 226.1h0M346.4 221.5h0M337.3 224.5h0M342.9 230.5h0M353.7 226.8h0M338.3 216.8h0M355.0 220.9h0M346.8 227.2h0M332.7 220.2h0M349.5 227.7h0M352.0 219.7h0M344.7 222.8h0M347.7 227.6h0M350.2 230.0h0M339.0 230.6h0M340.6 222.8h0M349.4 219.8h0M335.0 220.1h0M348.1 221.4h0M338.2 222.5h0M353.8 222.9h0M336.2 225.8h0M353.1 224.3h0M339.2 231.5h0M351.8 222.3h0M349.1 218.6h0M349.7 218.7h0M349.9 226.4h0M336.1 221.8h0M348.0 219.8h0M335.4 224.2h0M338.3 220.1h0M335.8 223.0h0M337.4 217.9h0M339.2 226.7h0" stroke="#e0eef4" stroke-width="1.15" stroke-linecap="round" stroke-opacity="0.68" fill="none"/>
<ellipse cx="361.50" cy="197.20" rx="12.33" ry="12.06" fill="#dab09a" fill-opacity="0.55" filter="url(#b1)"/>
<path d="M373.3 195.9h0M372.7 196.4h0M353.3 191.3h0M365.0 191.7h0M363.9 201.3h0M356.3 198.6h0M350.4 196.8h0M363.5 199.9h0M362.3 204.2h0M351.6 197.1h0M359.8 186.7h0M355.8 200.5h0M357.6 191.0h0M373.4 189.9h0M368.3 193.6h0M351.2 195.1h0M367.7 190.0h0M366.8 191.2h0M363.1 192.9h0M365.5 207.5h0M357.2 204.6h0M348.3 198.7h0M350.2 196.9h0M357.6 188.8h0M356.6 210.5h0M363.0 201.1h0M370.4 189.2h0M362.7 210.5h0M346.3 198.3h0M366.3 191.3h0M355.7 201.9h0M368.0 206.3h0M356.0 201.8h0M364.3 206.5h0M365.8 188.1h0M362.0 206.7h0M362.7 189.4h0M368.8 199.9h0M359.6 187.0h0M362.5 203.5h0M349.4 193.9h0M373.3 200.6h0M358.5 188.4h0M354.9 188.2h0M361.6 185.0h0M361.4 186.2h0M368.4 187.3h0M371.6 196.9h0M357.8 208.4h0M350.8 203.7h0M367.2 197.4h0M361.2 199.8h0M362.9 189.8h0M369.6 188.9h0M363.1 198.6h0M371.2 208.1h0M376.8 198.0h0M353.2 194.0h0M366.1 199.0h0M351.9 196.3h0M358.2 200.5h0M357.9 190.8h0M370.4 189.3h0M365.4 191.4h0M353.6 194.7h0M367.6 195.7h0M367.9 192.7h0M353.7 193.5h0M364.5 211.0h0M362.5 204.6h0M359.3 202.1h0M355.3 193.7h0M371.6 197.1h0M359.0 197.3h0M369.9 206.2h0M355.9 198.8h0M366.5 194.4h0M360.0 208.5h0M365.3 194.4h0M357.3 185.5h0M368.5 202.2h0" stroke="#ca9474" stroke-width="1.15" stroke-linecap="round" stroke-opacity="0.68" fill="none"/>
<path d="M368.9 186.4h0M358.4 185.9h0M359.1 195.4h0M360.2 207.4h0M364.4 188.7h0M360.0 191.1h0M359.4 187.0h0M354.3 185.0h0M372.2 204.1h0M371.8 192.5h0M366.9 203.0h0M356.6 195.5h0M366.0 197.9h0M360.1 207.6h0M354.7 205.5h0M368.2 189.8h0M365.9 192.8h0M363.4 194.4h0M358.3 188.1h0M353.4 196.5h0M367.6 196.0h0M370.5 201.5h0M366.8 192.7h0M366.2 198.8h0M364.0 202.2h0M373.1 194.1h0M364.9 199.7h0M353.5 203.4h0M353.9 189.6h0M371.1 202.5h0M356.2 188.9h0M353.3 193.6h0M357.0 193.3h0M361.4 200.0h0M370.8 207.7h0M361.1 195.4h0M363.2 196.3h0M366.5 189.0h0M364.4 208.8h0M357.4 203.5h0M358.4 196.5h0M360.7 186.7h0M350.9 199.2h0M364.2 189.1h0M360.2 194.9h0M368.8 204.1h0M358.2 184.9h0M367.8 209.3h0M346.8 199.2h0M361.6 189.5h0M359.2 197.8h0M362.2 211.2h0M365.1 206.6h0M358.2 210.3h0M357.4 188.6h0M359.9 196.7h0M367.4 197.6h0M361.6 194.6h0M369.3 199.0h0M357.4 203.8h0M347.6 193.1h0M363.3 186.8h0" stroke="#ba8464" stroke-width="1.15" stroke-linecap="round" stroke-opacity="0.68" fill="none"/>
<path d="M363.2 203.8h0M356.0 202.0h0M364.9 201.7h0M372.0 196.6h0M347.3 188.4h0M352.8 197.1h0M358.6 192.3h0M360.5 189.7h0M359.2 197.2h0M354.6 186.5h0M367.2 201.5h0M361.5 194.1h0M355.8 189.1h0M369.9 196.4h0M364.0 203.1h0M357.1 190.8h0M374.5 204.5h0M356.7 185.2h0M367.5 187.7h0M358.2 186.8h0M364.3 194.3h0M369.3 188.4h0M362.6 195.3h0M352.9 202.6h0M373.3 198.4h0M359.8 188.9h0M371.0 199.7h0M355.5 196.6h0M355.4 196.7h0M353.7 208.0h0M353.7 198.0h0M352.9 198.7h0M362.2 196.1h0M365.0 197.2h0M359.1 208.0h0M372.0 202.4h0M367.1 196.8h0M350.9 197.2h0M350.1 201.1h0M358.4 211.1h0M372.0 196.0h0M360.8 203.6h0M352.1 192.8h0M357.5 191.5h0M370.1 203.8h0M356.1 202.4h0M354.0 192.3h0M370.0 193.9h0M367.0 207.6h0M366.7 203.1h0M359.0 190.3h0M359.4 188.3h0M371.0 189.4h0M375.1 194.8h0M360.9 192.7h0M371.0 196.9h0M374.5 197.8h0M369.0 208.9h0M352.9 196.4h0M362.9 199.4h0M360.6 192.0h0M363.0 189.9h0M355.8 197.4h0M362.1 190.4h0M363.9 197.7h0M362.6 202.6h0M364.9 189.8h0M357.9 200.9h0M362.1 195.4h0M358.4 209.6h0M360.9 187.3h0M369.3 195.8h0M372.4 197.2h0M368.2 190.8h0M366.6 190.3h0M353.9 186.3h0M371.6 191.1h0M366.3 191.9h0M365.2 193.5h0M366.5 187.6h0" stroke="#dcac94" stroke-width="1.15" stroke-linecap="round" stroke-opacity="0.68" fill="none"/>
<path d="M356.1 205.2h0M356.3 202.0h0M362.3 188.4h0M361.5 205.0h0M357.2 210.5h0M356.9 205.1h0M351.2 189.8h0M362.4 202.0h0M374.0 199.1h0M371.6 201.7h0M358.3 186.2h0M365.1 195.5h0M351.5 190.7h0M354.1 196.1h0M353.5 185.2h0M353.1 194.5h0M364.4 196.4h0M374.0 201.5h0M363.0 193.1h0M362.6 186.9h0M355.8 207.4h0M361.9 200.6h0M371.2 188.6h0M368.5 202.4h0M368.5 194.8h0M364.0 197.2h0M369.3 194.8h0M354.6 202.4h0M367.8 196.8h0M360.1 185.9h0M370.4 194.7h0M361.5 184.0h0M356.6 209.3h0M350.0 192.2h0M369.3 210.0h0M358.2 208.3h0M358.6 191.4h0M359.1 198.7h0M370.6 190.8h0M360.5 206.5h0M354.3 192.3h0M353.5 189.2h0M357.8 184.4h0M362.2 195.7h0M371.2 196.8h0M360.4 197.7h0M353.8 198.7h0M360.5 195.0h0M357.9 189.4h0M350.0 190.9h0M348.1 200.7h0M365.5 206.8h0M370.0 199.9h0M351.7 193.4h0M373.0 198.8h0M359.8 186.7h0M361.7 188.6h0M359.9 199.1h0M371.6 197.1h0M362.8 194.7h0M356.9 196.2h0M368.3 195.2h0M363.4 185.0h0M371.4 189.5h0M349.2 200.9h0M359.6 209.0h0M371.6 189.0h0M360.6 209.6h0M360.6 190.3h0M360.7 198.4h0M355.4 198.0h0M365.4 198.8h0M355.4 204.9h0M351.1 202.0h0M351.6 195.2h0M366.9 205.1h0M360.8 208.0h0" stroke="#ce9e80" stroke-width="1.15" stroke-linecap="round" stroke-opacity="0.68" fill="none"/>
<path d="M370.9 196.3h0M357.3 199.3h0M369.3 197.8h0M365.5 197.5h0M366.1 199.4h0M370.0 194.7h0M359.1 201.5h0M356.2 203.9h0M373.7 200.0h0M364.8 202.8h0M367.0 206.9h0M360.0 201.4h0M354.5 205.0h0M360.6 189.5h0M353.2 200.0h0M353.4 201.8h0M368.1 191.8h0M371.7 196.4h0M364.4 204.0h0M362.0 200.6h0M373.3 199.9h0M365.7 188.5h0M361.0 193.8h0M368.8 205.8h0M351.6 206.0h0M363.5 199.1h0M356.2 200.7h0M353.4 197.4h0M361.4 189.5h0M360.4 190.2h0M347.5 201.9h0M360.4 189.3h0M360.2 186.6h0M358.6 199.8h0M356.4 203.6h0M356.7 198.8h0M354.1 195.9h0M371.8 192.3h0M366.8 201.5h0M350.4 204.8h0M362.6 203.7h0M366.5 205.4h0M358.7 187.7h0M356.1 199.0h0M355.7 206.1h0M366.8 197.6h0M352.1 204.4h0M364.2 186.3h0M363.8 193.4h0M366.6 206.8h0M370.0 197.1h0M354.2 202.1h0M360.1 195.0h0M368.5 191.1h0M369.4 198.5h0M373.8 197.7h0M363.2 199.1h0M354.2 202.2h0M363.5 209.9h0M351.3 196.7h0M354.8 205.3h0M354.3 191.6h0M364.4 187.1h0M369.6 193.8h0M362.8 195.1h0M353.8 203.8h0M360.6 207.2h0M370.3 207.4h0M359.8 194.9h0M358.1 184.6h0M365.9 200.3h0M368.1 196.2h0M371.2 204.6h0M352.6 199.2h0M364.4 196.2h0M365.4 199.0h0M350.6 203.2h0M357.7 209.2h0M351.7 198.8h0M357.8 212.7h0" stroke="#eaceba" stroke-width="1.15" stroke-linecap="round" stroke-opacity="0.68" fill="none"/>
<ellipse cx="367.80" cy="212.50" rx="6.75" ry="6.30" fill="#dab09a" fill-opacity="0.5" filter="url(#b1)"/>
<path d="M362.1 216.0h0M367.9 209.4h0M370.4 213.0h0M368.4 217.1h0M365.2 210.6h0M366.1 213.1h0M364.7 209.0h0M363.4 207.2h0M363.9 210.2h0M364.7 208.7h0M372.4 215.8h0M370.5 210.5h0M361.1 210.1h0M364.6 218.6h0M369.4 216.9h0M365.3 218.2h0M361.9 217.8h0M367.0 218.1h0M369.2 210.3h0M370.6 217.1h0M367.2 218.6h0M370.6 216.3h0M372.2 210.8h0M371.2 217.1h0M374.3 209.4h0M365.6 216.5h0M368.7 206.4h0M368.7 207.1h0M363.3 212.4h0" stroke="#ca9474" stroke-width="1.15" stroke-linecap="round" stroke-opacity="0.68" fill="none"/>
<path d="M373.4 215.1h0M367.8 207.3h0M371.5 215.3h0M366.0 217.3h0M370.9 206.4h0M366.4 220.4h0M371.9 210.1h0M365.1 207.3h0M365.1 212.9h0M369.3 210.0h0M366.4 217.3h0M371.7 212.2h0M363.1 212.7h0M369.6 219.3h0M370.0 206.0h0M362.2 210.0h0" stroke="#ba8464" stroke-width="1.15" stroke-linecap="round" stroke-opacity="0.68" fill="none"/>
<path d="M361.2 211.0h0M362.8 209.8h0M363.4 207.8h0M366.8 214.9h0M374.0 216.2h0M366.3 209.0h0M359.5 210.1h0M368.5 216.8h0M365.1 211.3h0M365.7 211.2h0M362.5 208.5h0M373.8 214.1h0" stroke="#dcac94" stroke-width="1.15" stroke-linecap="round" stroke-opacity="0.68" fill="none"/>
<path d="M370.2 215.0h0M366.1 213.4h0M370.1 206.7h0M370.3 213.3h0M369.6 211.6h0M369.4 215.6h0M370.9 219.0h0M368.7 207.2h0M370.5 218.5h0M373.0 215.5h0M371.3 213.4h0M362.9 210.6h0M370.9 209.9h0M371.0 210.0h0M364.7 207.6h0M363.8 206.7h0M362.1 216.3h0M366.9 216.5h0M371.6 213.4h0M368.2 210.1h0M366.8 211.9h0M372.1 216.5h0M365.8 211.6h0M368.3 217.0h0M364.8 207.5h0M366.0 215.3h0M367.0 216.2h0" stroke="#ce9e80" stroke-width="1.15" stroke-linecap="round" stroke-opacity="0.68" fill="none"/>
<path d="M366.7 211.7h0M368.9 213.1h0M369.1 215.8h0M370.6 217.9h0M371.9 213.2h0M360.4 213.5h0M368.1 214.3h0M362.4 212.5h0M362.2 214.9h0M371.1 217.1h0M374.4 209.4h0M359.2 212.7h0M367.0 219.1h0M363.2 208.4h0" stroke="#eaceba" stroke-width="1.15" stroke-linecap="round" stroke-opacity="0.68" fill="none"/>
<ellipse cx="306.30" cy="212.50" rx="7.65" ry="6.30" fill="#ecd0ae" fill-opacity="0.55" filter="url(#b1)"/>
<path d="M310.5 206.7h0M312.2 208.7h0M311.0 208.1h0M299.3 212.5h0M303.1 216.0h0M298.4 214.3h0M309.3 217.2h0M297.8 212.4h0M311.0 212.4h0M309.1 206.1h0M313.3 214.2h0M304.5 219.3h0M312.9 211.9h0M304.4 214.6h0M309.8 207.9h0M312.4 210.1h0M312.6 217.1h0M310.5 217.6h0M311.2 216.6h0M305.8 206.6h0M309.0 211.9h0M309.7 212.6h0M309.7 216.8h0M301.0 214.7h0" stroke="#e6c49c" stroke-width="1.15" stroke-linecap="round" stroke-opacity="0.68" fill="none"/>
<path d="M299.4 216.7h0M309.7 214.5h0M304.4 212.0h0M304.5 209.4h0M304.6 213.8h0M304.2 212.9h0M306.7 207.3h0M309.6 212.6h0M302.6 216.0h0M297.3 210.3h0M304.1 207.5h0M304.6 212.5h0M306.8 207.9h0M305.9 216.2h0M300.2 214.2h0M309.8 214.9h0M310.8 206.6h0M314.3 213.7h0M308.8 212.9h0M311.1 213.4h0M304.5 216.5h0M307.9 216.4h0M310.8 211.8h0M306.1 206.8h0M300.4 208.3h0M315.4 211.0h0M305.1 209.2h0M305.0 214.5h0M302.0 213.8h0M303.1 214.7h0" stroke="#dcb890" stroke-width="1.15" stroke-linecap="round" stroke-opacity="0.68" fill="none"/>
<path d="M305.2 217.0h0M304.5 216.3h0M304.6 218.7h0M311.1 207.7h0M299.0 211.5h0M304.5 207.5h0M306.4 213.3h0M302.8 211.1h0M311.6 212.6h0M306.1 209.7h0M305.5 207.7h0M305.3 213.3h0M303.9 217.2h0M310.9 207.2h0M307.4 216.0h0M298.9 211.3h0M311.6 213.9h0M310.3 209.0h0M299.4 208.3h0M307.7 215.5h0M303.8 215.7h0M305.7 217.6h0M300.5 213.5h0" stroke="#eed4b4" stroke-width="1.15" stroke-linecap="round" stroke-opacity="0.68" fill="none"/>
<path d="M311.1 215.9h0M307.0 215.1h0M309.1 215.4h0M301.4 217.9h0M309.8 215.8h0M307.1 206.0h0M313.1 213.2h0M313.9 212.9h0M305.9 216.6h0M310.5 213.5h0M313.5 213.1h0M307.5 208.1h0M303.1 207.9h0M303.4 211.9h0M314.7 211.0h0M298.4 212.7h0M310.5 212.0h0M313.3 209.7h0M303.8 212.3h0M311.5 210.3h0M307.8 205.7h0M305.7 207.8h0M309.7 208.3h0" stroke="#e4c4a4" stroke-width="1.15" stroke-linecap="round" stroke-opacity="0.68" fill="none"/>
<ellipse cx="307.50" cy="232.00" rx="10.91" ry="12.22" fill="#e6b880" fill-opacity="0.6" filter="url(#b1)"/>
<path d="M310.1 235.9h0M307.7 228.7h0M317.9 233.3h0M301.1 221.2h0M313.4 232.5h0M313.0 224.9h0M297.5 244.4h0M316.3 235.1h0M309.7 226.1h0M316.1 230.8h0M298.1 237.9h0M314.0 221.9h0M318.9 235.3h0M299.3 230.5h0M305.0 240.2h0M304.6 223.2h0M305.9 228.7h0M307.8 222.9h0M311.2 229.8h0M314.3 237.8h0M316.4 237.5h0M310.9 245.2h0M310.8 224.4h0M317.3 227.9h0M318.7 229.7h0M309.0 222.8h0M310.4 222.6h0M302.8 234.1h0M315.7 240.2h0M304.0 232.2h0M302.4 237.2h0M306.4 238.1h0M312.3 243.1h0M307.8 238.6h0M313.1 227.3h0M318.1 231.0h0M316.9 231.2h0M313.0 231.9h0M313.8 228.0h0M307.8 240.9h0M310.0 223.3h0M304.6 223.6h0M308.6 232.9h0M310.6 230.6h0M304.3 246.0h0M314.9 221.8h0M312.8 234.6h0M302.9 244.4h0M317.3 226.4h0M302.1 228.4h0M309.7 229.7h0M298.7 241.0h0M304.0 232.4h0M307.8 239.7h0M306.5 220.2h0M307.6 225.5h0M309.6 240.8h0M307.4 218.7h0M299.0 235.2h0M312.7 241.9h0M311.5 228.1h0M314.9 232.9h0" stroke="#dea468" stroke-width="1.15" stroke-linecap="round" stroke-opacity="0.68" fill="none"/>
<path d="M309.2 230.0h0M308.5 219.3h0M305.1 231.6h0M314.4 231.7h0M302.0 221.4h0M303.4 239.7h0M304.7 221.5h0M317.5 226.3h0M309.7 231.6h0M319.3 235.7h0M317.4 240.6h0M312.6 243.1h0M307.0 220.5h0M317.2 237.2h0M304.7 222.6h0M305.9 238.7h0M311.7 245.8h0M299.5 240.6h0M312.6 227.5h0M306.4 240.6h0M314.9 224.6h0M308.4 218.9h0M299.2 233.7h0M298.3 237.5h0M315.5 239.7h0M305.2 242.8h0M309.9 231.3h0M307.6 234.9h0M309.0 225.0h0M307.0 243.5h0M313.9 239.7h0M306.0 241.2h0M304.0 233.2h0M314.5 246.0h0M301.8 231.4h0M298.9 231.3h0M297.1 232.3h0M307.3 240.7h0M309.3 237.4h0M308.7 224.7h0M302.5 229.9h0M302.1 229.8h0M304.0 223.9h0M305.7 234.3h0M302.3 233.7h0M305.3 246.0h0M307.2 245.1h0M308.3 246.9h0M305.7 222.1h0M308.0 232.3h0M307.7 223.0h0M302.3 240.7h0M310.6 227.0h0M304.0 230.4h0M314.0 238.2h0M307.9 232.3h0M300.3 241.9h0M296.9 226.9h0M309.8 227.1h0M303.4 232.3h0M313.7 242.6h0M316.3 228.1h0M301.2 226.0h0M298.3 222.7h0M306.9 234.3h0M309.9 221.5h0M309.1 234.3h0M316.4 221.7h0M317.1 226.6h0M300.5 238.6h0M311.6 227.8h0M304.3 246.1h0" stroke="#d09250" stroke-width="1.15" stroke-linecap="round" stroke-opacity="0.68" fill="none"/>
<path d="M297.5 234.3h0M296.7 228.4h0M311.1 234.4h0M295.0 235.0h0M307.3 230.7h0M311.4 233.3h0M307.3 234.5h0M311.1 230.0h0M303.4 236.1h0M304.9 230.4h0M310.5 234.7h0M299.5 229.7h0M310.9 229.7h0M300.4 229.6h0M306.0 234.7h0M301.0 221.9h0M303.3 244.8h0M313.1 226.9h0M300.3 229.5h0M312.3 228.0h0M311.4 238.9h0M317.1 241.1h0M316.8 233.5h0M308.2 235.7h0M297.1 238.9h0M305.5 226.2h0M306.0 229.7h0M304.0 241.7h0M310.8 231.7h0M311.3 236.8h0M313.5 244.1h0M298.4 233.0h0M308.4 233.4h0M310.3 236.0h0M307.8 238.1h0M303.9 228.7h0M293.6 235.6h0M313.9 237.0h0M317.0 235.9h0M303.6 218.8h0M304.0 227.2h0M314.6 236.7h0M300.2 226.8h0M317.1 228.6h0M301.7 239.9h0M318.0 236.6h0M318.7 232.3h0M303.9 225.2h0M311.0 229.9h0M308.4 223.4h0M311.2 230.6h0M313.8 236.8h0M308.7 239.9h0M311.1 230.4h0M298.5 234.0h0M304.3 239.8h0M309.2 220.2h0M302.7 234.3h0M306.5 233.9h0M317.1 235.0h0M301.4 226.6h0M297.1 225.6h0M309.0 223.5h0M319.3 233.6h0M299.0 228.3h0M297.8 220.8h0M302.7 234.2h0M309.1 225.0h0M314.8 224.2h0M314.0 235.4h0M296.4 228.4h0M319.2 233.0h0M316.9 232.5h0M309.5 242.2h0" stroke="#eabe8c" stroke-width="1.15" stroke-linecap="round" stroke-opacity="0.68" fill="none"/>
<path d="M315.7 225.3h0M313.8 231.4h0M308.0 240.7h0M306.0 222.1h0M317.4 232.5h0M309.5 226.6h0M301.2 233.8h0M309.0 223.6h0M300.3 235.9h0M302.0 237.8h0M307.0 221.3h0M305.3 236.4h0M308.7 223.0h0M305.6 232.2h0M300.8 230.0h0M307.5 243.4h0M303.6 223.7h0M310.2 239.4h0M305.8 223.5h0M303.4 229.7h0M315.5 223.7h0M304.2 226.8h0M300.5 231.5h0M315.6 237.4h0M315.1 237.3h0M309.4 242.8h0M313.0 229.0h0M297.4 222.5h0M311.2 237.3h0M313.4 222.7h0M307.0 233.0h0M309.2 244.4h0M301.8 232.6h0M306.2 234.8h0M305.7 231.9h0M313.2 228.7h0M300.9 228.6h0M308.9 231.7h0M313.9 221.1h0M317.4 239.8h0M312.0 220.7h0M314.4 237.8h0M307.7 227.3h0M317.5 230.6h0M301.2 237.8h0M301.6 242.1h0M302.3 219.7h0M310.7 225.0h0M306.9 233.0h0M303.2 230.0h0M316.4 224.1h0M309.1 219.9h0M317.5 234.3h0M312.9 238.4h0M300.3 229.5h0M308.1 225.5h0M307.4 243.5h0M309.8 228.0h0M307.7 227.2h0M315.0 223.9h0M298.4 235.5h0M297.8 240.1h0M297.9 230.4h0M308.3 232.0h0M305.6 232.4h0M304.2 243.6h0M301.4 231.4h0M309.3 236.2h0M309.8 240.8h0" stroke="#e2ac74" stroke-width="1.15" stroke-linecap="round" stroke-opacity="0.68" fill="none"/>
<path d="M315.6 224.6h0M312.7 231.3h0M304.0 238.0h0M306.7 228.6h0M316.9 233.9h0M307.6 245.1h0M303.9 226.0h0M304.2 233.6h0M305.5 230.8h0M299.7 230.0h0M300.6 226.9h0M301.2 222.1h0M315.5 238.6h0M299.7 224.0h0M306.9 224.2h0M313.6 238.6h0M314.5 224.7h0M308.9 240.0h0M315.3 240.9h0M301.2 240.7h0M299.4 225.8h0M313.1 233.0h0M305.7 233.7h0M300.7 237.5h0M305.7 225.1h0M302.7 237.1h0M310.2 246.5h0M304.8 239.3h0M319.7 230.5h0M310.0 233.7h0M296.0 224.2h0M303.1 243.1h0M313.6 229.4h0M310.0 224.3h0M304.3 242.5h0M301.4 238.5h0M317.2 234.1h0M302.0 239.3h0M305.0 236.0h0M306.9 242.9h0M305.0 231.0h0M297.4 230.9h0M301.3 241.2h0M311.0 233.0h0M310.9 223.2h0M314.4 234.8h0M311.3 227.5h0M308.5 237.8h0M301.8 228.6h0M315.3 229.8h0M313.3 239.6h0M312.5 233.4h0M301.4 220.4h0M302.7 234.0h0M317.8 228.0h0M304.4 227.9h0M303.5 237.2h0M313.8 234.5h0M316.1 236.3h0M311.5 223.3h0M315.0 222.2h0M310.7 231.3h0M298.4 228.2h0M311.5 234.1h0M305.4 232.2h0M301.3 224.1h0M318.9 226.7h0M311.1 237.0h0M305.2 239.8h0M314.5 233.0h0M306.0 235.3h0M305.2 225.6h0M308.0 237.8h0M307.1 237.5h0M304.2 225.3h0M311.7 226.0h0M315.5 236.8h0M312.7 221.9h0M305.9 221.8h0" stroke="#f4d8b8" stroke-width="1.15" stroke-linecap="round" stroke-opacity="0.68" fill="none"/>
<ellipse cx="293.50" cy="222.60" rx="4.68" ry="6.48" fill="#b8dca8" fill-opacity="0.55" filter="url(#b1)"/>
<path d="M295.6 225.1h0M294.6 224.1h0M297.2 222.6h0M294.2 227.3h0M292.9 226.0h0M289.5 222.2h0M289.7 225.2h0M296.7 221.7h0M293.2 230.4h0M295.5 220.7h0M297.6 220.3h0M290.2 225.4h0" stroke="#9ccb8c" stroke-width="1.15" stroke-linecap="round" stroke-opacity="0.68" fill="none"/>
<path d="M293.3 219.4h0M297.3 221.8h0M296.8 219.3h0M291.0 221.6h0M288.8 222.5h0M294.6 227.5h0M297.5 225.3h0M295.8 222.6h0M295.3 226.6h0M295.2 221.2h0M290.7 221.1h0M290.8 224.8h0M292.9 227.4h0M291.1 217.6h0M290.2 226.4h0M289.6 220.0h0M295.4 217.3h0M291.3 225.4h0M292.6 226.0h0M292.3 221.6h0M292.8 219.0h0M289.8 225.8h0" stroke="#b4d8a4" stroke-width="1.15" stroke-linecap="round" stroke-opacity="0.68" fill="none"/>
<path d="M294.1 230.0h0M297.8 226.4h0M291.7 217.9h0M293.6 219.1h0M297.8 225.9h0M296.9 225.4h0M294.9 229.8h0M292.5 226.9h0M293.5 225.6h0M293.3 230.3h0M298.3 223.5h0M294.8 218.2h0M289.5 219.2h0M294.4 221.7h0M297.1 219.9h0" stroke="#88c078" stroke-width="1.15" stroke-linecap="round" stroke-opacity="0.68" fill="none"/>
<path d="M291.5 225.8h0M293.2 229.6h0M294.9 224.3h0M290.5 223.5h0M295.9 226.7h0M298.0 226.1h0M298.1 221.3h0M290.5 217.1h0M297.0 224.8h0M295.9 220.0h0M289.9 222.1h0M297.4 226.6h0M295.2 218.8h0M299.8 224.4h0M293.9 221.2h0M292.2 218.2h0M290.4 219.0h0M296.6 224.1h0M294.5 226.4h0M294.2 230.5h0M290.7 225.6h0" stroke="#c4e0b8" stroke-width="1.15" stroke-linecap="round" stroke-opacity="0.68" fill="none"/>
<path d="M328.0 235.8h0M325.0 238.1h0M329.3 239.7h0M329.1 240.2h0M328.0 240.1h0M329.5 236.2h0M327.9 235.8h0M327.3 234.7h0M329.3 235.5h0" stroke="#e0c0a0" stroke-width="1.15" stroke-linecap="round" stroke-opacity="0.68" fill="none"/>
<path d="M327.0 235.8h0M329.2 236.7h0M329.9 239.3h0M328.6 235.0h0M329.8 236.3h0M327.6 235.8h0M331.1 237.5h0" stroke="#e8ccb0" stroke-width="1.15" stroke-linecap="round" stroke-opacity="0.68" fill="none"/>
<ellipse cx="299.05" cy="180.2" rx="11.25" ry="15.9" transform="rotate(12 299.05 180.2)" fill="none" stroke="#262626" stroke-width="1.2" stroke-linecap="round" stroke-dasharray="0 2.3"/>
<ellipse cx="315.80" cy="184.6" rx="7.2" ry="8.0" fill="none" stroke="#262626" stroke-width="1.2" stroke-linecap="round" stroke-dasharray="0 2.3"/>
<ellipse cx="307.50" cy="232.0" rx="12.5" ry="14.0" fill="none" stroke="#262626" stroke-width="1.2" stroke-linecap="round" stroke-dasharray="0 2.3"/>
<line x1="279.30" y1="160.50" x2="279.30" y2="250.00" stroke="#231f20" stroke-width="1.25"/>
<line x1="279.30" y1="250.00" x2="381.30" y2="250.00" stroke="#231f20" stroke-width="1.25"/>
<text x="301.60" y="162.60" font-size="6.3" stroke="#231f20" stroke-width="0.15" textLength="27.00" lengthAdjust="spacingAndGlyphs">GMP-neu</text>
<text x="322.50" y="180.20" font-size="6.3" stroke="#231f20" stroke-width="0.15" textLength="32.30" lengthAdjust="spacingAndGlyphs">GMP-mono</text>
<text x="359.80" y="230.60" font-size="6.4" stroke="#231f20" stroke-width="0.15" textLength="26.00" lengthAdjust="spacingAndGlyphs">Erythroid</text>
<text x="278.40" y="261.40" font-size="6.6" stroke="#231f20" stroke-width="0.15" textLength="27.60" lengthAdjust="spacingAndGlyphs">HSC/MPP</text>
<line x1="291.80" y1="253.00" x2="299.00" y2="243.00" stroke="#231f20" stroke-width="0.8"/>
<text x="330.40" y="260.80" font-size="8.4" stroke="#231f20" stroke-width="0.15" text-anchor="middle" textLength="21.60" lengthAdjust="spacingAndGlyphs">UMAP1</text>
<text x="23.90" y="200.80" font-size="8.2" stroke="#231f20" stroke-width="0.15" text-anchor="middle" textLength="22.80" lengthAdjust="spacingAndGlyphs" transform="rotate(-90 23.90 200.80)">UMAP2</text>
<text x="45.80" y="173.30" font-size="5.8" text-anchor="middle" fill="#1a1a1a" font-weight="bold">12</text>
<text x="45.80" y="187.60" font-size="5.8" text-anchor="middle" fill="#1a1a1a" font-weight="bold">22</text>
<text x="63.80" y="188.40" font-size="5.8" text-anchor="middle" fill="#1a1a1a" font-weight="bold">9</text>
<text x="110.40" y="199.20" font-size="5.8" text-anchor="middle" fill="#1a1a1a" font-weight="bold">10</text>
<text x="97.00" y="213.20" font-size="5.8" text-anchor="middle" fill="#1a1a1a" font-weight="bold">29</text>
<text x="83.50" y="217.20" font-size="5.8" text-anchor="middle" fill="#1a1a1a" font-weight="bold">24</text>
<text x="101.80" y="229.30" font-size="5.8" text-anchor="middle" fill="#1a1a1a" font-weight="bold">18</text>
<text x="41.70" y="223.40" font-size="5.8" text-anchor="middle" fill="#1a1a1a" font-weight="bold">13</text>
<text x="55.20" y="236.00" font-size="5.8" text-anchor="middle" fill="#1a1a1a" font-weight="bold">19</text>
<text x="410.50" y="148.55" font-size="11.3" fill="#000" font-weight="bold">E</text>
<text x="445.00" y="149.50" font-size="9.0" stroke="#231f20" stroke-width="0.15" textLength="57.60" lengthAdjust="spacingAndGlyphs">HSC/MPP (c19)</text>
<line x1="449.30" y1="155.50" x2="449.30" y2="234.00" stroke="#231f20" stroke-width="1.25"/>
<line x1="446.80" y1="233.60" x2="449.30" y2="233.60" stroke="#231f20" stroke-width="1.125"/>
<text x="443.40" y="235.70" font-size="6.5" stroke="#231f20" stroke-width="0.15" text-anchor="end">0</text>
<line x1="446.80" y1="218.50" x2="449.30" y2="218.50" stroke="#231f20" stroke-width="1.125"/>
<text x="443.40" y="220.60" font-size="6.5" stroke="#231f20" stroke-width="0.15" text-anchor="end">200</text>
<line x1="446.80" y1="203.40" x2="449.30" y2="203.40" stroke="#231f20" stroke-width="1.125"/>
<text x="443.40" y="205.50" font-size="6.5" stroke="#231f20" stroke-width="0.15" text-anchor="end">400</text>
<line x1="446.80" y1="188.30" x2="449.30" y2="188.30" stroke="#231f20" stroke-width="1.125"/>
<text x="443.40" y="190.40" font-size="6.5" stroke="#231f20" stroke-width="0.15" text-anchor="end">600</text>
<line x1="446.80" y1="173.20" x2="449.30" y2="173.20" stroke="#231f20" stroke-width="1.125"/>
<text x="443.40" y="175.30" font-size="6.5" stroke="#231f20" stroke-width="0.15" text-anchor="end">800</text>
<line x1="446.80" y1="158.10" x2="449.30" y2="158.10" stroke="#231f20" stroke-width="1.125"/>
<text x="443.40" y="160.20" font-size="6.5" stroke="#231f20" stroke-width="0.15" text-anchor="end">1000</text>
<line x1="449.30" y1="234.00" x2="499.00" y2="234.00" stroke="#231f20" stroke-width="1.25"/>
<line x1="459.00" y1="234.00" x2="459.00" y2="236.50" stroke="#231f20" stroke-width="0.9"/>
<line x1="474.50" y1="234.00" x2="474.50" y2="236.50" stroke="#231f20" stroke-width="0.9"/>
<line x1="489.50" y1="234.00" x2="489.50" y2="236.50" stroke="#231f20" stroke-width="0.9"/>
<rect x="469.50" y="184.53" width="10.00" height="49.47" fill="#1f4e8a"/>
<rect x="484.50" y="173.20" width="10.00" height="60.80" fill="#3cb54a"/>
<line x1="474.50" y1="180.75" x2="474.50" y2="187.17" stroke="#111" stroke-width="0.8"/>
<line x1="473.00" y1="180.75" x2="476.00" y2="180.75" stroke="#111" stroke-width="0.8"/>
<line x1="473.00" y1="187.17" x2="476.00" y2="187.17" stroke="#111" stroke-width="0.8"/>
<line x1="489.50" y1="168.29" x2="489.50" y2="176.97" stroke="#111" stroke-width="0.8"/>
<line x1="488.00" y1="168.29" x2="491.00" y2="168.29" stroke="#111" stroke-width="0.8"/>
<line x1="488.00" y1="176.97" x2="491.00" y2="176.97" stroke="#111" stroke-width="0.8"/>
<circle cx="472.5" cy="181.50" r="1.3" fill="#111"/>
<circle cx="476.5" cy="180.75" r="1.3" fill="#111"/>
<circle cx="473.5" cy="185.28" r="1.3" fill="#111"/>
<circle cx="475" cy="187.17" r="1.3" fill="#111"/>
<circle cx="487.8" cy="175.47" r="1.3" fill="#111"/>
<circle cx="491" cy="174.71" r="1.3" fill="#111"/>
<circle cx="489" cy="168.29" r="1.3" fill="#111"/>
<circle cx="490.5" cy="176.97" r="1.3" fill="#111"/>
<circle cx="488.5" cy="173.20" r="1.3" fill="#111"/>
<circle cx="455.5" cy="233.40" r="1.25" fill="#111"/>
<circle cx="458" cy="233.40" r="1.25" fill="#111"/>
<circle cx="460.5" cy="233.40" r="1.25" fill="#111"/>
<circle cx="463" cy="233.40" r="1.25" fill="#111"/>
<text x="424.90" y="193.80" font-size="7.9" stroke="#231f20" stroke-width="0.15" text-anchor="middle" textLength="64.50" lengthAdjust="spacingAndGlyphs" transform="rotate(-90 424.90 193.80)">ME expression (CPM)</text>
<text x="462.10" y="242.20" font-size="6.6" stroke="#231f20" stroke-width="0.15" text-anchor="end" transform="rotate(-45 462.10 242.20)">Control</text>
<text x="477.50" y="242.20" font-size="6.6" stroke="#231f20" stroke-width="0.15" text-anchor="end" transform="rotate(-45 477.50 242.20)">ME; Mll3 +/+</text>
<text x="493.50" y="242.20" font-size="6.6" stroke="#231f20" stroke-width="0.15" text-anchor="end" transform="rotate(-45 493.50 242.20)">ME; Mll3 Δ/Δ</text>
<text x="8.50" y="283.45" font-size="11.3" fill="#000" font-weight="bold">F</text>
<rect x="39.00" y="279.40" width="5.60" height="6.30" fill="#d0122f"/>
<text x="47.60" y="285.80" font-size="6.6" stroke="#231f20" stroke-width="0.15" textLength="21.30" lengthAdjust="spacingAndGlyphs">Control</text>
<rect x="39.00" y="287.60" width="5.60" height="6.30" fill="#1e5593"/>
<text x="47.60" y="293.90" font-size="6.6" stroke="#231f20" stroke-width="0.15">ME</text>
<rect x="39.00" y="297.50" width="5.60" height="6.30" fill="#37b34a"/>
<text x="47.60" y="303.80" font-size="6.6" stroke="#231f20" stroke-width="0.15" textLength="36.30" lengthAdjust="spacingAndGlyphs">ME/Mll3 Δ/Δ</text>
<line x1="48.10" y1="311.40" x2="48.10" y2="383.20" stroke="#231f20" stroke-width="1.25"/>
<line x1="45.30" y1="383.20" x2="48.10" y2="383.20" stroke="#231f20" stroke-width="1.125"/>
<text x="42.60" y="385.30" font-size="6.5" stroke="#231f20" stroke-width="0.15" text-anchor="end">0</text>
<line x1="45.30" y1="369.50" x2="48.10" y2="369.50" stroke="#231f20" stroke-width="1.125"/>
<text x="42.60" y="371.60" font-size="6.5" stroke="#231f20" stroke-width="0.15" text-anchor="end">10</text>
<line x1="45.30" y1="355.80" x2="48.10" y2="355.80" stroke="#231f20" stroke-width="1.125"/>
<text x="42.60" y="357.90" font-size="6.5" stroke="#231f20" stroke-width="0.15" text-anchor="end">20</text>
<line x1="45.30" y1="342.10" x2="48.10" y2="342.10" stroke="#231f20" stroke-width="1.125"/>
<text x="42.60" y="344.20" font-size="6.5" stroke="#231f20" stroke-width="0.15" text-anchor="end">30</text>
<line x1="45.30" y1="328.40" x2="48.10" y2="328.40" stroke="#231f20" stroke-width="1.125"/>
<text x="42.60" y="330.50" font-size="6.5" stroke="#231f20" stroke-width="0.15" text-anchor="end">40</text>
<line x1="45.30" y1="314.70" x2="48.10" y2="314.70" stroke="#231f20" stroke-width="1.125"/>
<text x="42.60" y="316.80" font-size="6.5" stroke="#231f20" stroke-width="0.15" text-anchor="end">50</text>
<line x1="48.10" y1="383.20" x2="150.00" y2="383.20" stroke="#231f20" stroke-width="1.25"/>
<line x1="64.90" y1="383.20" x2="64.90" y2="385.80" stroke="#231f20" stroke-width="0.9"/>
<line x1="99.50" y1="383.20" x2="99.50" y2="385.80" stroke="#231f20" stroke-width="0.9"/>
<line x1="133.30" y1="383.20" x2="133.30" y2="385.80" stroke="#231f20" stroke-width="0.9"/>
<rect x="52.40" y="328.40" width="8.40" height="54.80" fill="#d0122f"/>
<rect x="60.70" y="342.10" width="8.40" height="41.10" fill="#1e5593"/>
<rect x="69.00" y="342.51" width="8.40" height="40.69" fill="#37b34a"/>
<rect x="86.80" y="352.38" width="8.40" height="30.82" fill="#d0122f"/>
<rect x="95.10" y="328.40" width="8.40" height="54.80" fill="#1e5593"/>
<rect x="103.40" y="331.82" width="8.40" height="51.38" fill="#37b34a"/>
<rect x="120.80" y="366.07" width="8.40" height="17.12" fill="#d0122f"/>
<rect x="129.10" y="321.14" width="8.40" height="62.06" fill="#1e5593"/>
<rect x="137.40" y="325.39" width="8.40" height="57.81" fill="#37b34a"/>
<path d="M59.95,316.75L59.95,319.05M58.95,317.32L60.95,318.47M58.95,318.47L60.95,317.32M62.70,316.75L62.70,319.05M61.70,317.32L63.70,318.47M61.70,318.47L63.70,317.32M65.45,316.75L65.45,319.05M64.45,317.32L66.45,318.47M64.45,318.47L66.45,317.32" stroke="#1a1a1a" stroke-width="0.75" fill="none"/>
<path d="M67.05,323.35L67.05,325.65M66.05,323.93L68.05,325.07M66.05,325.07L68.05,323.93M69.80,323.35L69.80,325.65M68.80,323.93L70.80,325.07M68.80,325.07L70.80,323.93M72.55,323.35L72.55,325.65M71.55,323.93L73.55,325.07M71.55,325.07L73.55,323.93" stroke="#1a1a1a" stroke-width="0.75" fill="none"/>
<path d="M93.25,308.65L93.25,310.95M92.25,309.23L94.25,310.38M92.25,310.38L94.25,309.23M96.00,308.65L96.00,310.95M95.00,309.23L97.00,310.38M95.00,310.38L97.00,309.23M98.75,308.65L98.75,310.95M97.75,309.23L99.75,310.38M97.75,310.38L99.75,309.23" stroke="#1a1a1a" stroke-width="0.75" fill="none"/>
<path d="M102.65,316.75L102.65,319.05M101.65,317.32L103.65,318.47M101.65,318.47L103.65,317.32M105.40,316.75L105.40,319.05M104.40,317.32L106.40,318.47M104.40,318.47L106.40,317.32M108.15,316.75L108.15,319.05M107.15,317.32L109.15,318.47M107.15,318.47L109.15,317.32" stroke="#1a1a1a" stroke-width="0.75" fill="none"/>
<path d="M126.75,305.25L126.75,307.55M125.75,305.82L127.75,306.97M125.75,306.97L127.75,305.82M129.50,305.25L129.50,307.55M128.50,305.82L130.50,306.97M128.50,306.97L130.50,305.82M132.25,305.25L132.25,307.55M131.25,305.82L133.25,306.97M131.25,306.97L133.25,305.82" stroke="#1a1a1a" stroke-width="0.75" fill="none"/>
<path d="M136.15,312.85L136.15,315.15M135.15,313.43L137.15,314.57M135.15,314.57L137.15,313.43M138.90,312.85L138.90,315.15M137.90,313.43L139.90,314.57M137.90,314.57L139.90,313.43M141.65,312.85L141.65,315.15M140.65,313.43L142.65,314.57M140.65,314.57L142.65,313.43" stroke="#1a1a1a" stroke-width="0.75" fill="none"/>
<text x="64.90" y="394.90" font-size="7.0" stroke="#231f20" stroke-width="0.15" text-anchor="middle">19</text>
<text x="99.50" y="394.90" font-size="7.0" stroke="#231f20" stroke-width="0.15" text-anchor="middle">22</text>
<text x="133.30" y="394.90" font-size="7.0" stroke="#231f20" stroke-width="0.15" text-anchor="middle">12</text>
<text x="150.50" y="394.60" font-size="7.0" stroke="#231f20" stroke-width="0.15" textLength="20.80" lengthAdjust="spacingAndGlyphs">Cluster</text>
<line x1="52.00" y1="397.20" x2="80.30" y2="397.20" stroke="#231f20" stroke-width="0.8"/>
<line x1="84.80" y1="397.20" x2="148.80" y2="397.20" stroke="#231f20" stroke-width="0.8"/>
<text x="65.80" y="406.90" font-size="7.2" stroke="#231f20" stroke-width="0.15" text-anchor="middle" textLength="27.60" lengthAdjust="spacingAndGlyphs">HSC/MPP</text>
<text x="116.80" y="406.90" font-size="7.2" stroke="#231f20" stroke-width="0.15" text-anchor="middle" textLength="32.80" lengthAdjust="spacingAndGlyphs">pGM/GMP</text>
<text x="20.80" y="346.80" font-size="7.4" stroke="#231f20" stroke-width="0.15" text-anchor="middle" textLength="59.30" lengthAdjust="spacingAndGlyphs" transform="rotate(-90 20.80 346.80)">Percent of total cells</text>
<text x="28.70" y="347.10" font-size="7.4" stroke="#231f20" stroke-width="0.15" text-anchor="middle" textLength="53.00" lengthAdjust="spacingAndGlyphs" transform="rotate(-90 28.70 347.10)">mapped to cluster</text>
<text x="180.20" y="283.50" font-size="11.3" fill="#000" font-weight="bold">G</text>
<line x1="212.70" y1="293.80" x2="212.70" y2="382.20" stroke="#231f20" stroke-width="1.25"/>
<line x1="210.20" y1="378.10" x2="212.70" y2="378.10" stroke="#231f20" stroke-width="1.125"/>
<text x="207.80" y="380.20" font-size="6.5" stroke="#231f20" stroke-width="0.15" text-anchor="end">0.00</text>
<line x1="210.20" y1="357.90" x2="212.70" y2="357.90" stroke="#231f20" stroke-width="1.125"/>
<text x="207.80" y="360.00" font-size="6.5" stroke="#231f20" stroke-width="0.15" text-anchor="end">0.25</text>
<line x1="210.20" y1="337.70" x2="212.70" y2="337.70" stroke="#231f20" stroke-width="1.125"/>
<text x="207.80" y="339.80" font-size="6.5" stroke="#231f20" stroke-width="0.15" text-anchor="end">0.50</text>
<line x1="210.20" y1="317.50" x2="212.70" y2="317.50" stroke="#231f20" stroke-width="1.125"/>
<text x="207.80" y="319.60" font-size="6.5" stroke="#231f20" stroke-width="0.15" text-anchor="end">0.75</text>
<line x1="210.20" y1="297.30" x2="212.70" y2="297.30" stroke="#231f20" stroke-width="1.125"/>
<text x="207.80" y="299.40" font-size="6.5" stroke="#231f20" stroke-width="0.15" text-anchor="end">1.00</text>
<line x1="212.70" y1="382.20" x2="272.70" y2="382.20" stroke="#231f20" stroke-width="1.25"/>
<line x1="224.00" y1="297.30" x2="224.00" y2="352.24" stroke="#777" stroke-width="1.1"/>
<line x1="224.00" y1="375.68" x2="224.00" y2="378.60" stroke="#777" stroke-width="1.1"/>
<rect x="217.30" y="352.24" width="13.40" height="23.43" fill="#d0122f"/>
<line x1="217.30" y1="368.81" x2="230.70" y2="368.81" stroke="#6a0d1c" stroke-width="1.6"/>
<line x1="224.00" y1="382.20" x2="224.00" y2="385.00" stroke="#231f20" stroke-width="0.9"/>
<line x1="243.00" y1="297.30" x2="243.00" y2="331.24" stroke="#777" stroke-width="1.1"/>
<line x1="243.00" y1="374.06" x2="243.00" y2="378.60" stroke="#777" stroke-width="1.1"/>
<rect x="236.50" y="331.24" width="13.10" height="42.82" fill="#1e5593"/>
<line x1="236.50" y1="359.52" x2="249.60" y2="359.52" stroke="#0e2a4e" stroke-width="1.6"/>
<line x1="243.00" y1="382.20" x2="243.00" y2="385.00" stroke="#231f20" stroke-width="0.9"/>
<line x1="261.90" y1="297.30" x2="261.90" y2="333.66" stroke="#777" stroke-width="1.1"/>
<line x1="261.90" y1="374.06" x2="261.90" y2="378.60" stroke="#777" stroke-width="1.1"/>
<rect x="254.90" y="333.66" width="13.90" height="40.40" fill="#37b34a"/>
<line x1="254.90" y1="360.32" x2="268.80" y2="360.32" stroke="#134d20" stroke-width="1.6"/>
<line x1="261.90" y1="382.20" x2="261.90" y2="385.00" stroke="#231f20" stroke-width="0.9"/>
<path d="M240.45,286.45L240.45,288.75M239.45,287.03L241.45,288.18M239.45,288.18L241.45,287.03M243.20,286.45L243.20,288.75M242.20,287.03L244.20,288.18M242.20,288.18L244.20,287.03M245.95,286.45L245.95,288.75M244.95,287.03L246.95,288.18M244.95,288.18L246.95,287.03" stroke="#1a1a1a" stroke-width="0.75" fill="none"/>
<path d="M259.15,286.45L259.15,288.75M258.15,287.03L260.15,288.18M258.15,288.18L260.15,287.03M261.90,286.45L261.90,288.75M260.90,287.03L262.90,288.18M260.90,288.18L262.90,287.03M264.65,286.45L264.65,288.75M263.65,287.03L265.65,288.18M263.65,288.18L265.65,287.03" stroke="#1a1a1a" stroke-width="0.75" fill="none"/>
<text x="189.00" y="338.80" font-size="7.6" stroke="#231f20" stroke-width="0.15" text-anchor="middle" textLength="67.50" lengthAdjust="spacingAndGlyphs" transform="rotate(-90 189.00 338.80)">Myeloid identity score</text>
<text x="227.20" y="391.00" font-size="6.6" stroke="#231f20" stroke-width="0.15" text-anchor="end" transform="rotate(-45 227.20 391.00)">Control</text>
<text x="246.20" y="391.60" font-size="6.6" stroke="#231f20" stroke-width="0.15" text-anchor="end" transform="rotate(-45 246.20 391.60)">ME</text>
<text x="264.40" y="391.60" font-size="6.6" stroke="#231f20" stroke-width="0.15" text-anchor="end" transform="rotate(-45 264.40 391.60)">ME/</text>
<text x="271.00" y="397.80" font-size="6.6" stroke="#231f20" stroke-width="0.15" text-anchor="end" transform="rotate(-45 271.00 397.80)">Mll3 Δ/Δ</text>
<text x="285.10" y="283.45" font-size="11.3" fill="#000" font-weight="bold">H</text>
<line x1="315.80" y1="306.50" x2="315.80" y2="371.90" stroke="#231f20" stroke-width="1.25"/>
<line x1="313.30" y1="369.50" x2="315.80" y2="369.50" stroke="#231f20" stroke-width="1.125"/>
<text x="311.30" y="371.80" font-size="6.5" stroke="#231f20" stroke-width="0.15" text-anchor="end">0</text>
<line x1="313.30" y1="357.60" x2="315.80" y2="357.60" stroke="#231f20" stroke-width="1.125"/>
<text x="311.30" y="359.90" font-size="6.5" stroke="#231f20" stroke-width="0.15" text-anchor="end">2</text>
<line x1="313.30" y1="345.70" x2="315.80" y2="345.70" stroke="#231f20" stroke-width="1.125"/>
<text x="311.30" y="348.00" font-size="6.5" stroke="#231f20" stroke-width="0.15" text-anchor="end">4</text>
<line x1="313.30" y1="333.80" x2="315.80" y2="333.80" stroke="#231f20" stroke-width="1.125"/>
<text x="311.30" y="336.10" font-size="6.5" stroke="#231f20" stroke-width="0.15" text-anchor="end">6</text>
<line x1="313.30" y1="321.90" x2="315.80" y2="321.90" stroke="#231f20" stroke-width="1.125"/>
<text x="311.30" y="324.20" font-size="6.5" stroke="#231f20" stroke-width="0.15" text-anchor="end">8</text>
<line x1="313.30" y1="310.00" x2="315.80" y2="310.00" stroke="#231f20" stroke-width="1.125"/>
<text x="311.30" y="312.30" font-size="6.5" stroke="#231f20" stroke-width="0.15" text-anchor="end">10</text>
<line x1="315.80" y1="371.90" x2="376.80" y2="371.90" stroke="#231f20" stroke-width="1.25"/>
<line x1="315.80" y1="371.90" x2="315.80" y2="374.50" stroke="#231f20" stroke-width="0.9"/>
<text x="314.30" y="381.80" font-size="6.5" stroke="#231f20" stroke-width="0.15" text-anchor="middle">−3</text>
<line x1="325.80" y1="371.90" x2="325.80" y2="374.50" stroke="#231f20" stroke-width="0.9"/>
<text x="324.30" y="381.80" font-size="6.5" stroke="#231f20" stroke-width="0.15" text-anchor="middle">−2</text>
<line x1="335.80" y1="371.90" x2="335.80" y2="374.50" stroke="#231f20" stroke-width="0.9"/>
<text x="334.30" y="381.80" font-size="6.5" stroke="#231f20" stroke-width="0.15" text-anchor="middle">−1</text>
<line x1="345.80" y1="371.90" x2="345.80" y2="374.50" stroke="#231f20" stroke-width="0.9"/>
<text x="345.80" y="381.80" font-size="6.5" stroke="#231f20" stroke-width="0.15" text-anchor="middle">0</text>
<line x1="355.80" y1="371.90" x2="355.80" y2="374.50" stroke="#231f20" stroke-width="0.9"/>
<text x="355.80" y="381.80" font-size="6.5" stroke="#231f20" stroke-width="0.15" text-anchor="middle">1</text>
<line x1="365.80" y1="371.90" x2="365.80" y2="374.50" stroke="#231f20" stroke-width="0.9"/>
<text x="365.80" y="381.80" font-size="6.5" stroke="#231f20" stroke-width="0.15" text-anchor="middle">2</text>
<line x1="375.80" y1="371.90" x2="375.80" y2="374.50" stroke="#231f20" stroke-width="0.9"/>
<text x="375.80" y="381.80" font-size="6.5" stroke="#231f20" stroke-width="0.15" text-anchor="middle">3</text>
<line x1="315.80" y1="361.76" x2="375.30" y2="361.76" stroke="#c4c4c4" stroke-width="1.5"/>
<text x="313.50" y="288.30" font-size="8.6" stroke="#231f20" stroke-width="0.15" textLength="58.80" lengthAdjust="spacingAndGlyphs">HSC/MPP (c19)</text>
<circle cx="325.80" cy="310.00" r="1.3" fill="#3cb54a"/>
<circle cx="326.80" cy="360.57" r="1.15" fill="#3cb54a"/>
<circle cx="328.11" cy="361.69" r="1.15" fill="#3cb54a"/>
<circle cx="329.43" cy="362.81" r="1.15" fill="#3cb54a"/>
<circle cx="330.74" cy="363.92" r="1.15" fill="#3cb54a"/>
<circle cx="332.05" cy="365.04" r="1.15" fill="#3cb54a"/>
<circle cx="333.36" cy="366.15" r="1.15" fill="#3cb54a"/>
<circle cx="334.68" cy="367.27" r="1.15" fill="#3cb54a"/>
<circle cx="335.99" cy="368.38" r="1.15" fill="#3cb54a"/>
<circle cx="337.30" cy="369.50" r="1.15" fill="#3cb54a"/>
<circle cx="365.80" cy="310.00" r="1.3" fill="#1e4f8a"/>
<circle cx="370.00" cy="310.00" r="1.3" fill="#1e4f8a"/>
<circle cx="365.80" cy="349.27" r="1.3" fill="#1e4f8a"/>
<circle cx="365.30" cy="349.87" r="1.3" fill="#1e4f8a"/>
<circle cx="353.80" cy="369.50" r="1.15" fill="#1e4f8a"/>
<circle cx="354.62" cy="369.24" r="1.15" fill="#1e4f8a"/>
<circle cx="355.44" cy="368.72" r="1.15" fill="#1e4f8a"/>
<circle cx="356.25" cy="368.01" r="1.15" fill="#1e4f8a"/>
<circle cx="357.07" cy="367.14" r="1.15" fill="#1e4f8a"/>
<circle cx="357.89" cy="366.13" r="1.15" fill="#1e4f8a"/>
<circle cx="358.71" cy="364.99" r="1.15" fill="#1e4f8a"/>
<circle cx="359.53" cy="363.73" r="1.15" fill="#1e4f8a"/>
<circle cx="360.35" cy="362.35" r="1.15" fill="#1e4f8a"/>
<circle cx="361.16" cy="360.87" r="1.15" fill="#1e4f8a"/>
<circle cx="361.98" cy="359.28" r="1.15" fill="#1e4f8a"/>
<circle cx="362.80" cy="357.60" r="1.15" fill="#1e4f8a"/>
<text x="322.70" y="327.60" font-size="6.4" stroke="#231f20" stroke-width="0.15" textLength="33.50" lengthAdjust="spacingAndGlyphs">Myc targets</text>
<text x="366.50" y="324.80" font-size="6.4" stroke="#231f20" stroke-width="0.15" textLength="33.50" lengthAdjust="spacingAndGlyphs">E2F targets</text>
<text x="320.40" y="342.20" font-size="6.4" stroke="#231f20" stroke-width="0.15" textLength="49.10" lengthAdjust="spacingAndGlyphs">G2M Checkpoint</text>
<line x1="356.00" y1="319.80" x2="364.80" y2="313.60" stroke="#222" stroke-width="0.65"/>
<line x1="375.60" y1="318.80" x2="371.80" y2="313.20" stroke="#222" stroke-width="0.65"/>
<line x1="362.60" y1="344.00" x2="365.80" y2="348.50" stroke="#222" stroke-width="0.6"/>
<text x="345.80" y="393.00" font-size="8.8" stroke="#231f20" stroke-width="0.15" text-anchor="middle" textLength="12.50" lengthAdjust="spacingAndGlyphs">NES</text>
<text x="290.60" y="392.80" font-size="6.4" stroke="#5cba5c" stroke-width="0.15" fill="#5cba5c" textLength="36.50" lengthAdjust="spacingAndGlyphs">ME/Mll3 Δ/Δ</text>
<text x="373.80" y="392.80" font-size="6.4" stroke="#3a6eb0" stroke-width="0.15" fill="#3a6eb0" textLength="8.60" lengthAdjust="spacingAndGlyphs">ME</text>
<text x="297.20" y="338.50" font-size="7.6" stroke="#231f20" stroke-width="0.15" text-anchor="middle" textLength="25.60" lengthAdjust="spacingAndGlyphs" transform="rotate(-90 297.20 338.50)">-log FDR</text>
<line x1="434.60" y1="303.00" x2="434.60" y2="371.90" stroke="#231f20" stroke-width="1.25"/>
<line x1="432.10" y1="369.50" x2="434.60" y2="369.50" stroke="#231f20" stroke-width="1.125"/>
<text x="430.10" y="371.80" font-size="6.5" stroke="#231f20" stroke-width="0.15" text-anchor="end">0</text>
<line x1="432.10" y1="356.90" x2="434.60" y2="356.90" stroke="#231f20" stroke-width="1.125"/>
<text x="430.10" y="359.20" font-size="6.5" stroke="#231f20" stroke-width="0.15" text-anchor="end">2</text>
<line x1="432.10" y1="344.30" x2="434.60" y2="344.30" stroke="#231f20" stroke-width="1.125"/>
<text x="430.10" y="346.60" font-size="6.5" stroke="#231f20" stroke-width="0.15" text-anchor="end">4</text>
<line x1="432.10" y1="331.70" x2="434.60" y2="331.70" stroke="#231f20" stroke-width="1.125"/>
<text x="430.10" y="334.00" font-size="6.5" stroke="#231f20" stroke-width="0.15" text-anchor="end">6</text>
<line x1="432.10" y1="319.10" x2="434.60" y2="319.10" stroke="#231f20" stroke-width="1.125"/>
<text x="430.10" y="321.40" font-size="6.5" stroke="#231f20" stroke-width="0.15" text-anchor="end">8</text>
<line x1="432.10" y1="306.50" x2="434.60" y2="306.50" stroke="#231f20" stroke-width="1.125"/>
<text x="430.10" y="308.80" font-size="6.5" stroke="#231f20" stroke-width="0.15" text-anchor="end">10</text>
<line x1="434.60" y1="371.90" x2="499.50" y2="371.90" stroke="#231f20" stroke-width="1.25"/>
<line x1="434.60" y1="371.90" x2="434.60" y2="374.50" stroke="#231f20" stroke-width="0.9"/>
<text x="433.10" y="381.80" font-size="6.5" stroke="#231f20" stroke-width="0.15" text-anchor="middle">−3</text>
<line x1="445.25" y1="371.90" x2="445.25" y2="374.50" stroke="#231f20" stroke-width="0.9"/>
<text x="443.75" y="381.80" font-size="6.5" stroke="#231f20" stroke-width="0.15" text-anchor="middle">−2</text>
<line x1="455.90" y1="371.90" x2="455.90" y2="374.50" stroke="#231f20" stroke-width="0.9"/>
<text x="454.40" y="381.80" font-size="6.5" stroke="#231f20" stroke-width="0.15" text-anchor="middle">−1</text>
<line x1="466.55" y1="371.90" x2="466.55" y2="374.50" stroke="#231f20" stroke-width="0.9"/>
<text x="466.55" y="381.80" font-size="6.5" stroke="#231f20" stroke-width="0.15" text-anchor="middle">0</text>
<line x1="477.20" y1="371.90" x2="477.20" y2="374.50" stroke="#231f20" stroke-width="0.9"/>
<text x="477.20" y="381.80" font-size="6.5" stroke="#231f20" stroke-width="0.15" text-anchor="middle">1</text>
<line x1="487.85" y1="371.90" x2="487.85" y2="374.50" stroke="#231f20" stroke-width="0.9"/>
<text x="487.85" y="381.80" font-size="6.5" stroke="#231f20" stroke-width="0.15" text-anchor="middle">2</text>
<line x1="498.50" y1="371.90" x2="498.50" y2="374.50" stroke="#231f20" stroke-width="0.9"/>
<text x="498.50" y="381.80" font-size="6.5" stroke="#231f20" stroke-width="0.15" text-anchor="middle">3</text>
<line x1="434.60" y1="361.31" x2="498.00" y2="361.31" stroke="#c4c4c4" stroke-width="1.5"/>
<text x="431.80" y="288.30" font-size="8.6" stroke="#231f20" stroke-width="0.15" textLength="62.80" lengthAdjust="spacingAndGlyphs">pGM/GMP (c22)</text>
<circle cx="446.85" cy="358.48" r="1.15" fill="#3cb54a"/>
<circle cx="448.03" cy="359.70" r="1.15" fill="#3cb54a"/>
<circle cx="449.21" cy="360.93" r="1.15" fill="#3cb54a"/>
<circle cx="450.40" cy="362.15" r="1.15" fill="#3cb54a"/>
<circle cx="451.58" cy="363.38" r="1.15" fill="#3cb54a"/>
<circle cx="452.76" cy="364.60" r="1.15" fill="#3cb54a"/>
<circle cx="453.95" cy="365.82" r="1.15" fill="#3cb54a"/>
<circle cx="455.13" cy="367.05" r="1.15" fill="#3cb54a"/>
<circle cx="456.31" cy="368.27" r="1.15" fill="#3cb54a"/>
<circle cx="457.50" cy="369.50" r="1.15" fill="#3cb54a"/>
<circle cx="487.85" cy="306.50" r="1.3" fill="#1e4f8a"/>
<circle cx="489.98" cy="306.50" r="1.3" fill="#1e4f8a"/>
<circle cx="495.31" cy="306.50" r="1.3" fill="#1e4f8a"/>
<circle cx="487.85" cy="350.60" r="1.3" fill="#1e4f8a"/>
<circle cx="486.25" cy="355.01" r="1.3" fill="#1e4f8a"/>
<circle cx="474.00" cy="369.50" r="1.15" fill="#1e4f8a"/>
<circle cx="474.97" cy="369.23" r="1.15" fill="#1e4f8a"/>
<circle cx="475.94" cy="368.68" r="1.15" fill="#1e4f8a"/>
<circle cx="476.91" cy="367.92" r="1.15" fill="#1e4f8a"/>
<circle cx="477.88" cy="367.00" r="1.15" fill="#1e4f8a"/>
<circle cx="478.85" cy="365.93" r="1.15" fill="#1e4f8a"/>
<circle cx="479.81" cy="364.72" r="1.15" fill="#1e4f8a"/>
<circle cx="480.78" cy="363.39" r="1.15" fill="#1e4f8a"/>
<circle cx="481.75" cy="361.93" r="1.15" fill="#1e4f8a"/>
<circle cx="482.72" cy="360.36" r="1.15" fill="#1e4f8a"/>
<circle cx="483.69" cy="358.68" r="1.15" fill="#1e4f8a"/>
<circle cx="484.66" cy="356.90" r="1.15" fill="#1e4f8a"/>
<text x="455.00" y="301.80" font-size="6.4" stroke="#231f20" stroke-width="0.15" textLength="33.80" lengthAdjust="spacingAndGlyphs">Myc targets</text>
<text x="455.00" y="321.40" font-size="6.4" stroke="#231f20" stroke-width="0.15" textLength="25.80" lengthAdjust="spacingAndGlyphs">mTORC1</text>
<text x="485.80" y="326.20" font-size="6.4" stroke="#231f20" stroke-width="0.15" textLength="23.80" lengthAdjust="spacingAndGlyphs">Ox Phos</text>
<text x="461.00" y="335.70" font-size="6.4" stroke="#231f20" stroke-width="0.15" textLength="48.60" lengthAdjust="spacingAndGlyphs">G2M Checkpoint</text>
<line x1="490.00" y1="303.20" x2="494.60" y2="306.00" stroke="#222" stroke-width="0.6"/>
<line x1="480.80" y1="316.30" x2="488.80" y2="307.90" stroke="#222" stroke-width="0.6"/>
<line x1="492.50" y1="320.30" x2="490.80" y2="308.80" stroke="#222" stroke-width="0.6"/>
<text x="466.80" y="393.00" font-size="8.8" stroke="#231f20" stroke-width="0.15" text-anchor="middle" textLength="12.50" lengthAdjust="spacingAndGlyphs">NES</text>
<text x="410.60" y="392.80" font-size="6.4" stroke="#5cba5c" stroke-width="0.15" fill="#5cba5c" textLength="37.00" lengthAdjust="spacingAndGlyphs">ME/Mll3 Δ/Δ</text>
<text x="496.20" y="392.80" font-size="6.4" stroke="#3a6eb0" stroke-width="0.15" fill="#3a6eb0" textLength="8.60" lengthAdjust="spacingAndGlyphs">ME</text>
<text x="416.20" y="336.20" font-size="7.6" stroke="#231f20" stroke-width="0.15" text-anchor="middle" textLength="25.60" lengthAdjust="spacingAndGlyphs" transform="rotate(-90 416.20 336.20)">-log FDR</text>
<text x="8.50" y="434.20" font-size="11.3" fill="#000" font-weight="bold">I</text>
<text x="48.50" y="447.50" font-size="8.2" stroke="#231f20" stroke-width="0.15" textLength="17.60" lengthAdjust="spacingAndGlyphs">Pbx1</text>
<line x1="32.30" y1="462.50" x2="32.30" y2="527.90" stroke="#231f20" stroke-width="1.25"/>
<line x1="29.80" y1="524.70" x2="32.30" y2="524.70" stroke="#231f20" stroke-width="1.125"/>
<text x="27.80" y="526.80" font-size="6.5" stroke="#231f20" stroke-width="0.15" text-anchor="end">0</text>
<line x1="29.80" y1="503.70" x2="32.30" y2="503.70" stroke="#231f20" stroke-width="1.125"/>
<text x="27.80" y="505.80" font-size="6.5" stroke="#231f20" stroke-width="0.15" text-anchor="end">1</text>
<line x1="29.80" y1="482.70" x2="32.30" y2="482.70" stroke="#231f20" stroke-width="1.125"/>
<text x="27.80" y="484.80" font-size="6.5" stroke="#231f20" stroke-width="0.15" text-anchor="end">2</text>
<line x1="32.30" y1="527.90" x2="86.00" y2="527.90" stroke="#231f20" stroke-width="1.25"/>
<path d="M50.00,525.40 L50.00,524.50 L48.00,523.50 L45.80,522.20 L44.60,520.70 L44.00,517.70 L43.55,507.70 L43.10,490.40 L42.10,490.40 L41.65,507.70 L41.20,517.70 L40.60,520.70 L39.40,522.20 L37.20,523.50 L35.20,524.50 L35.20,525.40Z" stroke="none" stroke-width="0" fill="#c8102e"/>
<line x1="42.60" y1="469.70" x2="42.60" y2="490.90" stroke="#1a1a1a" stroke-width="1.15" stroke-dasharray="1.1 0.35"/>
<rect x="51.50" y="523.90" width="15.60" height="1.80" fill="#5e5e5e"/>
<line x1="59.30" y1="464.20" x2="59.30" y2="524.70" stroke="#1a1a1a" stroke-width="1.1" stroke-dasharray="1.2 0.3"/>
<path d="M83.90,525.40 L83.90,524.50 L81.90,523.50 L79.70,522.20 L78.50,520.70 L77.90,517.70 L77.45,507.70 L77.00,490.40 L76.00,490.40 L75.55,507.70 L75.10,517.70 L74.50,520.70 L73.30,522.20 L71.10,523.50 L69.10,524.50 L69.10,525.40Z" stroke="none" stroke-width="0" fill="#2fb34a"/>
<line x1="76.50" y1="467.80" x2="76.50" y2="490.90" stroke="#1a1a1a" stroke-width="1.15" stroke-dasharray="1.1 0.35"/>
<line x1="39.20" y1="463.80" x2="56.30" y2="463.80" stroke="#9a9a9a" stroke-width="1.3"/>
<path d="M45.35,459.50L45.35,461.50M44.48,460.00L46.22,461.00M44.48,461.00L46.22,460.00M47.75,459.50L47.75,461.50M46.88,460.00L48.62,461.00M46.88,461.00L48.62,460.00M50.15,459.50L50.15,461.50M49.28,460.00L51.02,461.00M49.28,461.00L51.02,460.00" stroke="#1a1a1a" stroke-width="0.75" fill="none"/>
<line x1="60.00" y1="463.80" x2="77.00" y2="463.80" stroke="#9a9a9a" stroke-width="1.3"/>
<path d="M66.10,459.50L66.10,461.50M65.23,460.00L66.97,461.00M65.23,461.00L66.97,460.00M68.50,459.50L68.50,461.50M67.63,460.00L69.37,461.00M67.63,461.00L69.37,460.00M70.90,459.50L70.90,461.50M70.03,460.00L71.77,461.00M70.03,461.00L71.77,460.00" stroke="#1a1a1a" stroke-width="0.75" fill="none"/>
<text x="45.40" y="533.80" font-size="6.5" stroke="#231f20" stroke-width="0.15" text-anchor="end" textLength="20.50" lengthAdjust="spacingAndGlyphs" transform="rotate(-90 45.40 533.80)">Control</text>
<line x1="42.60" y1="527.90" x2="42.60" y2="530.40" stroke="#231f20" stroke-width="0.9"/>
<text x="62.10" y="533.80" font-size="6.5" stroke="#231f20" stroke-width="0.15" text-anchor="end" textLength="36.00" lengthAdjust="spacingAndGlyphs" transform="rotate(-90 62.10 533.80)">ME; Mll3 +/+</text>
<line x1="59.30" y1="527.90" x2="59.30" y2="530.40" stroke="#231f20" stroke-width="0.9"/>
<text x="79.30" y="533.80" font-size="6.5" stroke="#231f20" stroke-width="0.15" text-anchor="end" textLength="36.00" lengthAdjust="spacingAndGlyphs" transform="rotate(-90 79.30 533.80)">ME; Mll3 Δ/Δ</text>
<line x1="76.50" y1="527.90" x2="76.50" y2="530.40" stroke="#231f20" stroke-width="0.9"/>
<text x="124.10" y="447.50" font-size="8.2" stroke="#231f20" stroke-width="0.15" textLength="16.70" lengthAdjust="spacingAndGlyphs">Ppic</text>
<line x1="106.10" y1="462.50" x2="106.10" y2="527.90" stroke="#231f20" stroke-width="1.25"/>
<line x1="103.60" y1="524.70" x2="106.10" y2="524.70" stroke="#231f20" stroke-width="1.125"/>
<text x="101.60" y="526.80" font-size="6.5" stroke="#231f20" stroke-width="0.15" text-anchor="end">0</text>
<line x1="103.60" y1="509.68" x2="106.10" y2="509.68" stroke="#231f20" stroke-width="1.125"/>
<text x="101.60" y="511.78" font-size="6.5" stroke="#231f20" stroke-width="0.15" text-anchor="end">0.5</text>
<line x1="103.60" y1="494.65" x2="106.10" y2="494.65" stroke="#231f20" stroke-width="1.125"/>
<text x="101.60" y="496.75" font-size="6.5" stroke="#231f20" stroke-width="0.15" text-anchor="end">1.0</text>
<line x1="103.60" y1="479.63" x2="106.10" y2="479.63" stroke="#231f20" stroke-width="1.125"/>
<text x="101.60" y="481.73" font-size="6.5" stroke="#231f20" stroke-width="0.15" text-anchor="end">1.5</text>
<line x1="103.60" y1="464.60" x2="106.10" y2="464.60" stroke="#231f20" stroke-width="1.125"/>
<text x="101.60" y="466.70" font-size="6.5" stroke="#231f20" stroke-width="0.15" text-anchor="end">2.0</text>
<line x1="106.10" y1="527.90" x2="160.30" y2="527.90" stroke="#231f20" stroke-width="1.25"/>
<path d="M123.70,525.40 L123.70,524.50 L121.70,523.50 L119.50,522.20 L118.30,520.70 L117.70,517.70 L117.25,507.70 L116.80,481.00 L115.80,481.00 L115.35,507.70 L114.90,517.70 L114.30,520.70 L113.10,522.20 L110.90,523.50 L108.90,524.50 L108.90,525.40Z" stroke="none" stroke-width="0" fill="#c8102e"/>
<line x1="116.30" y1="467.00" x2="116.30" y2="481.50" stroke="#1a1a1a" stroke-width="1.15" stroke-dasharray="1.1 0.35"/>
<rect x="126.10" y="523.90" width="15.60" height="1.80" fill="#5e5e5e"/>
<line x1="133.90" y1="466.50" x2="133.90" y2="524.70" stroke="#1a1a1a" stroke-width="1.1" stroke-dasharray="1.2 0.3"/>
<path d="M158.50,525.40 L158.50,524.50 L156.50,523.50 L154.30,522.20 L153.10,520.70 L152.50,517.70 L152.05,507.70 L151.60,490.00 L150.60,490.00 L150.15,507.70 L149.70,517.70 L149.10,520.70 L147.90,522.20 L145.70,523.50 L143.70,524.50 L143.70,525.40Z" stroke="none" stroke-width="0" fill="#2fb34a"/>
<line x1="151.10" y1="466.00" x2="151.10" y2="490.50" stroke="#1a1a1a" stroke-width="1.15" stroke-dasharray="1.1 0.35"/>
<line x1="114.40" y1="465.00" x2="132.00" y2="465.00" stroke="#9a9a9a" stroke-width="1.3"/>
<path d="M120.80,460.70L120.80,462.70M119.93,461.20L121.67,462.20M119.93,462.20L121.67,461.20M123.20,460.70L123.20,462.70M122.33,461.20L124.07,462.20M122.33,462.20L124.07,461.20M125.60,460.70L125.60,462.70M124.73,461.20L126.47,462.20M124.73,462.20L126.47,461.20" stroke="#1a1a1a" stroke-width="0.75" fill="none"/>
<line x1="135.50" y1="465.00" x2="152.50" y2="465.00" stroke="#9a9a9a" stroke-width="1.3"/>
<path d="M141.60,460.70L141.60,462.70M140.73,461.20L142.47,462.20M140.73,462.20L142.47,461.20M144.00,460.70L144.00,462.70M143.13,461.20L144.87,462.20M143.13,462.20L144.87,461.20M146.40,460.70L146.40,462.70M145.53,461.20L147.27,462.20M145.53,462.20L147.27,461.20" stroke="#1a1a1a" stroke-width="0.75" fill="none"/>
<text x="119.10" y="533.80" font-size="6.5" stroke="#231f20" stroke-width="0.15" text-anchor="end" textLength="20.50" lengthAdjust="spacingAndGlyphs" transform="rotate(-90 119.10 533.80)">Control</text>
<line x1="116.30" y1="527.90" x2="116.30" y2="530.40" stroke="#231f20" stroke-width="0.9"/>
<text x="136.70" y="533.80" font-size="6.5" stroke="#231f20" stroke-width="0.15" text-anchor="end" textLength="36.00" lengthAdjust="spacingAndGlyphs" transform="rotate(-90 136.70 533.80)">ME; Mll3 +/+</text>
<line x1="133.90" y1="527.90" x2="133.90" y2="530.40" stroke="#231f20" stroke-width="0.9"/>
<text x="153.90" y="533.80" font-size="6.5" stroke="#231f20" stroke-width="0.15" text-anchor="end" textLength="36.00" lengthAdjust="spacingAndGlyphs" transform="rotate(-90 153.90 533.80)">ME; Mll3 Δ/Δ</text>
<line x1="151.10" y1="527.90" x2="151.10" y2="530.40" stroke="#231f20" stroke-width="0.9"/>
<text x="189.40" y="447.50" font-size="8.2" stroke="#231f20" stroke-width="0.15" textLength="25.40" lengthAdjust="spacingAndGlyphs">Il11ra1</text>
<line x1="178.60" y1="462.50" x2="178.60" y2="527.90" stroke="#231f20" stroke-width="1.25"/>
<line x1="176.10" y1="524.70" x2="178.60" y2="524.70" stroke="#231f20" stroke-width="1.125"/>
<text x="174.10" y="526.80" font-size="6.5" stroke="#231f20" stroke-width="0.15" text-anchor="end">0</text>
<line x1="176.10" y1="509.68" x2="178.60" y2="509.68" stroke="#231f20" stroke-width="1.125"/>
<text x="174.10" y="511.78" font-size="6.5" stroke="#231f20" stroke-width="0.15" text-anchor="end">0.5</text>
<line x1="176.10" y1="494.65" x2="178.60" y2="494.65" stroke="#231f20" stroke-width="1.125"/>
<text x="174.10" y="496.75" font-size="6.5" stroke="#231f20" stroke-width="0.15" text-anchor="end">1.0</text>
<line x1="176.10" y1="479.63" x2="178.60" y2="479.63" stroke="#231f20" stroke-width="1.125"/>
<text x="174.10" y="481.73" font-size="6.5" stroke="#231f20" stroke-width="0.15" text-anchor="end">1.5</text>
<line x1="176.10" y1="464.60" x2="178.60" y2="464.60" stroke="#231f20" stroke-width="1.125"/>
<text x="174.10" y="466.70" font-size="6.5" stroke="#231f20" stroke-width="0.15" text-anchor="end">2.0</text>
<line x1="178.60" y1="527.90" x2="232.80" y2="527.90" stroke="#231f20" stroke-width="1.25"/>
<path d="M196.40,525.40 L196.40,524.50 L194.40,523.50 L192.20,522.20 L191.00,520.70 L190.40,517.70 L189.95,507.70 L189.50,491.00 L188.50,491.00 L188.05,507.70 L187.60,517.70 L187.00,520.70 L185.80,522.20 L183.60,523.50 L181.60,524.50 L181.60,525.40Z" stroke="none" stroke-width="0" fill="#c8102e"/>
<line x1="189.00" y1="470.00" x2="189.00" y2="491.50" stroke="#1a1a1a" stroke-width="1.15" stroke-dasharray="1.1 0.35"/>
<rect x="198.20" y="523.90" width="15.60" height="1.80" fill="#5e5e5e"/>
<line x1="206.00" y1="476.70" x2="206.00" y2="524.70" stroke="#1a1a1a" stroke-width="1.1" stroke-dasharray="1.2 0.3"/>
<path d="M230.40,525.40 L230.40,524.50 L228.40,523.50 L226.20,522.20 L225.00,520.70 L224.40,517.70 L223.95,507.70 L223.50,488.00 L222.50,488.00 L222.05,507.70 L221.60,517.70 L221.00,520.70 L219.80,522.20 L217.60,523.50 L215.60,524.50 L215.60,525.40Z" stroke="none" stroke-width="0" fill="#2fb34a"/>
<line x1="223.00" y1="467.00" x2="223.00" y2="488.50" stroke="#1a1a1a" stroke-width="1.15" stroke-dasharray="1.1 0.35"/>
<line x1="186.40" y1="466.60" x2="203.40" y2="466.60" stroke="#9a9a9a" stroke-width="1.3"/>
<path d="M192.50,462.30L192.50,464.30M191.63,462.80L193.37,463.80M191.63,463.80L193.37,462.80M194.90,462.30L194.90,464.30M194.03,462.80L195.77,463.80M194.03,463.80L195.77,462.80M197.30,462.30L197.30,464.30M196.43,462.80L198.17,463.80M196.43,463.80L198.17,462.80" stroke="#1a1a1a" stroke-width="0.75" fill="none"/>
<line x1="207.40" y1="466.60" x2="224.20" y2="466.60" stroke="#9a9a9a" stroke-width="1.3"/>
<path d="M213.40,462.30L213.40,464.30M212.53,462.80L214.27,463.80M212.53,463.80L214.27,462.80M215.80,462.30L215.80,464.30M214.93,462.80L216.67,463.80M214.93,463.80L216.67,462.80M218.20,462.30L218.20,464.30M217.33,462.80L219.07,463.80M217.33,463.80L219.07,462.80" stroke="#1a1a1a" stroke-width="0.75" fill="none"/>
<text x="191.80" y="533.80" font-size="6.5" stroke="#231f20" stroke-width="0.15" text-anchor="end" textLength="20.50" lengthAdjust="spacingAndGlyphs" transform="rotate(-90 191.80 533.80)">Control</text>
<line x1="189.00" y1="527.90" x2="189.00" y2="530.40" stroke="#231f20" stroke-width="0.9"/>
<text x="208.80" y="533.80" font-size="6.5" stroke="#231f20" stroke-width="0.15" text-anchor="end" textLength="36.00" lengthAdjust="spacingAndGlyphs" transform="rotate(-90 208.80 533.80)">ME; Mll3 +/+</text>
<line x1="206.00" y1="527.90" x2="206.00" y2="530.40" stroke="#231f20" stroke-width="0.9"/>
<text x="225.80" y="533.80" font-size="6.5" stroke="#231f20" stroke-width="0.15" text-anchor="end" textLength="36.00" lengthAdjust="spacingAndGlyphs" transform="rotate(-90 225.80 533.80)">ME; Mll3 Δ/Δ</text>
<line x1="223.00" y1="527.90" x2="223.00" y2="530.40" stroke="#231f20" stroke-width="0.9"/>
<text x="17.20" y="495.00" font-size="7.6" stroke="#231f20" stroke-width="0.15" text-anchor="middle" textLength="51.80" lengthAdjust="spacingAndGlyphs" transform="rotate(-90 17.20 495.00)">Expression at P28</text>
<text x="261.40" y="428.40" font-size="11.3" fill="#000" font-weight="bold">J</text>
<text x="314.10" y="440.60" font-size="6.3" stroke="#231f20" stroke-width="0.15" text-anchor="middle" textLength="40.20" lengthAdjust="spacingAndGlyphs">P28 MLL::ENL</text>
<g transform="translate(313.00,454.00) scale(1.0,1.080)"><path d="M9.8,3 C12.5,3.2 14.6,4.6 14.3,6.1 C14,7.3 11,7.5 8,7.1 C6.5,6.9 5.5,6.6 4.8,6.5" stroke="#cbb6b8" stroke-width="0.6" fill="none"/><path d="M-5.3,4.2 l-1.1,1.1 M1.3,4.3 l-0.8,1.1 M7.5,4 l0.2,1.1" stroke="#c9b4b4" stroke-width="0.6" fill="none"/><path d="M-10.7,-1.4 C-9.5,-2.6 -7.8,-3.4 -6.3,-3.8 L-6,-4.8 C-5.2,-5.4 -4.1,-5.0 -4.0,-3.9 C-1,-3.7 2.5,-3.4 4.5,-2.9 C7.5,-2.0 10,-0.3 10.7,1.9 C11,3 10.2,3.8 9,4.1 C6,4.7 3,4.6 1,4.5 L-4.5,4.4 C-6.5,3.8 -8.2,2 -8.9,0.6 C-9.6,-0.2 -10.3,-0.7 -10.7,-1.4 Z" fill="#444"/><path d="M-6,-3.1 C-2,-3.4 3,-3.0 6,-1.7" stroke="#6a6a6a" stroke-width="0.9" fill="none" opacity="0.7"/><circle cx="-7.6" cy="-2.2" r="0.55" fill="#111"/><circle cx="-10.6" cy="-1.6" r="0.45" fill="#222"/></g>
<line x1="333.50" y1="451.20" x2="347.49" y2="443.06" stroke="#111" stroke-width="1.2"/>
<path d="M350.00,441.60 L347.87,444.69 L346.26,441.93 Z" stroke="none" stroke-width="0" fill="#111"/>
<line x1="333.50" y1="455.20" x2="347.55" y2="464.05" stroke="#111" stroke-width="1.2"/>
<path d="M350.00,465.60 L346.27,465.14 L347.98,462.43 Z" stroke="none" stroke-width="0" fill="#111"/>
<ellipse cx="365.8" cy="438.6" rx="11.9" ry="7.8" fill="#f8e4e4" stroke="#eab8bc" stroke-width="1.0"/>
<ellipse cx="365.8" cy="438.6" rx="9.6" ry="6.0" fill="#f6d8d8" stroke="#eab8bc" stroke-width="0.4" stroke-opacity="0.6"/>
<path transform="translate(365.8,438.6)" d="M-6.2,1.2 L-4.8,-0.6 L-3.2,-0.2 L-2.2,-2.6 L-0.6,-1.8 L0.4,-3.6 L2.2,-2.2 L3.6,-3.4 L4.6,-1.4 L6.4,-0.6 L5.6,1.2 L6.8,2.6 L4.2,3.0 L2.6,4.2 L0.8,2.8 L-1.0,4.0 L-2.4,2.6 L-4.4,3.6 L-4.6,2.0 Z" fill="#b8444c" stroke="#b8444c" stroke-width="0.6" stroke-linejoin="round"/>
<ellipse cx="367.5" cy="471.8" rx="11.9" ry="7.8" fill="#eaf2fa" stroke="#c4d8ec" stroke-width="1.0"/>
<ellipse cx="367.5" cy="471.8" rx="9.6" ry="6.0" fill="#dce8f5" stroke="#c4d8ec" stroke-width="0.4" stroke-opacity="0.6"/>
<path transform="translate(367.5,471.8)" d="M-6.2,1.2 L-4.8,-0.6 L-3.2,-0.2 L-2.2,-2.6 L-0.6,-1.8 L0.4,-3.6 L2.2,-2.2 L3.6,-3.4 L4.6,-1.4 L6.4,-0.6 L5.6,1.2 L6.8,2.6 L4.2,3.0 L2.6,4.2 L0.8,2.8 L-1.0,4.0 L-2.4,2.6 L-4.4,3.6 L-4.6,2.0 Z" fill="#4474b8" stroke="#4474b8" stroke-width="0.6" stroke-linejoin="round"/>
<text x="366.20" y="428.70" font-size="6.6" stroke="#231f20" stroke-width="0.15" text-anchor="middle" textLength="27.00" lengthAdjust="spacingAndGlyphs">HSC/MPP</text>
<text x="367.00" y="462.00" font-size="6.6" stroke="#231f20" stroke-width="0.15" text-anchor="middle" textLength="14.60" lengthAdjust="spacingAndGlyphs">GMP</text>
<line x1="382.50" y1="438.30" x2="391.50" y2="438.30" stroke="#111" stroke-width="1.2"/>
<path d="M394.40,438.30 L391.00,439.90 L391.00,436.70 Z" stroke="none" stroke-width="0" fill="#111"/>
<g transform="translate(400.80,446.60)"><ellipse cx="0" cy="0.2" rx="5.2" ry="1.7" fill="#4a4a4a"/><ellipse cx="0" cy="-0.6" rx="4.6" ry="1.2" fill="#6a6a6a"/><rect x="-1.9" y="-9.4" width="1.4" height="8.6" fill="#d0d0d0" stroke="#9a9a9a" stroke-width="0.3"/><rect x="0.0" y="-9.6" width="2.0" height="9.0" fill="#3a3a3a"/><line x1="-0.9" y1="-18.6" x2="-0.9" y2="-9.4" stroke="#9a9a9a" stroke-width="0.55"/></g>
<path d="M403.00,432.00 l1.2,-2.3 l1.2,2.3 l1.2,-2.3 l1.2,2.3 l1.2,-2.3 l1.2,2.3 l1.2,-2.3 l1.2,2.3 l1.2,-2.3 l1.2,2.3 l1.2,-2.3 l1.2,2.3" stroke="#6b8cbc" stroke-width="0.75" fill="none" stroke-linejoin="round"/>
<path d="M409.80,432.40 l2.0,3.6 l1.6,-2.6" stroke="#8aa6cc" stroke-width="0.6" fill="none"/>
<line x1="419.80" y1="438.30" x2="429.10" y2="438.30" stroke="#111" stroke-width="1.2"/>
<path d="M432.00,438.30 L428.60,439.90 L428.60,436.70 Z" stroke="none" stroke-width="0" fill="#111"/>
<g transform="translate(448.00,438.60) scale(1.0,1.080)"><path d="M9.8,3 C12.5,3.2 14.6,4.6 14.3,6.1 C14,7.3 11,7.5 8,7.1 C6.5,6.9 5.5,6.6 4.8,6.5" stroke="#cbb6b8" stroke-width="0.6" fill="none"/><path d="M-5.3,4.2 l-1.1,1.1 M1.3,4.3 l-0.8,1.1 M7.5,4 l0.2,1.1" stroke="#c9b4b4" stroke-width="0.6" fill="none"/><path d="M-10.7,-1.4 C-9.5,-2.6 -7.8,-3.4 -6.3,-3.8 L-6,-4.8 C-5.2,-5.4 -4.1,-5.0 -4.0,-3.9 C-1,-3.7 2.5,-3.4 4.5,-2.9 C7.5,-2.0 10,-0.3 10.7,1.9 C11,3 10.2,3.8 9,4.1 C6,4.7 3,4.6 1,4.5 L-4.5,4.4 C-6.5,3.8 -8.2,2 -8.9,0.6 C-9.6,-0.2 -10.3,-0.7 -10.7,-1.4 Z" fill="#444"/><path d="M-6,-3.1 C-2,-3.4 3,-3.0 6,-1.7" stroke="#6a6a6a" stroke-width="0.9" fill="none" opacity="0.7"/><circle cx="-7.6" cy="-2.2" r="0.55" fill="#111"/><circle cx="-10.6" cy="-1.6" r="0.45" fill="#222"/></g>
<g transform="translate(449.40,424.40)" fill="#ec9532"><path d="M3.3,0 L5.3,0 L3.6,3.5 L4.9,3.5 L1.1,8.5 L2.2,4.7 L0.8,4.7 Z"/><path d="M8.6,0 L10.6,0 L8.9,3.5 L10.2,3.5 L6.4,8.3 L7.5,4.7 L6.1,4.7 Z"/></g>
<line x1="382.50" y1="471.70" x2="391.50" y2="471.70" stroke="#111" stroke-width="1.2"/>
<path d="M394.40,471.70 L391.00,473.30 L391.00,470.10 Z" stroke="none" stroke-width="0" fill="#111"/>
<g transform="translate(400.80,480.00)"><ellipse cx="0" cy="0.2" rx="5.2" ry="1.7" fill="#4a4a4a"/><ellipse cx="0" cy="-0.6" rx="4.6" ry="1.2" fill="#6a6a6a"/><rect x="-1.9" y="-9.4" width="1.4" height="8.6" fill="#d0d0d0" stroke="#9a9a9a" stroke-width="0.3"/><rect x="0.0" y="-9.6" width="2.0" height="9.0" fill="#3a3a3a"/><line x1="-0.9" y1="-18.6" x2="-0.9" y2="-9.4" stroke="#9a9a9a" stroke-width="0.55"/></g>
<path d="M403.00,465.40 l1.2,-2.3 l1.2,2.3 l1.2,-2.3 l1.2,2.3 l1.2,-2.3 l1.2,2.3 l1.2,-2.3 l1.2,2.3 l1.2,-2.3 l1.2,2.3 l1.2,-2.3 l1.2,2.3" stroke="#6b8cbc" stroke-width="0.75" fill="none" stroke-linejoin="round"/>
<path d="M409.80,465.80 l2.0,3.6 l1.6,-2.6" stroke="#8aa6cc" stroke-width="0.6" fill="none"/>
<line x1="419.80" y1="471.70" x2="429.10" y2="471.70" stroke="#111" stroke-width="1.2"/>
<path d="M432.00,471.70 L428.60,473.30 L428.60,470.10 Z" stroke="none" stroke-width="0" fill="#111"/>
<g transform="translate(448.00,472.00) scale(1.0,1.080)"><path d="M9.8,3 C12.5,3.2 14.6,4.6 14.3,6.1 C14,7.3 11,7.5 8,7.1 C6.5,6.9 5.5,6.6 4.8,6.5" stroke="#cbb6b8" stroke-width="0.6" fill="none"/><path d="M-5.3,4.2 l-1.1,1.1 M1.3,4.3 l-0.8,1.1 M7.5,4 l0.2,1.1" stroke="#c9b4b4" stroke-width="0.6" fill="none"/><path d="M-10.7,-1.4 C-9.5,-2.6 -7.8,-3.4 -6.3,-3.8 L-6,-4.8 C-5.2,-5.4 -4.1,-5.0 -4.0,-3.9 C-1,-3.7 2.5,-3.4 4.5,-2.9 C7.5,-2.0 10,-0.3 10.7,1.9 C11,3 10.2,3.8 9,4.1 C6,4.7 3,4.6 1,4.5 L-4.5,4.4 C-6.5,3.8 -8.2,2 -8.9,0.6 C-9.6,-0.2 -10.3,-0.7 -10.7,-1.4 Z" fill="#444"/><path d="M-6,-3.1 C-2,-3.4 3,-3.0 6,-1.7" stroke="#6a6a6a" stroke-width="0.9" fill="none" opacity="0.7"/><circle cx="-7.6" cy="-2.2" r="0.55" fill="#111"/><circle cx="-10.6" cy="-1.6" r="0.45" fill="#222"/></g>
<g transform="translate(449.40,457.80)" fill="#ec9532"><path d="M3.3,0 L5.3,0 L3.6,3.5 L4.9,3.5 L1.1,8.5 L2.2,4.7 L0.8,4.7 Z"/><path d="M8.6,0 L10.6,0 L8.9,3.5 L10.2,3.5 L6.4,8.3 L7.5,4.7 L6.1,4.7 Z"/></g>
<text x="396.20" y="458.00" font-size="6.6" stroke="#231f20" stroke-width="0.15" textLength="49.80" lengthAdjust="spacingAndGlyphs">Mll3 or Ctl gRNA</text>
<text x="244.60" y="498.75" font-size="11.3" fill="#000" font-weight="bold">K</text>
<text x="316.00" y="500.60" font-size="9.2" stroke="#231f20" stroke-width="0.15" text-anchor="middle" textLength="75.40" lengthAdjust="spacingAndGlyphs">MLL::ENL HSC/MPP</text>
<text x="316.00" y="510.60" font-size="9.2" stroke="#231f20" stroke-width="0.15" text-anchor="middle" textLength="45.90" lengthAdjust="spacingAndGlyphs">(Tet-Off-ME)</text>
<line x1="272.90" y1="518.50" x2="272.90" y2="585.20" stroke="#231f20" stroke-width="1.25"/>
<line x1="270.40" y1="584.90" x2="272.90" y2="584.90" stroke="#231f20" stroke-width="1.125"/>
<text x="268.40" y="587.00" font-size="6.5" stroke="#231f20" stroke-width="0.15" text-anchor="end">0</text>
<line x1="270.40" y1="572.18" x2="272.90" y2="572.18" stroke="#231f20" stroke-width="1.125"/>
<text x="268.40" y="574.28" font-size="6.5" stroke="#231f20" stroke-width="0.15" text-anchor="end">20</text>
<line x1="270.40" y1="559.46" x2="272.90" y2="559.46" stroke="#231f20" stroke-width="1.125"/>
<text x="268.40" y="561.56" font-size="6.5" stroke="#231f20" stroke-width="0.15" text-anchor="end">40</text>
<line x1="270.40" y1="546.74" x2="272.90" y2="546.74" stroke="#231f20" stroke-width="1.125"/>
<text x="268.40" y="548.84" font-size="6.5" stroke="#231f20" stroke-width="0.15" text-anchor="end">60</text>
<line x1="270.40" y1="534.02" x2="272.90" y2="534.02" stroke="#231f20" stroke-width="1.125"/>
<text x="268.40" y="536.12" font-size="6.5" stroke="#231f20" stroke-width="0.15" text-anchor="end">80</text>
<line x1="270.40" y1="521.30" x2="272.90" y2="521.30" stroke="#231f20" stroke-width="1.125"/>
<text x="268.40" y="523.40" font-size="6.5" stroke="#231f20" stroke-width="0.15" text-anchor="end">100</text>
<line x1="272.90" y1="585.20" x2="371.20" y2="585.20" stroke="#231f20" stroke-width="1.25"/>
<line x1="272.90" y1="585.20" x2="272.90" y2="588.20" stroke="#231f20" stroke-width="1.125"/>
<text x="272.90" y="596.80" font-size="6.5" stroke="#231f20" stroke-width="0.15" text-anchor="middle">0</text>
<line x1="296.40" y1="585.20" x2="296.40" y2="588.20" stroke="#231f20" stroke-width="1.125"/>
<text x="296.40" y="596.80" font-size="6.5" stroke="#231f20" stroke-width="0.15" text-anchor="middle">50</text>
<line x1="319.90" y1="585.20" x2="319.90" y2="588.20" stroke="#231f20" stroke-width="1.125"/>
<text x="319.90" y="596.80" font-size="6.5" stroke="#231f20" stroke-width="0.15" text-anchor="middle">100</text>
<line x1="343.40" y1="585.20" x2="343.40" y2="588.20" stroke="#231f20" stroke-width="1.125"/>
<text x="343.40" y="596.80" font-size="6.5" stroke="#231f20" stroke-width="0.15" text-anchor="middle">150</text>
<line x1="366.90" y1="585.20" x2="366.90" y2="588.20" stroke="#231f20" stroke-width="1.125"/>
<text x="366.90" y="596.80" font-size="6.5" stroke="#231f20" stroke-width="0.15" text-anchor="middle">200</text>
<text x="322.70" y="608.60" font-size="7.8" stroke="#231f20" stroke-width="0.15" text-anchor="middle" textLength="62.00" lengthAdjust="spacingAndGlyphs">Days after transplant</text>
<text x="251.40" y="551.40" font-size="7.8" stroke="#231f20" stroke-width="0.15" text-anchor="middle" textLength="37.40" lengthAdjust="spacingAndGlyphs" transform="rotate(-90 251.40 551.40)">Percent alive</text>
<path d="M304.90,521.30 L314.80,521.30 L314.80,535.50 L316.50,535.50 L316.50,557.30 L318.20,557.30 L318.20,571.00 L319.80,571.00 L319.80,577.80 L327.50,577.80 L327.50,585.20" stroke="#4a7db8" stroke-width="1.1" fill="none"/>
<path d="M272.90,521.30 L304.90,521.30 L304.90,528.10 L316.10,528.10 L316.10,535.50 L323.30,535.50 L323.30,542.50 L324.80,542.50 L324.80,549.30 L340.40,549.30 L340.40,571.00 L350.80,571.00 L350.80,577.80 L355.30,577.80 L355.30,585.20" stroke="#222" stroke-width="1.2" fill="none"/>
<text x="328.80" y="532.00" font-size="6.4" stroke="#231f20" stroke-width="0.15" textLength="40.20" lengthAdjust="spacingAndGlyphs">Control gRNA</text>
<text x="349.00" y="539.00" font-size="6.4" stroke="#231f20" stroke-width="0.15" text-anchor="middle">(n = 10)</text>
<text x="278.50" y="542.40" font-size="6.9" stroke="#231f20" stroke-width="0.15" textLength="19.00" lengthAdjust="spacingAndGlyphs"><tspan font-style="italic">P</tspan> &lt; .01</text>
<text x="281.60" y="560.60" font-size="6.6" stroke="#3a75b0" stroke-width="0.15" fill="#3a75b0" textLength="26.40" lengthAdjust="spacingAndGlyphs"><tspan font-style="italic">Mll3</tspan> mut</text>
<text x="294.40" y="568.00" font-size="6.4" stroke="#3a75b0" stroke-width="0.15" text-anchor="middle" fill="#3a75b0">(n = 10)</text>
<text x="379.50" y="498.75" font-size="11.3" fill="#000" font-weight="bold">L</text>
<text x="450.00" y="500.60" font-size="9.2" stroke="#231f20" stroke-width="0.15" text-anchor="middle" textLength="62.00" lengthAdjust="spacingAndGlyphs">MLL::ENL GMPs</text>
<text x="449.60" y="510.60" font-size="9.2" stroke="#231f20" stroke-width="0.15" text-anchor="middle" textLength="46.60" lengthAdjust="spacingAndGlyphs">(Tet-Off-ME)</text>
<line x1="408.30" y1="518.50" x2="408.30" y2="585.20" stroke="#231f20" stroke-width="1.25"/>
<line x1="405.80" y1="585.20" x2="408.30" y2="585.20" stroke="#231f20" stroke-width="1.125"/>
<text x="403.80" y="587.30" font-size="6.5" stroke="#231f20" stroke-width="0.15" text-anchor="end">0</text>
<line x1="405.80" y1="572.50" x2="408.30" y2="572.50" stroke="#231f20" stroke-width="1.125"/>
<text x="403.80" y="574.60" font-size="6.5" stroke="#231f20" stroke-width="0.15" text-anchor="end">20</text>
<line x1="405.80" y1="559.80" x2="408.30" y2="559.80" stroke="#231f20" stroke-width="1.125"/>
<text x="403.80" y="561.90" font-size="6.5" stroke="#231f20" stroke-width="0.15" text-anchor="end">40</text>
<line x1="405.80" y1="547.10" x2="408.30" y2="547.10" stroke="#231f20" stroke-width="1.125"/>
<text x="403.80" y="549.20" font-size="6.5" stroke="#231f20" stroke-width="0.15" text-anchor="end">60</text>
<line x1="405.80" y1="534.40" x2="408.30" y2="534.40" stroke="#231f20" stroke-width="1.125"/>
<text x="403.80" y="536.50" font-size="6.5" stroke="#231f20" stroke-width="0.15" text-anchor="end">80</text>
<line x1="405.80" y1="521.70" x2="408.30" y2="521.70" stroke="#231f20" stroke-width="1.125"/>
<text x="403.80" y="523.80" font-size="6.5" stroke="#231f20" stroke-width="0.15" text-anchor="end">100</text>
<line x1="408.30" y1="585.20" x2="506.50" y2="585.20" stroke="#231f20" stroke-width="1.25"/>
<line x1="408.30" y1="585.20" x2="408.30" y2="588.20" stroke="#231f20" stroke-width="1.125"/>
<text x="408.30" y="596.80" font-size="6.5" stroke="#231f20" stroke-width="0.15" text-anchor="middle">0</text>
<line x1="432.43" y1="585.20" x2="432.43" y2="588.20" stroke="#231f20" stroke-width="1.125"/>
<text x="432.43" y="596.80" font-size="6.5" stroke="#231f20" stroke-width="0.15" text-anchor="middle">50</text>
<line x1="456.55" y1="585.20" x2="456.55" y2="588.20" stroke="#231f20" stroke-width="1.125"/>
<text x="456.55" y="596.80" font-size="6.5" stroke="#231f20" stroke-width="0.15" text-anchor="middle">100</text>
<line x1="480.68" y1="585.20" x2="480.68" y2="588.20" stroke="#231f20" stroke-width="1.125"/>
<text x="480.68" y="596.80" font-size="6.5" stroke="#231f20" stroke-width="0.15" text-anchor="middle">150</text>
<line x1="504.80" y1="585.20" x2="504.80" y2="588.20" stroke="#231f20" stroke-width="1.125"/>
<text x="504.80" y="596.80" font-size="6.5" stroke="#231f20" stroke-width="0.15" text-anchor="middle">200</text>
<text x="461.50" y="608.60" font-size="7.8" stroke="#231f20" stroke-width="0.15" text-anchor="middle" textLength="60.50" lengthAdjust="spacingAndGlyphs">Days after transplant</text>
<text x="386.60" y="551.60" font-size="7.8" stroke="#231f20" stroke-width="0.15" text-anchor="middle" textLength="37.40" lengthAdjust="spacingAndGlyphs" transform="rotate(-90 386.60 551.60)">Percent alive</text>
<path d="M408.30,521.70 L453.17,521.70 L453.17,521.70 L453.17,529.32 L491.77,529.32" stroke="#333" stroke-width="1.2" fill="none"/>
<path d="M408.30,521.70 L430.50,521.70 L430.50,521.70 L430.50,528.69 L432.43,528.69 L432.43,528.69 L432.43,535.67 L448.35,535.67 L448.35,535.67 L448.35,542.66 L449.80,542.66 L449.80,542.66 L449.80,549.64 L451.73,549.64 L451.73,549.64 L451.73,557.26 L460.41,557.26 L460.41,557.26 L460.41,564.25 L465.24,564.25 L465.24,564.25 L465.24,571.23 L475.37,571.23 L475.37,571.23 L475.37,578.22 L485.98,578.22 L485.98,578.22 L485.98,585.20" stroke="#d1375f" stroke-width="1.1" fill="none"/>
<text x="462.10" y="539.40" font-size="6.4" stroke="#231f20" stroke-width="0.15" textLength="41.20" lengthAdjust="spacingAndGlyphs">Control gRNA</text>
<text x="483.00" y="546.90" font-size="6.4" stroke="#231f20" stroke-width="0.15" text-anchor="middle">(n = 10)</text>
<text x="416.30" y="551.20" font-size="6.9" stroke="#231f20" stroke-width="0.15" textLength="19.00" lengthAdjust="spacingAndGlyphs"><tspan font-style="italic">P</tspan> &lt; .01</text>
<text x="427.90" y="571.20" font-size="6.6" stroke="#c8406a" stroke-width="0.15" fill="#c8406a" textLength="22.60" lengthAdjust="spacingAndGlyphs"><tspan font-style="italic">Mll3</tspan> mut</text>
<text x="440.60" y="578.20" font-size="6.6" stroke="#c8406a" stroke-width="0.15" text-anchor="middle" fill="#c8406a" textLength="18.50" lengthAdjust="spacingAndGlyphs">(n = 9)</text>
<rect x="0.6" y="0.6" width="518.6" height="612.6" fill="none" stroke="#4d4d4d" stroke-width="1.3"/>
</svg>
</body></html>
